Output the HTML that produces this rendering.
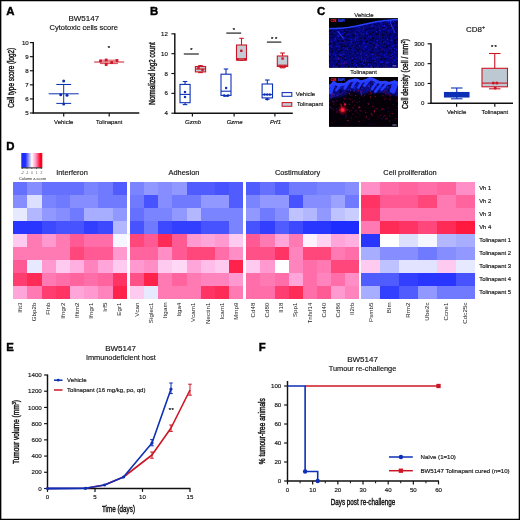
<!DOCTYPE html>
<html lang="en"><head><meta charset="utf-8"><title>Figure</title>
<style>
html,body{margin:0;padding:0;background:#fff;}
body{width:520px;height:520px;overflow:hidden;}
svg{display:block;font-family:'Liberation Sans', sans-serif;}
</style></head><body>
<svg width="520" height="520" viewBox="0 0 520 520">
<rect width="520" height="520" fill="#fff"/>
<text x="6.3" y="14.6" font-size="11.4" text-anchor="start" fill="#000" font-weight="bold" stroke="#000" stroke-width="0.4">A</text>
<text x="150" y="14.6" font-size="11.4" text-anchor="start" fill="#000" font-weight="bold" stroke="#000" stroke-width="0.4">B</text>
<text x="317" y="14.6" font-size="11.4" text-anchor="start" fill="#000" font-weight="bold" stroke="#000" stroke-width="0.4">C</text>
<text x="6.3" y="149.5" font-size="11.4" text-anchor="start" fill="#000" font-weight="bold" stroke="#000" stroke-width="0.4">D</text>
<text x="6.3" y="350.5" font-size="11.4" text-anchor="start" fill="#000" font-weight="bold" stroke="#000" stroke-width="0.4">E</text>
<text x="258.8" y="350.5" font-size="11.4" text-anchor="start" fill="#000" font-weight="bold" stroke="#000" stroke-width="0.4">F</text>
<text x="83.8" y="21" font-size="8" text-anchor="middle" fill="#111"  stroke="#1a1a1a" stroke-width="0.16">BW5147</text>
<text x="83.8" y="30.3" font-size="7.5" text-anchor="middle" fill="#111"  stroke="#1a1a1a" stroke-width="0.16">Cytotoxic cells score</text>
<line x1="33.3" y1="42" x2="33.3" y2="113.6" stroke="#111" stroke-width="1.45" stroke-linecap="butt"/>
<line x1="32.699999999999996" y1="113.0" x2="139.3" y2="113.0" stroke="#111" stroke-width="1.6" stroke-linecap="butt"/>
<line x1="29.9" y1="42.6" x2="33.3" y2="42.6" stroke="#111" stroke-width="1.15" stroke-linecap="butt"/>
<text x="28.699999999999996" y="44.7" font-size="6.1" text-anchor="end" fill="#111"  stroke="#1a1a1a" stroke-width="0.16">10</text>
<line x1="29.9" y1="56.68" x2="33.3" y2="56.68" stroke="#111" stroke-width="1.15" stroke-linecap="butt"/>
<text x="28.699999999999996" y="58.78" font-size="6.1" text-anchor="end" fill="#111"  stroke="#1a1a1a" stroke-width="0.16">9</text>
<line x1="29.9" y1="70.76" x2="33.3" y2="70.76" stroke="#111" stroke-width="1.15" stroke-linecap="butt"/>
<text x="28.699999999999996" y="72.86" font-size="6.1" text-anchor="end" fill="#111"  stroke="#1a1a1a" stroke-width="0.16">8</text>
<line x1="29.9" y1="84.84" x2="33.3" y2="84.84" stroke="#111" stroke-width="1.15" stroke-linecap="butt"/>
<text x="28.699999999999996" y="86.94" font-size="6.1" text-anchor="end" fill="#111"  stroke="#1a1a1a" stroke-width="0.16">7</text>
<line x1="29.9" y1="98.92" x2="33.3" y2="98.92" stroke="#111" stroke-width="1.15" stroke-linecap="butt"/>
<text x="28.699999999999996" y="101.02" font-size="6.1" text-anchor="end" fill="#111"  stroke="#1a1a1a" stroke-width="0.16">6</text>
<line x1="29.9" y1="113.0" x2="33.3" y2="113.0" stroke="#111" stroke-width="1.15" stroke-linecap="butt"/>
<text x="28.699999999999996" y="115.1" font-size="6.1" text-anchor="end" fill="#111"  stroke="#1a1a1a" stroke-width="0.16">5</text>
<line x1="63.7" y1="113.0" x2="63.7" y2="116.4" stroke="#111" stroke-width="1.2" stroke-linecap="butt"/>
<text x="63.7" y="123.8" font-size="6.0" text-anchor="middle" fill="#111"  stroke="#1a1a1a" stroke-width="0.16">Vehicle</text>
<line x1="109.2" y1="113.0" x2="109.2" y2="116.4" stroke="#111" stroke-width="1.2" stroke-linecap="butt"/>
<text x="109.2" y="123.8" font-size="6.0" text-anchor="middle" fill="#111" textLength="26.3" lengthAdjust="spacingAndGlyphs"  stroke="#1a1a1a" stroke-width="0.16">Tolinapant</text>
<text x="13.6" y="77.8" font-size="8.6" text-anchor="middle" fill="#111" textLength="60" lengthAdjust="spacingAndGlyphs" transform="rotate(-90 13.6 77.8)" stroke="#111" stroke-width="0.4">Cell type score (log2)</text>
<line x1="48.7" y1="93.8" x2="78.7" y2="93.8" stroke="#0d30b6" stroke-width="1" stroke-linecap="butt"/>
<line x1="63.7" y1="84.5" x2="63.7" y2="103.4" stroke="#0d30b6" stroke-width="1" stroke-linecap="butt"/>
<line x1="56.3" y1="84.5" x2="71.2" y2="84.5" stroke="#0d30b6" stroke-width="1" stroke-linecap="butt"/>
<line x1="56.3" y1="103.4" x2="71.2" y2="103.4" stroke="#0d30b6" stroke-width="1" stroke-linecap="butt"/>
<circle cx="63.70" cy="81.00" r="1.5" fill="#0d30b6"/>
<circle cx="60.70" cy="94.80" r="1.5" fill="#0d30b6"/>
<circle cx="67.00" cy="95.20" r="1.5" fill="#0d30b6"/>
<circle cx="63.70" cy="104.00" r="1.5" fill="#0d30b6"/>
<line x1="94.2" y1="62" x2="124.2" y2="62" stroke="#cc1626" stroke-width="1" stroke-linecap="butt"/>
<line x1="100" y1="60.2" x2="118" y2="60.2" stroke="#cc1626" stroke-width="0.8" stroke-linecap="butt"/>
<line x1="100" y1="63.6" x2="118" y2="63.6" stroke="#cc1626" stroke-width="0.8" stroke-linecap="butt"/>
<rect x="99.10" y="59.60" width="2.80" height="2.80" fill="#cc1626" stroke="none" stroke-width="1"/>
<rect x="104.80" y="58.60" width="2.80" height="2.80" fill="#cc1626" stroke="none" stroke-width="1"/>
<rect x="104.80" y="63.10" width="2.80" height="2.80" fill="#cc1626" stroke="none" stroke-width="1"/>
<rect x="110.30" y="61.10" width="2.80" height="2.80" fill="#cc1626" stroke="none" stroke-width="1"/>
<rect x="115.60" y="59.10" width="2.80" height="2.80" fill="#cc1626" stroke="none" stroke-width="1"/>
<text x="108.8" y="50.48" font-size="5.8" text-anchor="middle" fill="#111" stroke="#111" stroke-width="0.22" >*</text>
<line x1="174.8" y1="33.34" x2="174.8" y2="113.8" stroke="#111" stroke-width="1.45" stroke-linecap="butt"/>
<line x1="174.20000000000002" y1="113.2" x2="292.8" y2="113.2" stroke="#111" stroke-width="1.6" stroke-linecap="butt"/>
<line x1="171.4" y1="33.84" x2="174.8" y2="33.84" stroke="#111" stroke-width="1.15" stroke-linecap="butt"/>
<text x="167.8" y="35.84" font-size="6.1" text-anchor="end" fill="#111"  stroke="#1a1a1a" stroke-width="0.16">12</text>
<line x1="171.4" y1="53.68000000000001" x2="174.8" y2="53.68000000000001" stroke="#111" stroke-width="1.15" stroke-linecap="butt"/>
<text x="167.8" y="55.68000000000001" font-size="6.1" text-anchor="end" fill="#111"  stroke="#1a1a1a" stroke-width="0.16">10</text>
<line x1="171.4" y1="73.52000000000001" x2="174.8" y2="73.52000000000001" stroke="#111" stroke-width="1.15" stroke-linecap="butt"/>
<text x="167.8" y="75.52000000000001" font-size="6.1" text-anchor="end" fill="#111"  stroke="#1a1a1a" stroke-width="0.16">8</text>
<line x1="171.4" y1="93.36" x2="174.8" y2="93.36" stroke="#111" stroke-width="1.15" stroke-linecap="butt"/>
<text x="167.8" y="95.36" font-size="6.1" text-anchor="end" fill="#111"  stroke="#1a1a1a" stroke-width="0.16">6</text>
<line x1="171.4" y1="113.2" x2="174.8" y2="113.2" stroke="#111" stroke-width="1.15" stroke-linecap="butt"/>
<text x="167.8" y="115.2" font-size="6.1" text-anchor="end" fill="#111"  stroke="#1a1a1a" stroke-width="0.16">4</text>
<line x1="192.4" y1="113.2" x2="192.4" y2="116.60000000000001" stroke="#111" stroke-width="1.2" stroke-linecap="butt"/>
<text x="193.0" y="123.8" font-size="6.0" text-anchor="middle" fill="#111" font-style="italic"  stroke="#1a1a1a" stroke-width="0.16">Gzmb</text>
<line x1="234.10000000000002" y1="113.2" x2="234.10000000000002" y2="116.60000000000001" stroke="#111" stroke-width="1.2" stroke-linecap="butt"/>
<text x="234.70000000000002" y="123.8" font-size="6.0" text-anchor="middle" fill="#111" font-style="italic"  stroke="#1a1a1a" stroke-width="0.16">Gzme</text>
<line x1="274.90000000000003" y1="113.2" x2="274.90000000000003" y2="116.60000000000001" stroke="#111" stroke-width="1.2" stroke-linecap="butt"/>
<text x="275.5" y="123.8" font-size="6.0" text-anchor="middle" fill="#111" font-style="italic"  stroke="#1a1a1a" stroke-width="0.16">Prf1</text>
<text x="154.6" y="73.4" font-size="8.6" text-anchor="middle" fill="#111" textLength="62.5" lengthAdjust="spacingAndGlyphs" transform="rotate(-90 154.6 73.4)" stroke="#111" stroke-width="0.4">Normalized log2 count</text>
<line x1="185.05" y1="81.5" x2="185.05" y2="84.4" stroke="#0d30b6" stroke-width="1.1" stroke-linecap="butt"/>
<line x1="185.05" y1="102.7" x2="185.05" y2="104.6" stroke="#0d30b6" stroke-width="1.1" stroke-linecap="butt"/>
<line x1="182.7775" y1="81.5" x2="187.32250000000002" y2="81.5" stroke="#0d30b6" stroke-width="1.1" stroke-linecap="butt"/>
<line x1="182.7775" y1="104.6" x2="187.32250000000002" y2="104.6" stroke="#0d30b6" stroke-width="1.1" stroke-linecap="butt"/>
<rect x="180.00" y="84.40" width="10.10" height="18.30" fill="none" stroke="#0d30b6" stroke-width="1.1"/>
<line x1="180" y1="94.4" x2="190.1" y2="94.4" stroke="#0d30b6" stroke-width="1.1" stroke-linecap="butt"/>
<circle cx="185.00" cy="91.90" r="1.25" fill="#0d30b6"/>
<circle cx="185.00" cy="96.90" r="1.25" fill="#0d30b6"/>
<line x1="200.5" y1="65.6" x2="200.5" y2="66.5" stroke="#cc1626" stroke-width="1.1" stroke-linecap="butt"/>
<line x1="200.5" y1="71.9" x2="200.5" y2="72.6" stroke="#cc1626" stroke-width="1.1" stroke-linecap="butt"/>
<line x1="198.205" y1="65.6" x2="202.795" y2="65.6" stroke="#cc1626" stroke-width="1.1" stroke-linecap="butt"/>
<line x1="198.205" y1="72.6" x2="202.795" y2="72.6" stroke="#cc1626" stroke-width="1.1" stroke-linecap="butt"/>
<rect x="195.40" y="66.50" width="10.20" height="5.40" fill="#c3ccd4" stroke="#cc1626" stroke-width="1.1"/>
<line x1="195.4" y1="69" x2="205.6" y2="69" stroke="#cc1626" stroke-width="1.1" stroke-linecap="butt"/>
<rect x="197.31" y="66.81" width="2.38" height="2.38" fill="#cc1626" stroke="none" stroke-width="1"/>
<rect x="201.31" y="68.81" width="2.38" height="2.38" fill="#cc1626" stroke="none" stroke-width="1"/>
<line x1="226.0" y1="69" x2="226.0" y2="74.2" stroke="#0d30b6" stroke-width="1.1" stroke-linecap="butt"/>
<line x1="226.0" y1="95.4" x2="226.0" y2="96.2" stroke="#0d30b6" stroke-width="1.1" stroke-linecap="butt"/>
<line x1="223.75" y1="69" x2="228.25" y2="69" stroke="#0d30b6" stroke-width="1.1" stroke-linecap="butt"/>
<line x1="223.75" y1="96.2" x2="228.25" y2="96.2" stroke="#0d30b6" stroke-width="1.1" stroke-linecap="butt"/>
<rect x="221.00" y="74.20" width="10.00" height="21.20" fill="none" stroke="#0d30b6" stroke-width="1.1"/>
<line x1="221" y1="91.2" x2="231" y2="91.2" stroke="#0d30b6" stroke-width="1.1" stroke-linecap="butt"/>
<circle cx="226.10" cy="88.00" r="1.25" fill="#0d30b6"/>
<circle cx="224.10" cy="95.50" r="1.25" fill="#0d30b6"/>
<circle cx="228.10" cy="95.50" r="1.25" fill="#0d30b6"/>
<line x1="241.5" y1="38.3" x2="241.5" y2="45" stroke="#cc1626" stroke-width="1.1" stroke-linecap="butt"/>
<line x1="241.5" y1="60" x2="241.5" y2="60.4" stroke="#cc1626" stroke-width="1.1" stroke-linecap="butt"/>
<line x1="239.25" y1="38.3" x2="243.75" y2="38.3" stroke="#cc1626" stroke-width="1.1" stroke-linecap="butt"/>
<line x1="239.25" y1="60.4" x2="243.75" y2="60.4" stroke="#cc1626" stroke-width="1.1" stroke-linecap="butt"/>
<rect x="236.50" y="45.00" width="10.00" height="15.00" fill="#c3ccd4" stroke="#cc1626" stroke-width="1.1"/>
<line x1="236.5" y1="58.8" x2="246.5" y2="58.8" stroke="#cc1626" stroke-width="1.1" stroke-linecap="butt"/>
<rect x="240.11" y="49.61" width="2.38" height="2.38" fill="#cc1626" stroke="none" stroke-width="1"/>
<rect x="236.61" y="58.31" width="2.38" height="2.38" fill="#cc1626" stroke="none" stroke-width="1"/>
<rect x="244.01" y="58.31" width="2.38" height="2.38" fill="#cc1626" stroke="none" stroke-width="1"/>
<line x1="267.3" y1="80" x2="267.3" y2="84" stroke="#0d30b6" stroke-width="1.1" stroke-linecap="butt"/>
<line x1="267.3" y1="97.9" x2="267.3" y2="99.2" stroke="#0d30b6" stroke-width="1.1" stroke-linecap="butt"/>
<line x1="264.96000000000004" y1="80" x2="269.64" y2="80" stroke="#0d30b6" stroke-width="1.1" stroke-linecap="butt"/>
<line x1="264.96000000000004" y1="99.2" x2="269.64" y2="99.2" stroke="#0d30b6" stroke-width="1.1" stroke-linecap="butt"/>
<rect x="262.10" y="84.00" width="10.40" height="13.90" fill="none" stroke="#0d30b6" stroke-width="1.1"/>
<line x1="262.1" y1="94.6" x2="272.5" y2="94.6" stroke="#0d30b6" stroke-width="1.1" stroke-linecap="butt"/>
<circle cx="264.50" cy="94.60" r="1.25" fill="#0d30b6"/>
<circle cx="267.20" cy="94.60" r="1.25" fill="#0d30b6"/>
<circle cx="269.80" cy="94.60" r="1.25" fill="#0d30b6"/>
<circle cx="267.20" cy="99.20" r="1.25" fill="#0d30b6"/>
<line x1="282.5" y1="53" x2="282.5" y2="56" stroke="#cc1626" stroke-width="1.1" stroke-linecap="butt"/>
<line x1="282.5" y1="66.5" x2="282.5" y2="67.8" stroke="#cc1626" stroke-width="1.1" stroke-linecap="butt"/>
<line x1="280.16" y1="53" x2="284.84" y2="53" stroke="#cc1626" stroke-width="1.1" stroke-linecap="butt"/>
<line x1="280.16" y1="67.8" x2="284.84" y2="67.8" stroke="#cc1626" stroke-width="1.1" stroke-linecap="butt"/>
<rect x="277.30" y="56.00" width="10.40" height="10.50" fill="#c3ccd4" stroke="#cc1626" stroke-width="1.1"/>
<line x1="277.3" y1="65.2" x2="287.7" y2="65.2" stroke="#cc1626" stroke-width="1.1" stroke-linecap="butt"/>
<rect x="281.41" y="57.31" width="2.38" height="2.38" fill="#cc1626" stroke="none" stroke-width="1"/>
<rect x="279.41" y="65.41" width="2.38" height="2.38" fill="#cc1626" stroke="none" stroke-width="1"/>
<rect x="283.51" y="65.41" width="2.38" height="2.38" fill="#cc1626" stroke="none" stroke-width="1"/>
<line x1="183.8" y1="54" x2="198.8" y2="54" stroke="#333" stroke-width="1.3" stroke-linecap="butt"/>
<text x="191.5" y="52.48" font-size="5.8" text-anchor="middle" fill="#111" stroke="#111" stroke-width="0.22" >*</text>
<line x1="226.3" y1="33.1" x2="241.2" y2="33.1" stroke="#333" stroke-width="1.3" stroke-linecap="butt"/>
<text x="234" y="31.98" font-size="5.8" text-anchor="middle" fill="#111" stroke="#111" stroke-width="0.22" >*</text>
<line x1="266.9" y1="42.1" x2="281.3" y2="42.1" stroke="#333" stroke-width="1.3" stroke-linecap="butt"/>
<text x="275" y="41.18" font-size="5.8" text-anchor="middle" fill="#111" stroke="#111" stroke-width="0.22" letter-spacing="1.74">**</text>
<rect x="282.10" y="92.60" width="9.70" height="3.70" fill="#fff" stroke="#0d30b6" stroke-width="1.05"/>
<rect x="282.10" y="102.60" width="9.70" height="3.70" fill="#c3ccd4" stroke="#cc1626" stroke-width="1.05"/>
<text x="295.8" y="96.3" font-size="6.0" text-anchor="start" fill="#111"  stroke="#1a1a1a" stroke-width="0.16">Vehicle</text>
<text x="296.9" y="106.4" font-size="6.0" text-anchor="start" fill="#111" textLength="26.3" lengthAdjust="spacingAndGlyphs"  stroke="#1a1a1a" stroke-width="0.16">Tolinapant</text>
<text x="363.9" y="16.7" font-size="6.0" text-anchor="middle" fill="#111"  stroke="#1a1a1a" stroke-width="0.16">Vehicle</text>
<text x="363.6" y="74.4" font-size="6.0" text-anchor="middle" fill="#111" textLength="26.5" lengthAdjust="spacingAndGlyphs"  stroke="#1a1a1a" stroke-width="0.16">Tolinapant</text>
<defs><clipPath id="cv"><rect x="328.9" y="18.1" width="69.1" height="49.7"/></clipPath><clipPath id="ct"><rect x="328.9" y="76.9" width="69.1" height="50"/></clipPath><filter id="b1" x="-10%" y="-10%" width="120%" height="120%"><feGaussianBlur stdDeviation="0.5"/></filter><filter id="b2" x="-10%" y="-10%" width="120%" height="120%"><feGaussianBlur stdDeviation="0.9"/></filter></defs>
<g clip-path="url(#cv)">
<rect x="328.90" y="18.10" width="69.10" height="49.70" fill="#010108" stroke="none" stroke-width="1"/>
<polygon points="328.9,28.7 331.2,28.6 333.5,28.5 335.8,28.4 338.1,28.3 340.4,28.2 342.7,28.0 345.0,27.7 347.3,27.5 349.6,27.2 351.9,26.8 354.2,26.4 356.5,26.0 358.8,25.5 361.1,25.0 363.4,24.5 365.8,24.0 368.1,23.5 370.4,23.0 372.7,22.5 375.0,22.1 377.3,21.6 379.6,21.3 381.9,21.0 384.2,20.6 386.5,20.4 388.8,20.2 391.1,20.0 393.4,19.8 395.7,19.7 398.0,19.6 398,67.8 328.9,67.8" fill="#07077c"/>
<g filter="url(#b1)">
<circle cx="365.93" cy="36.27" r="0.37609951614861803" fill="#000028"/>
<circle cx="357.80" cy="30.06" r="0.5979712642061236" fill="#1414d8"/>
<circle cx="386.04" cy="24.25" r="0.45045753407315653" fill="#03035a"/>
<circle cx="394.39" cy="46.78" r="0.5285062135928511" fill="#000018"/>
<circle cx="332.12" cy="60.77" r="0.4803241788492543" fill="#1818e8"/>
<circle cx="366.26" cy="46.47" r="0.6021157746557657" fill="#1818e8"/>
<circle cx="336.02" cy="46.49" r="0.4345419620542146" fill="#0a0ab0"/>
<circle cx="375.92" cy="39.35" r="0.4913662266695562" fill="#03035a"/>
<circle cx="392.71" cy="36.07" r="0.4617919631858972" fill="#1818e8"/>
<circle cx="377.20" cy="30.23" r="0.608490669616402" fill="#000028"/>
<circle cx="363.11" cy="35.17" r="0.5519753856925069" fill="#03035a"/>
<circle cx="396.63" cy="23.97" r="0.5381552698033523" fill="#000020"/>
<circle cx="339.40" cy="42.40" r="0.3676432656713469" fill="#0a0ab0"/>
<circle cx="381.73" cy="46.58" r="0.7439650153238997" fill="#000020"/>
<circle cx="352.40" cy="35.50" r="0.5735036578845445" fill="#02024a"/>
<circle cx="347.55" cy="52.74" r="0.37924998907224267" fill="#000010"/>
<circle cx="373.62" cy="67.46" r="0.7198661539743718" fill="#000010"/>
<circle cx="378.42" cy="62.19" r="0.5061523650598028" fill="#02024a"/>
<circle cx="353.46" cy="48.46" r="0.5721618475506417" fill="#000018"/>
<circle cx="381.98" cy="24.53" r="0.4614266751636114" fill="#0e0ec0"/>
<circle cx="392.25" cy="42.78" r="0.42486482711236423" fill="#0e0ec0"/>
<circle cx="366.87" cy="62.00" r="0.7186759270260836" fill="#000028"/>
<circle cx="348.14" cy="38.74" r="0.5114470243992312" fill="#0e0ec0"/>
<circle cx="395.08" cy="25.60" r="0.42929797782066664" fill="#000018"/>
<circle cx="386.33" cy="27.16" r="0.47686882504703193" fill="#1818e8"/>
<circle cx="357.85" cy="36.45" r="0.6048535506678764" fill="#1818e8"/>
<circle cx="376.61" cy="43.72" r="0.6279167372341075" fill="#1414d8"/>
<circle cx="360.45" cy="61.39" r="0.7783487993741851" fill="#000028"/>
<circle cx="356.01" cy="37.93" r="0.3965916921696459" fill="#0e0ec0"/>
<circle cx="335.91" cy="36.17" r="0.36147539899976555" fill="#000018"/>
<circle cx="371.33" cy="25.48" r="0.46351599045068476" fill="#000020"/>
<circle cx="370.52" cy="41.67" r="0.40190908224896793" fill="#02024a"/>
<circle cx="397.52" cy="41.26" r="0.5677255953873213" fill="#0a0ab0"/>
<circle cx="338.86" cy="55.36" r="0.6831580509926424" fill="#02024a"/>
<circle cx="386.17" cy="26.12" r="0.3603930744703617" fill="#000028"/>
<circle cx="353.90" cy="52.40" r="0.7613656022561276" fill="#000028"/>
<circle cx="349.50" cy="50.05" r="0.39095474901265315" fill="#000010"/>
<circle cx="364.72" cy="63.24" r="0.5100632764203255" fill="#000018"/>
<circle cx="365.70" cy="56.82" r="0.49834924777149303" fill="#000018"/>
<circle cx="371.27" cy="57.28" r="0.6912450908398848" fill="#000018"/>
<circle cx="384.60" cy="58.77" r="0.6829428591690714" fill="#000018"/>
<circle cx="342.71" cy="42.59" r="0.6789517966139396" fill="#1414d8"/>
<circle cx="383.50" cy="41.57" r="0.4371402257057642" fill="#03035a"/>
<circle cx="395.00" cy="40.33" r="0.7716595405743091" fill="#000020"/>
<circle cx="394.89" cy="36.22" r="0.44920804534830683" fill="#000018"/>
<circle cx="361.38" cy="34.89" r="0.5671939859601101" fill="#03035a"/>
<circle cx="386.97" cy="41.93" r="0.6438401192784541" fill="#0a0ab0"/>
<circle cx="386.57" cy="24.06" r="0.5248410847189746" fill="#000018"/>
<circle cx="361.93" cy="26.97" r="0.7051109439591243" fill="#000020"/>
<circle cx="334.89" cy="65.12" r="0.6748211289057682" fill="#02024a"/>
<circle cx="356.64" cy="65.16" r="0.6761593995353969" fill="#1818e8"/>
<circle cx="369.73" cy="41.23" r="0.6451361854804936" fill="#03035a"/>
<circle cx="386.01" cy="66.82" r="0.6457707317312089" fill="#000020"/>
<circle cx="339.67" cy="45.35" r="0.35962850344486025" fill="#0a0ab0"/>
<circle cx="365.29" cy="64.50" r="0.5452142465408685" fill="#000018"/>
<circle cx="385.99" cy="28.59" r="0.4633256651144542" fill="#000010"/>
<circle cx="363.53" cy="56.05" r="0.49669518855746203" fill="#000028"/>
<circle cx="391.78" cy="35.68" r="0.5561724439122802" fill="#03035a"/>
<circle cx="385.22" cy="43.78" r="0.7222128571046478" fill="#000028"/>
<circle cx="364.18" cy="61.48" r="0.6994277706920993" fill="#03035a"/>
<circle cx="329.17" cy="57.82" r="0.427556020496052" fill="#02024a"/>
<circle cx="371.68" cy="24.08" r="0.37778987919309703" fill="#000028"/>
<circle cx="365.57" cy="42.08" r="0.6994205452334079" fill="#000028"/>
<circle cx="390.68" cy="21.25" r="0.4965261368128474" fill="#000028"/>
<circle cx="370.78" cy="28.01" r="0.4747334931310684" fill="#000028"/>
<circle cx="365.75" cy="41.86" r="0.7736755073923254" fill="#000028"/>
<circle cx="389.47" cy="64.93" r="0.46681653235296083" fill="#000028"/>
<circle cx="390.59" cy="28.17" r="0.5513876997806914" fill="#0e0ec0"/>
<circle cx="337.30" cy="40.07" r="0.3826457448454197" fill="#000018"/>
<circle cx="358.50" cy="28.67" r="0.48625103386321067" fill="#0a0ab0"/>
<circle cx="390.88" cy="25.78" r="0.6722539472546882" fill="#000020"/>
<circle cx="338.78" cy="61.98" r="0.7853951521998728" fill="#000018"/>
<circle cx="380.50" cy="22.78" r="0.748219795668627" fill="#1818e8"/>
<circle cx="397.30" cy="59.47" r="0.4226597269463956" fill="#0e0ec0"/>
<circle cx="397.59" cy="38.17" r="0.5395744132852934" fill="#000020"/>
<circle cx="350.91" cy="53.99" r="0.3587673176235769" fill="#000028"/>
<circle cx="360.59" cy="53.05" r="0.5229550510583374" fill="#000028"/>
<circle cx="372.01" cy="43.56" r="0.3789308566658383" fill="#000018"/>
<circle cx="396.04" cy="23.31" r="0.4695039225545839" fill="#1414d8"/>
<circle cx="391.50" cy="27.12" r="0.6900994465373457" fill="#0e0ec0"/>
<circle cx="387.61" cy="51.70" r="0.775700702640221" fill="#0e0ec0"/>
<circle cx="339.22" cy="63.78" r="0.6067677164269643" fill="#000020"/>
<circle cx="376.46" cy="39.24" r="0.3825863426254357" fill="#1414d8"/>
<circle cx="372.74" cy="57.94" r="0.3876841368055331" fill="#000018"/>
<circle cx="333.50" cy="60.98" r="0.5541980844378163" fill="#000020"/>
<circle cx="397.61" cy="38.86" r="0.7619420164863533" fill="#03035a"/>
<circle cx="337.83" cy="44.29" r="0.45729627625760927" fill="#0a0ab0"/>
<circle cx="395.87" cy="31.12" r="0.4315156854003348" fill="#000010"/>
<circle cx="372.34" cy="44.49" r="0.4426421961224256" fill="#02024a"/>
<circle cx="363.46" cy="26.94" r="0.5061504599575365" fill="#1414d8"/>
<circle cx="330.17" cy="43.23" r="0.7901232319716769" fill="#000028"/>
<circle cx="361.71" cy="64.55" r="0.3978266052621911" fill="#0e0ec0"/>
<circle cx="374.26" cy="45.23" r="0.7499266861147339" fill="#000028"/>
<circle cx="350.17" cy="28.79" r="0.4533048119710168" fill="#000018"/>
<circle cx="386.41" cy="53.22" r="0.6361896269982565" fill="#0e0ec0"/>
<circle cx="397.27" cy="66.90" r="0.7266447522373376" fill="#1414d8"/>
<circle cx="333.79" cy="54.92" r="0.4650172445463636" fill="#1818e8"/>
<circle cx="332.73" cy="51.16" r="0.5213968034218402" fill="#000028"/>
<circle cx="375.23" cy="32.11" r="0.45899582029661895" fill="#000010"/>
<circle cx="354.06" cy="34.45" r="0.7932100869430827" fill="#000020"/>
<circle cx="345.79" cy="66.09" r="0.48929656295507873" fill="#000020"/>
<circle cx="341.54" cy="34.77" r="0.38775075237147233" fill="#000010"/>
<circle cx="363.64" cy="28.09" r="0.5771310377814407" fill="#1414d8"/>
<circle cx="335.18" cy="58.71" r="0.4147393135710062" fill="#03035a"/>
<circle cx="349.92" cy="29.67" r="0.6135124778817351" fill="#000028"/>
<circle cx="387.86" cy="25.82" r="0.7517605269118923" fill="#03035a"/>
<circle cx="355.82" cy="34.31" r="0.7931280882834333" fill="#1818e8"/>
<circle cx="348.54" cy="48.85" r="0.4151384954877542" fill="#000028"/>
<circle cx="372.25" cy="54.57" r="0.7154985120705774" fill="#1818e8"/>
<circle cx="391.77" cy="55.52" r="0.605815774766519" fill="#1414d8"/>
<circle cx="386.00" cy="47.13" r="0.7517733813824785" fill="#000018"/>
<circle cx="372.92" cy="65.79" r="0.519478219197091" fill="#02024a"/>
<circle cx="367.49" cy="49.30" r="0.6318019065197538" fill="#000018"/>
<circle cx="384.02" cy="55.29" r="0.5763369735631042" fill="#000028"/>
<circle cx="335.25" cy="44.24" r="0.6855775593337026" fill="#02024a"/>
<circle cx="347.25" cy="54.35" r="0.4423478871869389" fill="#02024a"/>
<circle cx="363.03" cy="37.11" r="0.5655545738317818" fill="#000010"/>
<circle cx="381.90" cy="48.76" r="0.6392433389218939" fill="#0a0ab0"/>
<circle cx="370.34" cy="34.59" r="0.643190462771414" fill="#000010"/>
<circle cx="371.82" cy="24.73" r="0.5670893142171014" fill="#02024a"/>
<circle cx="347.47" cy="51.50" r="0.6614833276567016" fill="#02024a"/>
<circle cx="349.00" cy="43.77" r="0.5590982840184415" fill="#02024a"/>
<circle cx="381.91" cy="67.47" r="0.5970844279204497" fill="#000010"/>
<circle cx="396.49" cy="64.63" r="0.35787700511749826" fill="#02024a"/>
<circle cx="334.18" cy="43.28" r="0.7975741211492786" fill="#000010"/>
<circle cx="355.63" cy="63.65" r="0.7687412250401002" fill="#0a0ab0"/>
<circle cx="369.08" cy="25.14" r="0.5858295706496688" fill="#000020"/>
<circle cx="338.06" cy="58.86" r="0.5789349591419515" fill="#0a0ab0"/>
<circle cx="377.50" cy="29.60" r="0.7539675630201799" fill="#02024a"/>
<circle cx="394.54" cy="51.97" r="0.5324386983057705" fill="#1818e8"/>
<circle cx="357.66" cy="36.79" r="0.4044092094756958" fill="#000020"/>
<circle cx="329.02" cy="55.41" r="0.7275998575927078" fill="#0a0ab0"/>
<circle cx="393.85" cy="27.83" r="0.35527472798306453" fill="#000010"/>
<circle cx="355.86" cy="61.34" r="0.38438031161069264" fill="#0e0ec0"/>
<circle cx="381.12" cy="60.56" r="0.47628696706719276" fill="#1414d8"/>
<circle cx="386.58" cy="32.30" r="0.7710154497400781" fill="#000018"/>
<circle cx="396.00" cy="39.78" r="0.4920206176894312" fill="#000020"/>
<circle cx="383.15" cy="39.36" r="0.3630550918384121" fill="#0e0ec0"/>
<circle cx="392.02" cy="64.85" r="0.5971526666845837" fill="#0a0ab0"/>
<circle cx="332.32" cy="54.50" r="0.5528871903323481" fill="#1818e8"/>
<circle cx="373.43" cy="32.32" r="0.3720396072444122" fill="#000028"/>
<circle cx="337.70" cy="41.57" r="0.5046482836960682" fill="#000010"/>
<circle cx="346.57" cy="54.82" r="0.6437680212190455" fill="#0e0ec0"/>
<circle cx="374.23" cy="33.05" r="0.6007947661056682" fill="#0e0ec0"/>
<circle cx="337.17" cy="50.07" r="0.3838267668600576" fill="#000028"/>
<circle cx="391.50" cy="42.80" r="0.44901136349025167" fill="#000020"/>
<circle cx="397.76" cy="40.46" r="0.41281822879987495" fill="#000018"/>
<circle cx="367.31" cy="33.97" r="0.5157374006976254" fill="#03035a"/>
<circle cx="389.06" cy="37.13" r="0.6856282456656968" fill="#000018"/>
<circle cx="354.94" cy="34.91" r="0.3779267830712024" fill="#000010"/>
<circle cx="368.58" cy="36.00" r="0.6590389309564835" fill="#000028"/>
<circle cx="372.41" cy="60.98" r="0.4471834133689789" fill="#000010"/>
<circle cx="390.87" cy="37.21" r="0.640606270735236" fill="#0e0ec0"/>
<circle cx="394.82" cy="60.28" r="0.7428009438188238" fill="#1414d8"/>
<circle cx="337.69" cy="39.23" r="0.6936608460028726" fill="#02024a"/>
<circle cx="395.81" cy="42.44" r="0.3829120470299161" fill="#000028"/>
<circle cx="388.01" cy="66.42" r="0.46180937739013306" fill="#0a0ab0"/>
<circle cx="396.06" cy="23.51" r="0.721427907979346" fill="#02024a"/>
<circle cx="334.77" cy="56.71" r="0.3506147179904161" fill="#1818e8"/>
<circle cx="344.97" cy="63.82" r="0.6404775993657092" fill="#000010"/>
<circle cx="395.40" cy="49.24" r="0.5877139142627343" fill="#0e0ec0"/>
<circle cx="377.17" cy="23.67" r="0.3816583587613491" fill="#000028"/>
<circle cx="394.10" cy="27.63" r="0.4673968460456458" fill="#03035a"/>
<circle cx="328.98" cy="44.81" r="0.7983683232762723" fill="#000010"/>
<circle cx="395.16" cy="50.14" r="0.7476983130653272" fill="#02024a"/>
<circle cx="365.27" cy="45.29" r="0.36317638518122136" fill="#0e0ec0"/>
<circle cx="377.59" cy="33.38" r="0.35980432284885533" fill="#02024a"/>
<circle cx="390.04" cy="50.26" r="0.38649143104080297" fill="#000018"/>
<circle cx="375.01" cy="64.08" r="0.45205373296010903" fill="#1414d8"/>
<circle cx="376.98" cy="53.80" r="0.5130439512964711" fill="#0e0ec0"/>
<circle cx="342.59" cy="57.71" r="0.682608149799089" fill="#000028"/>
<circle cx="333.56" cy="42.74" r="0.4401862113943106" fill="#000018"/>
<circle cx="344.85" cy="29.11" r="0.6922118328526634" fill="#000010"/>
<circle cx="336.43" cy="49.09" r="0.624544240044735" fill="#000018"/>
<circle cx="362.42" cy="63.35" r="0.3753876848291053" fill="#03035a"/>
<circle cx="339.02" cy="37.65" r="0.4458270837413737" fill="#03035a"/>
<circle cx="333.06" cy="37.65" r="0.7541753330857727" fill="#000020"/>
<circle cx="379.53" cy="67.68" r="0.7692179741303264" fill="#000020"/>
<circle cx="342.08" cy="50.53" r="0.5861589106607348" fill="#02024a"/>
<circle cx="331.10" cy="51.12" r="0.5203787373573121" fill="#000020"/>
<circle cx="396.96" cy="40.09" r="0.39903093502887954" fill="#0a0ab0"/>
<circle cx="348.23" cy="35.57" r="0.77998167461401" fill="#0a0ab0"/>
<circle cx="367.67" cy="55.81" r="0.5210583605653282" fill="#000010"/>
<circle cx="385.70" cy="39.59" r="0.3721658011329577" fill="#02024a"/>
<circle cx="342.42" cy="45.01" r="0.5508563744788004" fill="#000020"/>
<circle cx="354.07" cy="62.68" r="0.36362692478483877" fill="#0e0ec0"/>
<circle cx="346.04" cy="49.18" r="0.5321476743988116" fill="#0e0ec0"/>
<circle cx="392.48" cy="30.87" r="0.6862790620199091" fill="#03035a"/>
<circle cx="352.33" cy="31.63" r="0.7809603223889552" fill="#03035a"/>
<circle cx="331.91" cy="55.20" r="0.6603098045469644" fill="#000010"/>
<circle cx="349.45" cy="53.96" r="0.618005670699528" fill="#0a0ab0"/>
<circle cx="330.58" cy="29.72" r="0.5638350760341214" fill="#02024a"/>
<circle cx="394.82" cy="37.31" r="0.46297106937389654" fill="#0e0ec0"/>
<circle cx="385.20" cy="24.70" r="0.5734432733231981" fill="#1414d8"/>
<circle cx="384.36" cy="54.80" r="0.7202398636300078" fill="#1818e8"/>
<circle cx="370.86" cy="34.39" r="0.4937969517510499" fill="#000020"/>
<circle cx="383.06" cy="47.71" r="0.5803481510936492" fill="#0e0ec0"/>
<circle cx="380.92" cy="30.39" r="0.3791298616103507" fill="#1414d8"/>
<circle cx="362.18" cy="45.17" r="0.4223115737819306" fill="#0e0ec0"/>
<circle cx="389.95" cy="67.19" r="0.4692010922809743" fill="#0a0ab0"/>
<circle cx="343.30" cy="39.03" r="0.794794461648144" fill="#02024a"/>
<circle cx="360.75" cy="62.40" r="0.4557199916734521" fill="#000028"/>
<circle cx="387.43" cy="51.12" r="0.4045241318709236" fill="#000010"/>
<circle cx="349.20" cy="46.27" r="0.5178369668448375" fill="#000010"/>
<circle cx="342.66" cy="30.40" r="0.4604031336007774" fill="#1818e8"/>
<circle cx="348.34" cy="63.21" r="0.4347125604514186" fill="#0a0ab0"/>
<circle cx="356.27" cy="67.42" r="0.5782960309597771" fill="#000018"/>
<circle cx="329.21" cy="61.98" r="0.4540011016894159" fill="#02024a"/>
<circle cx="342.00" cy="66.46" r="0.6124371944917195" fill="#0a0ab0"/>
<circle cx="354.62" cy="61.15" r="0.5521012359959556" fill="#000010"/>
<circle cx="382.45" cy="51.14" r="0.3528527844518499" fill="#03035a"/>
<circle cx="377.94" cy="35.48" r="0.3668545299464378" fill="#000020"/>
<circle cx="346.51" cy="47.89" r="0.6432392694896446" fill="#000018"/>
<circle cx="385.20" cy="58.80" r="0.5340477031114987" fill="#000020"/>
<circle cx="341.69" cy="33.62" r="0.44153349745392767" fill="#02024a"/>
<circle cx="335.91" cy="37.75" r="0.5975619246777033" fill="#000028"/>
<circle cx="376.95" cy="38.47" r="0.47748553753282813" fill="#000010"/>
<circle cx="380.40" cy="62.02" r="0.5363360120907457" fill="#1414d8"/>
<circle cx="388.62" cy="67.63" r="0.5137016187609373" fill="#000018"/>
<circle cx="355.90" cy="38.23" r="0.7738943346041773" fill="#0e0ec0"/>
<circle cx="391.20" cy="39.16" r="0.7191658615374537" fill="#0e0ec0"/>
<circle cx="368.83" cy="36.23" r="0.6978745201464375" fill="#1818e8"/>
<circle cx="329.93" cy="45.51" r="0.6383000114031934" fill="#0e0ec0"/>
<circle cx="335.05" cy="49.02" r="0.5168796310705097" fill="#000028"/>
<circle cx="340.76" cy="35.39" r="0.42281662549467003" fill="#1818e8"/>
<circle cx="392.85" cy="23.51" r="0.5707293423943229" fill="#000018"/>
<circle cx="349.74" cy="59.71" r="0.3695738024189767" fill="#02024a"/>
<circle cx="350.63" cy="48.30" r="0.6363654768061104" fill="#0a0ab0"/>
<circle cx="391.38" cy="48.93" r="0.7210500892327114" fill="#1818e8"/>
<circle cx="373.15" cy="60.67" r="0.6294738894851359" fill="#03035a"/>
<circle cx="387.38" cy="59.31" r="0.43233449462385676" fill="#000018"/>
<circle cx="331.78" cy="64.75" r="0.4204155048177344" fill="#000020"/>
<circle cx="337.40" cy="30.38" r="0.6761972108262955" fill="#000018"/>
<circle cx="331.74" cy="46.05" r="0.6908575646766577" fill="#1414d8"/>
<circle cx="375.05" cy="34.21" r="0.5254264326377502" fill="#02024a"/>
<circle cx="366.91" cy="49.26" r="0.48779636466549736" fill="#0e0ec0"/>
<circle cx="350.20" cy="30.49" r="0.5251454245036782" fill="#000020"/>
<circle cx="359.77" cy="39.89" r="0.36051887610240757" fill="#03035a"/>
<circle cx="397.04" cy="41.22" r="0.5510684921861018" fill="#03035a"/>
<circle cx="382.80" cy="40.88" r="0.43080606546057915" fill="#02024a"/>
<circle cx="353.68" cy="36.26" r="0.7110269006258638" fill="#000028"/>
<circle cx="379.58" cy="56.75" r="0.5801667797266362" fill="#1414d8"/>
<circle cx="380.87" cy="62.57" r="0.643735545336385" fill="#1818e8"/>
<circle cx="371.34" cy="52.52" r="0.3993146195051691" fill="#1818e8"/>
<circle cx="396.74" cy="42.55" r="0.7804876798014918" fill="#1818e8"/>
<circle cx="376.31" cy="53.94" r="0.4495070511809162" fill="#000020"/>
<circle cx="371.08" cy="30.64" r="0.49572755361677523" fill="#03035a"/>
<circle cx="347.90" cy="58.64" r="0.4146075328020202" fill="#000028"/>
<circle cx="395.54" cy="41.96" r="0.6163494949660484" fill="#03035a"/>
<circle cx="363.87" cy="33.96" r="0.3665748755598363" fill="#1818e8"/>
<circle cx="356.78" cy="49.74" r="0.4751891777355669" fill="#000020"/>
<circle cx="390.77" cy="26.49" r="0.7031911918442948" fill="#0a0ab0"/>
<circle cx="388.21" cy="66.12" r="0.5538673665361931" fill="#000028"/>
<circle cx="368.98" cy="61.96" r="0.3970739592866168" fill="#000028"/>
<circle cx="372.42" cy="37.69" r="0.7089517725047454" fill="#000010"/>
<circle cx="354.86" cy="36.44" r="0.41578794987583995" fill="#000020"/>
<circle cx="381.74" cy="40.08" r="0.4295402264365415" fill="#1414d8"/>
<circle cx="349.38" cy="43.75" r="0.48953259876114896" fill="#03035a"/>
<circle cx="393.06" cy="62.62" r="0.6798674490362848" fill="#1414d8"/>
<circle cx="344.22" cy="32.56" r="0.6315280995853603" fill="#0e0ec0"/>
<circle cx="364.33" cy="62.61" r="0.40941048204733077" fill="#000018"/>
<circle cx="332.66" cy="46.29" r="0.48668245150046935" fill="#000028"/>
<circle cx="353.58" cy="29.25" r="0.6126159137898664" fill="#03035a"/>
<circle cx="338.14" cy="36.30" r="0.7228122656323449" fill="#1818e8"/>
<circle cx="338.21" cy="64.65" r="0.4596147199598154" fill="#1818e8"/>
<circle cx="338.90" cy="51.17" r="0.4713920640265852" fill="#000010"/>
<circle cx="395.73" cy="20.89" r="0.7193963084597068" fill="#000020"/>
<circle cx="370.00" cy="46.85" r="0.6208466598519735" fill="#000028"/>
<circle cx="379.59" cy="30.45" r="0.756576561556606" fill="#1414d8"/>
<circle cx="391.90" cy="23.31" r="0.6256878144883762" fill="#000018"/>
<circle cx="370.92" cy="43.30" r="0.6387064854566755" fill="#03035a"/>
<circle cx="340.97" cy="33.48" r="0.48511977480116275" fill="#1414d8"/>
<circle cx="397.59" cy="54.10" r="0.5650663709039194" fill="#000028"/>
<circle cx="329.34" cy="60.07" r="0.6853343506195908" fill="#02024a"/>
<circle cx="334.46" cy="50.68" r="0.4289262775456666" fill="#0a0ab0"/>
<circle cx="346.96" cy="50.11" r="0.4054699376298653" fill="#000010"/>
<circle cx="378.08" cy="31.32" r="0.5992044911209918" fill="#0e0ec0"/>
<circle cx="376.28" cy="63.69" r="0.7873512798501798" fill="#000010"/>
<circle cx="373.26" cy="66.07" r="0.44764798871010164" fill="#000028"/>
<circle cx="329.95" cy="31.04" r="0.45624918176811413" fill="#000018"/>
<circle cx="394.18" cy="55.18" r="0.49709212844350664" fill="#0e0ec0"/>
<circle cx="351.60" cy="29.99" r="0.7584057773155538" fill="#000028"/>
<circle cx="361.34" cy="59.83" r="0.6639281939929111" fill="#1414d8"/>
<circle cx="359.11" cy="54.11" r="0.6066532142321871" fill="#000010"/>
<circle cx="383.43" cy="37.56" r="0.6133995338157643" fill="#03035a"/>
<circle cx="391.84" cy="25.29" r="0.362106147411107" fill="#0a0ab0"/>
<circle cx="371.88" cy="26.14" r="0.7898336337046974" fill="#1414d8"/>
<circle cx="388.08" cy="55.96" r="0.4396904872201586" fill="#000028"/>
<circle cx="390.49" cy="21.38" r="0.7405065211660986" fill="#0e0ec0"/>
<circle cx="387.48" cy="58.46" r="0.6353777389180763" fill="#000010"/>
<circle cx="383.62" cy="50.22" r="0.48250672886976964" fill="#000020"/>
<circle cx="346.64" cy="32.14" r="0.6720929849291846" fill="#000020"/>
<circle cx="391.80" cy="56.33" r="0.6209037659815088" fill="#02024a"/>
<circle cx="387.73" cy="48.83" r="0.3639416121324534" fill="#0e0ec0"/>
<circle cx="331.06" cy="43.88" r="0.39423478101232456" fill="#02024a"/>
<circle cx="377.59" cy="44.83" r="0.4474584156384731" fill="#0a0ab0"/>
<circle cx="368.60" cy="32.37" r="0.5462258685423774" fill="#000028"/>
<circle cx="342.86" cy="55.98" r="0.7900395667127076" fill="#1414d8"/>
<circle cx="376.94" cy="59.12" r="0.7852202856731545" fill="#03035a"/>
<circle cx="352.89" cy="59.44" r="0.467258787230427" fill="#1818e8"/>
<circle cx="348.51" cy="28.77" r="0.6647656172825948" fill="#02024a"/>
<circle cx="340.36" cy="64.75" r="0.6950642957269935" fill="#02024a"/>
<circle cx="383.34" cy="52.75" r="0.7041199095327486" fill="#000020"/>
<circle cx="353.47" cy="38.04" r="0.5275697566667853" fill="#0a0ab0"/>
<circle cx="358.07" cy="50.20" r="0.5173774975743335" fill="#000010"/>
<circle cx="347.09" cy="62.89" r="0.575535580717006" fill="#0e0ec0"/>
<circle cx="396.78" cy="49.45" r="0.7747640390501067" fill="#1818e8"/>
<circle cx="365.63" cy="55.60" r="0.6888452371389195" fill="#1414d8"/>
<circle cx="352.98" cy="34.34" r="0.41989703543930645" fill="#02024a"/>
<circle cx="374.65" cy="54.98" r="0.42629774032846623" fill="#02024a"/>
<circle cx="376.51" cy="30.88" r="0.45396100697462016" fill="#000020"/>
<circle cx="360.83" cy="62.09" r="0.45707318543245296" fill="#000018"/>
<circle cx="347.38" cy="55.61" r="0.7219358248982435" fill="#03035a"/>
<circle cx="346.01" cy="34.33" r="0.5849804405635926" fill="#1818e8"/>
<circle cx="345.22" cy="65.60" r="0.46640967494857827" fill="#0a0ab0"/>
<circle cx="340.27" cy="50.80" r="0.4379444213427961" fill="#1818e8"/>
<circle cx="396.88" cy="57.61" r="0.679981668545544" fill="#0e0ec0"/>
<circle cx="391.88" cy="32.06" r="0.7483616506662484" fill="#02024a"/>
<circle cx="331.24" cy="37.93" r="0.7059519331636848" fill="#000018"/>
<circle cx="363.48" cy="49.53" r="0.5584756613519251" fill="#1818e8"/>
<circle cx="346.67" cy="54.79" r="0.35248294683862924" fill="#000018"/>
<circle cx="391.64" cy="39.47" r="0.6082901151056742" fill="#0e0ec0"/>
<circle cx="387.36" cy="51.29" r="0.6436183459761349" fill="#03035a"/>
<circle cx="387.80" cy="51.88" r="0.6386924699388219" fill="#02024a"/>
<circle cx="358.79" cy="31.01" r="0.6652925803813343" fill="#0e0ec0"/>
<circle cx="345.65" cy="37.99" r="0.6706859747568266" fill="#1818e8"/>
<circle cx="346.18" cy="39.15" r="0.5548375130358769" fill="#03035a"/>
<circle cx="388.22" cy="43.86" r="0.6474964482232095" fill="#1818e8"/>
<circle cx="390.71" cy="34.40" r="0.3547844486305027" fill="#02024a"/>
<circle cx="391.66" cy="23.39" r="0.46305039781713453" fill="#000018"/>
<circle cx="340.01" cy="56.96" r="0.7732644721114277" fill="#000028"/>
<circle cx="352.96" cy="60.20" r="0.5555531113853" fill="#000018"/>
<circle cx="378.47" cy="43.56" r="0.6376675799984861" fill="#000020"/>
<circle cx="364.95" cy="38.49" r="0.776587679651449" fill="#000018"/>
<circle cx="397.33" cy="27.23" r="0.5812064431102256" fill="#0a0ab0"/>
<circle cx="379.28" cy="48.62" r="0.6369059642812478" fill="#000010"/>
<circle cx="347.86" cy="37.96" r="0.3559887527214976" fill="#0e0ec0"/>
<circle cx="392.16" cy="49.34" r="0.6536978476379532" fill="#03035a"/>
<circle cx="347.22" cy="29.25" r="0.6836617803589624" fill="#000028"/>
<circle cx="396.03" cy="67.51" r="0.7823831820963565" fill="#02024a"/>
<circle cx="382.56" cy="58.34" r="0.6354343003550724" fill="#02024a"/>
<circle cx="373.28" cy="53.92" r="0.7165876949857093" fill="#1818e8"/>
<circle cx="353.30" cy="49.85" r="0.7184326217164514" fill="#0e0ec0"/>
<circle cx="361.25" cy="32.73" r="0.5967204704308762" fill="#1818e8"/>
<circle cx="382.79" cy="41.43" r="0.702617060264955" fill="#000018"/>
<circle cx="347.38" cy="36.79" r="0.4640971213005556" fill="#0e0ec0"/>
<circle cx="375.81" cy="42.03" r="0.7124464573324116" fill="#000010"/>
<circle cx="353.64" cy="50.62" r="0.4941442308261806" fill="#02024a"/>
<circle cx="358.51" cy="49.77" r="0.6466689933363803" fill="#000020"/>
<circle cx="339.46" cy="33.17" r="0.5232998112267129" fill="#0a0ab0"/>
<circle cx="386.11" cy="63.12" r="0.7028172941817024" fill="#1818e8"/>
<circle cx="365.57" cy="35.25" r="0.6121049050744147" fill="#1414d8"/>
<circle cx="349.15" cy="48.33" r="0.6103192013817254" fill="#000018"/>
<circle cx="341.73" cy="40.56" r="0.703198336204159" fill="#000018"/>
<circle cx="391.37" cy="57.45" r="0.4255607435426192" fill="#03035a"/>
<circle cx="396.42" cy="22.59" r="0.7557392057199823" fill="#000028"/>
<circle cx="383.36" cy="59.79" r="0.4388167297281899" fill="#000018"/>
<circle cx="365.58" cy="54.97" r="0.5473637744937303" fill="#0a0ab0"/>
<circle cx="367.25" cy="31.25" r="0.4553790865255463" fill="#1818e8"/>
<circle cx="361.60" cy="45.79" r="0.5679667834951905" fill="#1818e8"/>
<circle cx="377.30" cy="30.35" r="0.42407737443442806" fill="#03035a"/>
<circle cx="387.00" cy="41.36" r="0.6031560415321806" fill="#000010"/>
<circle cx="386.98" cy="36.74" r="0.5384675655512339" fill="#0a0ab0"/>
<circle cx="341.37" cy="36.01" r="0.6409346957716218" fill="#1414d8"/>
<circle cx="371.03" cy="52.02" r="0.7691718663986307" fill="#000020"/>
<circle cx="384.77" cy="22.77" r="0.5678771240122914" fill="#1818e8"/>
<circle cx="331.24" cy="53.79" r="0.6313750349514612" fill="#000020"/>
<circle cx="335.43" cy="50.85" r="0.5035901327694958" fill="#000028"/>
<circle cx="367.19" cy="63.44" r="0.4778679761725313" fill="#000020"/>
<circle cx="358.09" cy="45.64" r="0.7220261866608018" fill="#000010"/>
<circle cx="353.44" cy="42.64" r="0.5001748291901285" fill="#000010"/>
<circle cx="389.22" cy="35.24" r="0.44158917549663496" fill="#02024a"/>
<circle cx="383.62" cy="34.55" r="0.4926922982255477" fill="#000010"/>
<circle cx="337.72" cy="66.45" r="0.38940930070651314" fill="#1414d8"/>
<circle cx="356.46" cy="45.65" r="0.5327131159263141" fill="#03035a"/>
<circle cx="332.33" cy="33.03" r="0.35279480495213345" fill="#000018"/>
<circle cx="385.70" cy="41.71" r="0.6946927580692384" fill="#1414d8"/>
<circle cx="383.42" cy="63.32" r="0.6252830450923732" fill="#03035a"/>
<circle cx="339.06" cy="51.58" r="0.660106185587784" fill="#0a0ab0"/>
<circle cx="343.58" cy="51.25" r="0.5560456993533294" fill="#1818e8"/>
<circle cx="331.46" cy="56.59" r="0.7613372878635738" fill="#1414d8"/>
<circle cx="354.39" cy="58.98" r="0.7039430218875831" fill="#000028"/>
<circle cx="377.97" cy="60.96" r="0.4331493458882206" fill="#1414d8"/>
<circle cx="350.91" cy="39.50" r="0.6387941875325553" fill="#1414d8"/>
<circle cx="363.30" cy="44.05" r="0.7211403094491446" fill="#0e0ec0"/>
<circle cx="368.65" cy="63.76" r="0.550912261234585" fill="#1414d8"/>
<circle cx="375.89" cy="47.61" r="0.7969068092999885" fill="#1818e8"/>
<circle cx="361.75" cy="38.60" r="0.3959194387295553" fill="#02024a"/>
<circle cx="376.15" cy="24.15" r="0.7848568039857607" fill="#0a0ab0"/>
<circle cx="361.54" cy="31.79" r="0.606045379929406" fill="#02024a"/>
<circle cx="379.59" cy="27.41" r="0.3725624182421204" fill="#1818e8"/>
<circle cx="372.34" cy="53.35" r="0.5572608742959317" fill="#000010"/>
<circle cx="389.94" cy="52.23" r="0.6282006806571503" fill="#0e0ec0"/>
<circle cx="350.39" cy="54.35" r="0.4246986659688103" fill="#02024a"/>
<circle cx="370.98" cy="33.82" r="0.7769419830943156" fill="#02024a"/>
<circle cx="361.36" cy="26.37" r="0.7848598816157307" fill="#0a0ab0"/>
<circle cx="354.00" cy="50.15" r="0.6333680325063458" fill="#0e0ec0"/>
<circle cx="361.86" cy="56.77" r="0.5537399897367871" fill="#000010"/>
<circle cx="383.12" cy="46.27" r="0.48157473151354635" fill="#1414d8"/>
<circle cx="371.87" cy="50.45" r="0.7108708375866257" fill="#03035a"/>
<circle cx="351.84" cy="48.21" r="0.7898515772594159" fill="#1818e8"/>
<circle cx="370.44" cy="33.44" r="0.5428528397483705" fill="#000018"/>
<circle cx="354.93" cy="52.14" r="0.6208019368138198" fill="#000018"/>
<circle cx="384.70" cy="32.18" r="0.3507582515082258" fill="#000010"/>
<circle cx="392.51" cy="56.04" r="0.7023906288223971" fill="#000010"/>
<circle cx="386.48" cy="58.44" r="0.7402423210201865" fill="#03035a"/>
<circle cx="339.06" cy="66.58" r="0.7087669462946415" fill="#000028"/>
<circle cx="376.21" cy="63.51" r="0.5060839603882343" fill="#0a0ab0"/>
<circle cx="366.21" cy="42.19" r="0.5217820066228043" fill="#000018"/>
<circle cx="356.23" cy="53.30" r="0.7666995478021397" fill="#03035a"/>
<circle cx="380.80" cy="57.45" r="0.5568728554491167" fill="#0a0ab0"/>
<circle cx="365.95" cy="35.75" r="0.3781840563177309" fill="#0e0ec0"/>
<circle cx="368.95" cy="62.68" r="0.7482922969385803" fill="#000028"/>
<circle cx="351.08" cy="43.26" r="0.44084133382974666" fill="#000018"/>
<circle cx="377.34" cy="36.13" r="0.6039938592277523" fill="#0e0ec0"/>
<circle cx="382.77" cy="60.69" r="0.46083717808177693" fill="#02024a"/>
<circle cx="372.62" cy="57.23" r="0.42026972653050165" fill="#03035a"/>
<circle cx="331.00" cy="32.04" r="0.6232114900593202" fill="#0a0ab0"/>
<circle cx="331.22" cy="67.32" r="0.7397371221666296" fill="#02024a"/>
<circle cx="369.44" cy="28.72" r="0.7664728995459963" fill="#000010"/>
<circle cx="358.33" cy="65.14" r="0.6952620332457429" fill="#03035a"/>
<circle cx="395.48" cy="30.72" r="0.36704173462450074" fill="#000018"/>
<circle cx="397.63" cy="36.90" r="0.36238367537370975" fill="#1414d8"/>
<circle cx="367.41" cy="61.37" r="0.5562264194270667" fill="#0a0ab0"/>
<circle cx="388.53" cy="49.90" r="0.7649696130600736" fill="#0a0ab0"/>
<circle cx="346.67" cy="46.15" r="0.6382848377555792" fill="#000028"/>
<circle cx="356.06" cy="40.38" r="0.4218777914860099" fill="#000018"/>
<circle cx="397.43" cy="29.12" r="0.36738425138422215" fill="#000010"/>
<circle cx="393.93" cy="21.05" r="0.5987757206488962" fill="#1414d8"/>
<circle cx="383.24" cy="53.37" r="0.6410089954193117" fill="#02024a"/>
<circle cx="381.07" cy="64.79" r="0.65460012731478" fill="#000010"/>
<circle cx="369.65" cy="40.03" r="0.6436319455313606" fill="#02024a"/>
<circle cx="351.28" cy="30.87" r="0.40586460470216285" fill="#02024a"/>
<circle cx="355.13" cy="40.04" r="0.713399320203194" fill="#1414d8"/>
<circle cx="361.23" cy="63.46" r="0.709482184918267" fill="#1818e8"/>
<circle cx="393.00" cy="29.06" r="0.7702895449727336" fill="#000020"/>
<circle cx="390.31" cy="25.05" r="0.5512603311321084" fill="#0a0ab0"/>
<circle cx="392.88" cy="37.24" r="0.35978126066004323" fill="#0a0ab0"/>
<circle cx="360.16" cy="34.99" r="0.7203773722443494" fill="#02024a"/>
<circle cx="336.89" cy="36.29" r="0.49939058385597834" fill="#1414d8"/>
<circle cx="341.35" cy="40.53" r="0.7501926397168631" fill="#02024a"/>
<circle cx="389.07" cy="31.34" r="0.5353017517256784" fill="#1818e8"/>
<circle cx="330.66" cy="46.48" r="0.48344797306156895" fill="#1818e8"/>
<circle cx="360.42" cy="42.08" r="0.41901606425925936" fill="#000028"/>
<circle cx="332.83" cy="62.58" r="0.6507260055568276" fill="#000018"/>
<circle cx="367.59" cy="59.61" r="0.40363509853189367" fill="#000018"/>
<circle cx="395.98" cy="39.57" r="0.4676852565194557" fill="#000018"/>
<circle cx="392.82" cy="22.95" r="0.480242881082268" fill="#1818e8"/>
<circle cx="332.87" cy="54.21" r="0.4820859902721496" fill="#1414d8"/>
<circle cx="359.45" cy="43.34" r="0.5798529916484992" fill="#02024a"/>
<circle cx="329.03" cy="59.46" r="0.5869640009766631" fill="#1818e8"/>
<circle cx="357.16" cy="31.86" r="0.4313089103410655" fill="#1818e8"/>
<circle cx="364.95" cy="29.55" r="0.4290323722252263" fill="#03035a"/>
<circle cx="370.95" cy="42.73" r="0.4732498014635822" fill="#000018"/>
<circle cx="338.37" cy="51.39" r="0.6328000948966493" fill="#000018"/>
<circle cx="369.18" cy="28.15" r="0.37956288428239027" fill="#000028"/>
<circle cx="357.10" cy="53.97" r="0.37491731109698584" fill="#000020"/>
<circle cx="352.06" cy="59.94" r="0.7390274008776181" fill="#02024a"/>
<circle cx="335.14" cy="38.45" r="0.6933412996268009" fill="#1818e8"/>
<circle cx="389.16" cy="31.33" r="0.4337234765545086" fill="#000020"/>
<circle cx="331.43" cy="53.00" r="0.6087138773329762" fill="#1414d8"/>
<circle cx="353.51" cy="64.43" r="0.7859307459148127" fill="#0a0ab0"/>
<circle cx="337.25" cy="53.62" r="0.7174409856909539" fill="#000020"/>
<circle cx="382.74" cy="61.24" r="0.609340301067324" fill="#1414d8"/>
<circle cx="379.41" cy="40.29" r="0.36153882808036897" fill="#000028"/>
<circle cx="338.19" cy="30.20" r="0.38986378908652464" fill="#03035a"/>
<circle cx="346.21" cy="58.71" r="0.36353309906090064" fill="#0a0ab0"/>
<circle cx="392.91" cy="54.82" r="0.4676386833783932" fill="#03035a"/>
<circle cx="372.91" cy="41.16" r="0.4572653160705447" fill="#02024a"/>
<circle cx="336.01" cy="61.32" r="0.6726941632519448" fill="#1414d8"/>
<circle cx="347.77" cy="41.20" r="0.6136559376518428" fill="#000010"/>
<circle cx="390.01" cy="45.02" r="0.4523449148050741" fill="#000018"/>
<circle cx="339.07" cy="46.57" r="0.6859603362416888" fill="#1818e8"/>
<circle cx="372.78" cy="52.59" r="0.618668102308178" fill="#03035a"/>
<circle cx="365.22" cy="37.76" r="0.7735813712580843" fill="#000020"/>
<circle cx="352.29" cy="30.05" r="0.5007871413379001" fill="#0e0ec0"/>
<circle cx="387.15" cy="46.15" r="0.7936221022959566" fill="#000020"/>
<circle cx="385.22" cy="60.23" r="0.3740989282443813" fill="#000028"/>
<circle cx="339.03" cy="51.90" r="0.5090389289869218" fill="#0e0ec0"/>
<circle cx="351.31" cy="28.08" r="0.6511131659848435" fill="#000018"/>
<circle cx="338.53" cy="66.29" r="0.699460811532121" fill="#02024a"/>
<circle cx="372.65" cy="58.32" r="0.7479678339360798" fill="#1414d8"/>
<circle cx="331.28" cy="49.99" r="0.4695973997046664" fill="#03035a"/>
<circle cx="347.79" cy="45.05" r="0.7659726617194742" fill="#03035a"/>
<circle cx="329.84" cy="29.86" r="0.36773849524099583" fill="#0a0ab0"/>
<circle cx="350.00" cy="50.28" r="0.4041715664949467" fill="#03035a"/>
<circle cx="395.17" cy="63.88" r="0.7556394958554595" fill="#0a0ab0"/>
<circle cx="361.13" cy="44.63" r="0.4167833011447617" fill="#0a0ab0"/>
<circle cx="364.25" cy="62.09" r="0.7620146779935422" fill="#03035a"/>
<circle cx="348.82" cy="30.20" r="0.38953125054524546" fill="#000028"/>
<circle cx="348.74" cy="40.67" r="0.662675570745622" fill="#000018"/>
<circle cx="373.84" cy="28.10" r="0.6696619265903994" fill="#02024a"/>
<circle cx="390.52" cy="33.19" r="0.56503513575371" fill="#000010"/>
<circle cx="331.04" cy="34.68" r="0.43496183887572787" fill="#000028"/>
<circle cx="355.38" cy="47.21" r="0.3553451662204144" fill="#000020"/>
<circle cx="340.11" cy="65.42" r="0.4957786317951525" fill="#000020"/>
<circle cx="362.86" cy="32.26" r="0.794379733482476" fill="#000010"/>
<circle cx="366.98" cy="48.21" r="0.5065977103858721" fill="#1414d8"/>
<circle cx="364.62" cy="59.57" r="0.5093509922246325" fill="#0a0ab0"/>
<circle cx="364.90" cy="67.27" r="0.6549466686873638" fill="#1818e8"/>
<circle cx="357.70" cy="51.31" r="0.41314724910188305" fill="#000018"/>
<circle cx="371.49" cy="60.34" r="0.719537138771525" fill="#000028"/>
<circle cx="335.47" cy="60.66" r="0.7649168259789227" fill="#02024a"/>
<circle cx="347.47" cy="49.44" r="0.634460409444698" fill="#1818e8"/>
<circle cx="357.26" cy="45.43" r="0.40285149867868" fill="#0e0ec0"/>
<circle cx="395.43" cy="46.53" r="0.5380595608240066" fill="#000010"/>
<circle cx="389.21" cy="48.28" r="0.5208030461017668" fill="#02024a"/>
<circle cx="376.76" cy="32.42" r="0.5086784234778097" fill="#000020"/>
<circle cx="355.90" cy="45.70" r="0.5230254064626286" fill="#000020"/>
<circle cx="329.37" cy="55.17" r="0.7953773351371096" fill="#0e0ec0"/>
<circle cx="359.58" cy="27.26" r="0.4868147236207775" fill="#1818e8"/>
<circle cx="359.00" cy="36.84" r="0.4543717670408515" fill="#000020"/>
<circle cx="351.28" cy="60.02" r="0.727168805965735" fill="#000020"/>
<circle cx="343.02" cy="39.29" r="0.7597579932224847" fill="#1414d8"/>
<circle cx="330.67" cy="30.85" r="0.753151295138909" fill="#000010"/>
<circle cx="392.49" cy="56.54" r="0.5923248226120805" fill="#0e0ec0"/>
<circle cx="364.66" cy="43.81" r="0.6583525467181602" fill="#0e0ec0"/>
<circle cx="375.63" cy="40.62" r="0.35467080439936177" fill="#0a0ab0"/>
<circle cx="354.77" cy="38.02" r="0.6026024048610445" fill="#03035a"/>
<circle cx="358.01" cy="38.06" r="0.6952976262649289" fill="#03035a"/>
<circle cx="352.62" cy="44.45" r="0.7171487330757771" fill="#1818e8"/>
<circle cx="353.96" cy="36.32" r="0.3837892682978003" fill="#000010"/>
<circle cx="390.71" cy="52.39" r="0.7192495928773746" fill="#000028"/>
<circle cx="390.27" cy="39.02" r="0.4203798419671184" fill="#000010"/>
<circle cx="385.30" cy="28.43" r="0.7519135351080348" fill="#0e0ec0"/>
<circle cx="341.50" cy="49.42" r="0.6214074399171703" fill="#000020"/>
<circle cx="368.28" cy="49.48" r="0.6752891463714924" fill="#0e0ec0"/>
<circle cx="378.01" cy="45.58" r="0.7626644461378864" fill="#0e0ec0"/>
<circle cx="387.09" cy="47.23" r="0.6506478798634517" fill="#000018"/>
<circle cx="341.01" cy="56.32" r="0.6051619810589279" fill="#000028"/>
<circle cx="342.62" cy="48.01" r="0.4154092615138506" fill="#000028"/>
<circle cx="381.38" cy="23.40" r="0.3950466277767608" fill="#1818e8"/>
<circle cx="394.40" cy="42.47" r="0.5603829218138152" fill="#0e0ec0"/>
<circle cx="329.76" cy="56.40" r="0.4952698757109584" fill="#000018"/>
<circle cx="391.36" cy="47.04" r="0.5070021095592063" fill="#02024a"/>
<circle cx="344.11" cy="37.78" r="0.6938251482831372" fill="#1414d8"/>
<circle cx="359.28" cy="48.92" r="0.4621982455276308" fill="#1414d8"/>
<circle cx="339.91" cy="47.27" r="0.4280890296523055" fill="#1414d8"/>
<circle cx="391.01" cy="58.65" r="0.48665444693170035" fill="#03035a"/>
<circle cx="346.31" cy="62.18" r="0.7907936593694247" fill="#0a0ab0"/>
<circle cx="345.69" cy="37.47" r="0.6733095907656036" fill="#000018"/>
<circle cx="357.47" cy="37.91" r="0.6702983816562244" fill="#1414d8"/>
<circle cx="383.68" cy="30.20" r="0.4280604167019273" fill="#000020"/>
<circle cx="389.87" cy="37.78" r="0.5133213434494946" fill="#000020"/>
<circle cx="365.78" cy="37.26" r="0.531438232161677" fill="#0a0ab0"/>
<circle cx="395.32" cy="39.09" r="0.7608474475000904" fill="#000028"/>
<circle cx="348.50" cy="29.89" r="0.3657121231824888" fill="#1414d8"/>
<circle cx="377.68" cy="22.70" r="0.47135045003287346" fill="#1818e8"/>
<circle cx="367.25" cy="41.31" r="0.7077224136309537" fill="#000018"/>
<circle cx="339.90" cy="35.64" r="0.6751098318570736" fill="#0e0ec0"/>
<circle cx="372.39" cy="46.96" r="0.48376413381042005" fill="#02024a"/>
<circle cx="363.78" cy="29.40" r="0.5537114702454664" fill="#1818e8"/>
<circle cx="394.00" cy="67.70" r="0.6181789078178093" fill="#02024a"/>
<circle cx="369.50" cy="36.39" r="0.4608127879490538" fill="#03035a"/>
<circle cx="380.77" cy="51.79" r="0.3911612685335187" fill="#000010"/>
<circle cx="379.75" cy="56.11" r="0.3629225633731831" fill="#03035a"/>
<circle cx="378.01" cy="52.62" r="0.6992620425891215" fill="#000018"/>
<circle cx="351.08" cy="51.04" r="0.39903259151158005" fill="#000028"/>
<circle cx="392.05" cy="58.12" r="0.691304084164138" fill="#000018"/>
<circle cx="333.45" cy="33.57" r="0.45189117029201753" fill="#1818e8"/>
<circle cx="385.34" cy="37.93" r="0.5101542490088952" fill="#02024a"/>
<circle cx="382.45" cy="61.97" r="0.7375762014716385" fill="#1818e8"/>
<circle cx="393.63" cy="26.87" r="0.5149618246095709" fill="#000020"/>
<circle cx="377.53" cy="41.09" r="0.799972781770091" fill="#0e0ec0"/>
<circle cx="353.23" cy="49.35" r="0.43174560465786166" fill="#0a0ab0"/>
<circle cx="347.62" cy="48.36" r="0.44863634124893087" fill="#1414d8"/>
<circle cx="356.86" cy="48.34" r="0.5438163536722918" fill="#000010"/>
<circle cx="339.69" cy="54.79" r="0.5985549460344958" fill="#1818e8"/>
<circle cx="367.91" cy="29.41" r="0.5740512983686131" fill="#000028"/>
<circle cx="346.50" cy="39.72" r="0.6579474431192418" fill="#000020"/>
<circle cx="393.56" cy="23.66" r="0.693666652585663" fill="#000010"/>
<circle cx="391.16" cy="61.59" r="0.6133056113371569" fill="#1414d8"/>
<circle cx="396.21" cy="51.95" r="0.3667088605921485" fill="#000020"/>
<circle cx="343.42" cy="63.55" r="0.687286224299227" fill="#0a0ab0"/>
<circle cx="357.73" cy="55.07" r="0.7991493097424729" fill="#03035a"/>
<circle cx="386.17" cy="32.07" r="0.39047011291285194" fill="#0e0ec0"/>
<circle cx="359.48" cy="35.01" r="0.5763836401132854" fill="#02024a"/>
<circle cx="364.05" cy="51.73" r="0.4426860439982837" fill="#000028"/>
<circle cx="387.40" cy="56.78" r="0.5702795292650539" fill="#000018"/>
<circle cx="331.92" cy="53.03" r="0.712580087792926" fill="#000010"/>
<circle cx="382.86" cy="29.83" r="0.4671245818015972" fill="#1414d8"/>
<circle cx="340.51" cy="35.36" r="0.3916427071439841" fill="#000010"/>
<circle cx="338.38" cy="52.21" r="0.5688994653645938" fill="#02024a"/>
<circle cx="345.34" cy="30.11" r="0.581921694138544" fill="#02024a"/>
<circle cx="338.10" cy="49.95" r="0.6641224539631421" fill="#1818e8"/>
<circle cx="390.03" cy="25.15" r="0.603470834779344" fill="#000020"/>
<circle cx="372.39" cy="23.96" r="0.5410858533697773" fill="#1818e8"/>
<circle cx="375.68" cy="25.79" r="0.79068910187133" fill="#0e0ec0"/>
<circle cx="386.33" cy="23.79" r="0.48020306233739174" fill="#000020"/>
<circle cx="390.80" cy="33.20" r="0.39976790447332505" fill="#000010"/>
<circle cx="351.32" cy="41.39" r="0.5133391337862431" fill="#1818e8"/>
<circle cx="361.27" cy="66.80" r="0.5684861886336454" fill="#000020"/>
<circle cx="396.63" cy="46.11" r="0.39896111928148925" fill="#02024a"/>
<circle cx="395.01" cy="42.37" r="0.7027442730544681" fill="#000020"/>
<circle cx="329.47" cy="63.80" r="0.6400280328742258" fill="#03035a"/>
<circle cx="393.53" cy="50.53" r="0.46313542421074816" fill="#000018"/>
<circle cx="334.30" cy="55.25" r="0.3613818693794112" fill="#0e0ec0"/>
<circle cx="386.91" cy="32.83" r="0.4335806301452974" fill="#000028"/>
<circle cx="387.34" cy="64.16" r="0.42580661994203683" fill="#000010"/>
<circle cx="380.19" cy="34.34" r="0.4330442778117006" fill="#000020"/>
<circle cx="351.02" cy="36.42" r="0.5980103925903938" fill="#000020"/>
<circle cx="386.79" cy="30.70" r="0.375974934686451" fill="#0a0ab0"/>
<circle cx="368.07" cy="49.32" r="0.718880433961371" fill="#0e0ec0"/>
<circle cx="391.45" cy="65.06" r="0.5724709264214412" fill="#02024a"/>
<circle cx="379.40" cy="67.58" r="0.6211813044659961" fill="#0a0ab0"/>
<circle cx="338.70" cy="29.41" r="0.41223509944554243" fill="#0e0ec0"/>
<circle cx="359.27" cy="27.58" r="0.6753276338250953" fill="#1414d8"/>
<circle cx="331.11" cy="48.45" r="0.7250921007552271" fill="#000028"/>
<circle cx="358.30" cy="32.18" r="0.6477312861001805" fill="#000028"/>
<circle cx="378.01" cy="62.36" r="0.3782229758606257" fill="#1414d8"/>
<circle cx="374.93" cy="59.16" r="0.7567997137169411" fill="#1818e8"/>
<circle cx="384.47" cy="51.66" r="0.6053818213785971" fill="#02024a"/>
<circle cx="334.78" cy="34.19" r="0.5572137437222061" fill="#000028"/>
<circle cx="391.69" cy="61.11" r="0.7884661136613424" fill="#03035a"/>
<circle cx="371.73" cy="58.41" r="0.3770038021746709" fill="#000020"/>
<circle cx="370.99" cy="32.86" r="0.6070064361357245" fill="#000020"/>
<circle cx="362.12" cy="50.27" r="0.48469034052914506" fill="#000020"/>
<circle cx="365.55" cy="49.60" r="0.7316495801134413" fill="#000018"/>
<circle cx="375.80" cy="40.33" r="0.3883429595538461" fill="#03035a"/>
<circle cx="354.61" cy="46.96" r="0.5373696011453908" fill="#000028"/>
<circle cx="345.50" cy="40.04" r="0.46748654880683205" fill="#000018"/>
<circle cx="341.37" cy="62.33" r="0.5966512362467562" fill="#0a0ab0"/>
<circle cx="344.19" cy="59.71" r="0.6423533699865202" fill="#000018"/>
<circle cx="365.58" cy="30.60" r="0.5701747570346712" fill="#000028"/>
<circle cx="360.56" cy="45.00" r="0.6635257456515582" fill="#000028"/>
<circle cx="391.73" cy="46.27" r="0.7331916029275345" fill="#0a0ab0"/>
<circle cx="384.20" cy="24.77" r="0.5764087650757527" fill="#000028"/>
<circle cx="378.28" cy="55.72" r="0.4015760349628896" fill="#000028"/>
<circle cx="335.95" cy="59.36" r="0.5263832367579258" fill="#1818e8"/>
<circle cx="395.79" cy="27.62" r="0.5637988328839914" fill="#0a0ab0"/>
<circle cx="338.35" cy="56.68" r="0.375899542361203" fill="#000018"/>
<circle cx="377.40" cy="65.59" r="0.5568675606322921" fill="#0a0ab0"/>
<circle cx="377.78" cy="39.27" r="0.7498823481758491" fill="#03035a"/>
<circle cx="397.21" cy="28.12" r="0.40161993699429327" fill="#000020"/>
<circle cx="340.51" cy="55.15" r="0.5036279060829387" fill="#1414d8"/>
<circle cx="385.95" cy="24.20" r="0.5178565042535321" fill="#000028"/>
<circle cx="394.41" cy="53.97" r="0.3695766986716187" fill="#03035a"/>
<circle cx="353.32" cy="35.78" r="0.49731294334947657" fill="#03035a"/>
<circle cx="336.71" cy="64.09" r="0.6538480275057434" fill="#000010"/>
<circle cx="353.39" cy="52.59" r="0.3595774302420995" fill="#03035a"/>
<circle cx="359.30" cy="57.42" r="0.5696214940375666" fill="#0a0ab0"/>
<circle cx="384.23" cy="27.31" r="0.5994107974245755" fill="#000010"/>
<circle cx="389.28" cy="51.38" r="0.7262930308648102" fill="#03035a"/>
<circle cx="389.39" cy="44.86" r="0.6602839260745768" fill="#000010"/>
<circle cx="363.57" cy="61.49" r="0.710204452847847" fill="#1414d8"/>
<circle cx="334.06" cy="48.93" r="0.6401089262647965" fill="#03035a"/>
<circle cx="356.03" cy="41.75" r="0.421227591572803" fill="#02024a"/>
<circle cx="356.09" cy="61.49" r="0.624880506341523" fill="#0a0ab0"/>
<circle cx="353.84" cy="44.35" r="0.49006563836554456" fill="#1818e8"/>
<circle cx="340.63" cy="36.04" r="0.560491922491164" fill="#03035a"/>
<circle cx="361.27" cy="64.69" r="0.4914618961713808" fill="#000020"/>
<circle cx="368.92" cy="34.69" r="0.3592304912353528" fill="#02024a"/>
<circle cx="389.45" cy="48.35" r="0.6338935354025879" fill="#1818e8"/>
<circle cx="347.74" cy="31.68" r="0.5750007778116449" fill="#000010"/>
<circle cx="353.56" cy="46.60" r="0.6129854003387112" fill="#1818e8"/>
<circle cx="367.64" cy="56.41" r="0.742572215867488" fill="#0e0ec0"/>
<circle cx="372.65" cy="49.64" r="0.5133096982267203" fill="#000010"/>
<circle cx="383.70" cy="29.93" r="0.7085152750640338" fill="#1818e8"/>
<circle cx="375.98" cy="33.21" r="0.6934994656866428" fill="#000020"/>
<circle cx="364.07" cy="49.67" r="0.5076934109835911" fill="#000028"/>
<circle cx="378.35" cy="34.72" r="0.6669012762736332" fill="#000020"/>
<circle cx="389.96" cy="56.99" r="0.5766799726730469" fill="#000018"/>
<circle cx="384.82" cy="67.63" r="0.4178644382285255" fill="#000018"/>
<circle cx="329.40" cy="61.39" r="0.5539070996064073" fill="#02024a"/>
<circle cx="356.27" cy="56.49" r="0.7682659475208347" fill="#03035a"/>
<circle cx="333.48" cy="33.08" r="0.48882338451931584" fill="#03035a"/>
<circle cx="366.99" cy="64.69" r="0.5032102367511037" fill="#000018"/>
<circle cx="341.25" cy="46.95" r="0.7943580084334507" fill="#000020"/>
<circle cx="395.97" cy="52.41" r="0.6745422276909523" fill="#0a0ab0"/>
<circle cx="386.85" cy="33.97" r="0.4288548605452657" fill="#000010"/>
<circle cx="366.66" cy="55.80" r="0.6319022504286689" fill="#000018"/>
<circle cx="377.57" cy="28.95" r="0.5298081088927644" fill="#000018"/>
<circle cx="390.60" cy="32.15" r="0.5758622720214894" fill="#0a0ab0"/>
<circle cx="342.49" cy="54.57" r="0.7834130723629626" fill="#03035a"/>
<circle cx="385.31" cy="46.70" r="0.6735564430169719" fill="#1414d8"/>
<circle cx="341.90" cy="44.79" r="0.7439489529039944" fill="#000020"/>
<circle cx="392.67" cy="28.65" r="0.49703756116688247" fill="#1414d8"/>
<circle cx="373.74" cy="38.24" r="0.6555336368096739" fill="#000020"/>
<circle cx="340.96" cy="61.01" r="0.7083179285411453" fill="#0a0ab0"/>
<circle cx="372.18" cy="34.73" r="0.572461963031599" fill="#03035a"/>
<circle cx="356.51" cy="64.83" r="0.7429914009281995" fill="#1414d8"/>
<circle cx="392.84" cy="46.14" r="0.7943861141133794" fill="#1414d8"/>
<circle cx="357.59" cy="53.39" r="0.7257148243347165" fill="#1818e8"/>
<circle cx="338.76" cy="56.23" r="0.3904406019376973" fill="#000020"/>
<circle cx="358.15" cy="44.87" r="0.6148200578216396" fill="#000028"/>
<circle cx="339.50" cy="66.88" r="0.6087382946079799" fill="#000018"/>
<circle cx="380.11" cy="30.91" r="0.6701427598662857" fill="#1414d8"/>
<circle cx="382.52" cy="33.47" r="0.69767267850989" fill="#02024a"/>
<circle cx="367.55" cy="36.06" r="0.5883353797601387" fill="#000010"/>
<circle cx="361.78" cy="50.67" r="0.6983737490295254" fill="#000020"/>
<circle cx="339.31" cy="49.36" r="0.5303798596595579" fill="#0a0ab0"/>
<circle cx="393.64" cy="49.14" r="0.40500008409526067" fill="#000028"/>
<circle cx="363.58" cy="45.70" r="0.43181872827262346" fill="#03035a"/>
<circle cx="341.16" cy="54.77" r="0.7646554850086028" fill="#1818e8"/>
<circle cx="365.42" cy="35.54" r="0.669334750318255" fill="#02024a"/>
<circle cx="396.78" cy="42.90" r="0.636256517176025" fill="#000020"/>
<circle cx="391.16" cy="37.43" r="0.4454416379013977" fill="#1414d8"/>
<circle cx="336.35" cy="54.55" r="0.3794475094455352" fill="#0e0ec0"/>
<circle cx="375.49" cy="35.53" r="0.45265253636159364" fill="#0e0ec0"/>
<circle cx="357.23" cy="63.78" r="0.7752278003519145" fill="#000018"/>
<circle cx="377.91" cy="30.12" r="0.5094369284171042" fill="#000020"/>
<circle cx="381.36" cy="50.04" r="0.48430715013846093" fill="#02024a"/>
<circle cx="343.87" cy="46.41" r="0.4205256131650287" fill="#000010"/>
<circle cx="394.84" cy="24.89" r="0.48503810038532813" fill="#0a0ab0"/>
<circle cx="351.81" cy="42.23" r="0.7509363093404456" fill="#1818e8"/>
<circle cx="351.00" cy="48.43" r="0.7805728588541712" fill="#000018"/>
<circle cx="368.92" cy="61.98" r="0.4444181891762171" fill="#000020"/>
<circle cx="332.09" cy="56.56" r="0.5475843275489938" fill="#0e0ec0"/>
<circle cx="388.60" cy="67.54" r="0.48392122654854774" fill="#1414d8"/>
<circle cx="384.53" cy="25.65" r="0.7607135236579294" fill="#1818e8"/>
<circle cx="391.89" cy="25.59" r="0.681207196848501" fill="#0a0ab0"/>
<circle cx="380.82" cy="41.18" r="0.5287282872245023" fill="#0e0ec0"/>
<circle cx="352.36" cy="63.75" r="0.6723604837693558" fill="#000020"/>
<circle cx="345.11" cy="57.47" r="0.6602561794736246" fill="#1414d8"/>
<circle cx="338.22" cy="47.68" r="0.6086828469762453" fill="#0a0ab0"/>
<circle cx="390.68" cy="21.31" r="0.3996565338537739" fill="#02024a"/>
<circle cx="395.97" cy="44.21" r="0.3511567367653663" fill="#000018"/>
<circle cx="376.26" cy="25.45" r="0.6821950651368827" fill="#000028"/>
<circle cx="397.54" cy="44.44" r="0.7278080141046639" fill="#0a0ab0"/>
<circle cx="353.05" cy="28.79" r="0.7853752887802655" fill="#000018"/>
<circle cx="379.44" cy="31.67" r="0.42974884664150476" fill="#000010"/>
<circle cx="347.49" cy="66.13" r="0.43840098067326905" fill="#1414d8"/>
<circle cx="357.10" cy="45.76" r="0.5131744393724469" fill="#1414d8"/>
<circle cx="360.25" cy="32.12" r="0.498838737686199" fill="#0e0ec0"/>
<circle cx="396.78" cy="61.54" r="0.6729919021641155" fill="#0e0ec0"/>
<circle cx="358.06" cy="44.94" r="0.5223390369699996" fill="#1818e8"/>
<circle cx="355.65" cy="37.26" r="0.5344876059270596" fill="#1818e8"/>
<circle cx="390.96" cy="49.66" r="0.4575911672675868" fill="#000028"/>
<circle cx="392.91" cy="30.76" r="0.6249084757901627" fill="#0e0ec0"/>
<circle cx="397.38" cy="59.13" r="0.6485421046784106" fill="#0a0ab0"/>
<circle cx="387.16" cy="57.06" r="0.7588344039200613" fill="#1414d8"/>
<circle cx="356.94" cy="45.86" r="0.6581829379558607" fill="#02024a"/>
<circle cx="366.83" cy="33.79" r="0.7872258809206489" fill="#1414d8"/>
<circle cx="361.62" cy="50.27" r="0.5617734691467744" fill="#000020"/>
<circle cx="369.83" cy="67.54" r="0.455495548034056" fill="#0e0ec0"/>
<circle cx="396.34" cy="31.34" r="0.6468204334731493" fill="#000020"/>
<circle cx="333.87" cy="57.73" r="0.6489091318135616" fill="#03035a"/>
<circle cx="381.79" cy="31.14" r="0.728459945045221" fill="#000020"/>
<circle cx="364.97" cy="41.79" r="0.44955080784659873" fill="#1818e8"/>
<circle cx="333.45" cy="55.74" r="0.5138428500724529" fill="#000018"/>
<circle cx="365.35" cy="58.52" r="0.45738899263111576" fill="#1818e8"/>
<circle cx="339.43" cy="50.99" r="0.42997109657702326" fill="#1414d8"/>
<circle cx="351.15" cy="36.08" r="0.7386264739036322" fill="#0e0ec0"/>
<circle cx="353.54" cy="58.02" r="0.5846087264722608" fill="#02024a"/>
<circle cx="374.66" cy="31.77" r="0.480725033571071" fill="#02024a"/>
<circle cx="376.93" cy="40.43" r="0.5652529923528846" fill="#1818e8"/>
<circle cx="381.33" cy="25.55" r="0.6560809728408985" fill="#000020"/>
<circle cx="362.67" cy="50.92" r="0.6302354791525617" fill="#000028"/>
<circle cx="352.40" cy="37.04" r="0.3579950299135609" fill="#000018"/>
<circle cx="328.96" cy="31.01" r="0.6157661309860145" fill="#000010"/>
<circle cx="378.53" cy="31.75" r="0.4958062575387177" fill="#000018"/>
<circle cx="347.24" cy="39.87" r="0.5863295423706198" fill="#02024a"/>
<circle cx="388.25" cy="28.12" r="0.5404155465309729" fill="#000010"/>
<circle cx="371.59" cy="36.57" r="0.36975506188595186" fill="#02024a"/>
<circle cx="380.94" cy="66.30" r="0.5439351837462458" fill="#03035a"/>
<circle cx="384.93" cy="35.61" r="0.5234107567546066" fill="#03035a"/>
<circle cx="337.85" cy="48.84" r="0.7899600389385173" fill="#03035a"/>
<circle cx="354.63" cy="51.18" r="0.49825275940507974" fill="#0a0ab0"/>
<circle cx="334.42" cy="40.24" r="0.5269668786720692" fill="#0e0ec0"/>
<circle cx="363.22" cy="62.90" r="0.6906664174514658" fill="#1414d8"/>
<circle cx="336.35" cy="46.11" r="0.7707764458505821" fill="#0e0ec0"/>
<circle cx="357.57" cy="41.64" r="0.750658445278502" fill="#02024a"/>
<circle cx="366.33" cy="64.11" r="0.4822915695550477" fill="#000020"/>
<circle cx="382.05" cy="56.36" r="0.40315363809856336" fill="#000018"/>
<circle cx="387.49" cy="46.48" r="0.35696280371969863" fill="#02024a"/>
<circle cx="335.00" cy="55.54" r="0.6039862018408247" fill="#1414d8"/>
<circle cx="385.84" cy="28.03" r="0.5010149707440745" fill="#1414d8"/>
<circle cx="366.93" cy="55.27" r="0.7296274573562644" fill="#1818e8"/>
<circle cx="397.87" cy="58.70" r="0.7423697172249292" fill="#1818e8"/>
<circle cx="396.77" cy="27.35" r="0.5924982128560567" fill="#000028"/>
<circle cx="347.03" cy="33.66" r="0.4647607557384641" fill="#000010"/>
<circle cx="367.30" cy="43.50" r="0.5390988994872443" fill="#1414d8"/>
<circle cx="350.10" cy="30.45" r="0.5211018708414392" fill="#0e0ec0"/>
<circle cx="388.09" cy="30.88" r="0.44090329266553807" fill="#1414d8"/>
<circle cx="343.24" cy="50.52" r="0.7696028620667834" fill="#02024a"/>
<circle cx="377.95" cy="25.12" r="0.7687071093220431" fill="#000020"/>
<circle cx="342.74" cy="63.79" r="0.6002573117520806" fill="#1414d8"/>
<circle cx="333.57" cy="65.39" r="0.7205240290284104" fill="#1414d8"/>
<circle cx="347.80" cy="57.67" r="0.4811904310453503" fill="#000018"/>
<circle cx="384.35" cy="47.53" r="0.5545775311641552" fill="#02024a"/>
<circle cx="341.35" cy="60.75" r="0.4060085342975957" fill="#1818e8"/>
<circle cx="388.51" cy="21.67" r="0.6183280842283154" fill="#1818e8"/>
<circle cx="329.88" cy="53.95" r="0.6817398951226032" fill="#1818e8"/>
<circle cx="363.33" cy="51.59" r="0.6537313162304551" fill="#000010"/>
<circle cx="384.31" cy="44.66" r="0.4215298009335918" fill="#000018"/>
<circle cx="364.57" cy="41.24" r="0.4407322939702397" fill="#0a0ab0"/>
<circle cx="394.61" cy="38.71" r="0.6464961281053938" fill="#000010"/>
<circle cx="377.70" cy="40.09" r="0.5410595757490143" fill="#1414d8"/>
<circle cx="392.74" cy="24.73" r="0.42206486371351165" fill="#02024a"/>
<circle cx="349.19" cy="29.66" r="0.6119252499844308" fill="#000020"/>
<circle cx="377.75" cy="53.85" r="0.4893049807128062" fill="#000010"/>
<circle cx="351.32" cy="59.91" r="0.4183540178500151" fill="#000018"/>
<circle cx="355.16" cy="49.95" r="0.4505142259945944" fill="#000028"/>
<circle cx="376.87" cy="27.95" r="0.4170147733964605" fill="#1818e8"/>
<circle cx="358.60" cy="51.84" r="0.4014677488615035" fill="#000020"/>
<circle cx="337.34" cy="63.99" r="0.7982578538004791" fill="#000028"/>
<circle cx="365.27" cy="32.55" r="0.5065768480896755" fill="#02024a"/>
<circle cx="390.36" cy="63.47" r="0.44022938883404705" fill="#000010"/>
<circle cx="388.60" cy="47.81" r="0.593322383540201" fill="#0a0ab0"/>
<circle cx="342.81" cy="41.48" r="0.6954982262244753" fill="#000018"/>
<circle cx="368.89" cy="33.00" r="0.6110497561801747" fill="#0a0ab0"/>
<circle cx="395.74" cy="35.21" r="0.7749804520494987" fill="#000010"/>
<circle cx="332.36" cy="34.66" r="0.5523306516294808" fill="#000018"/>
<circle cx="351.67" cy="36.19" r="0.39934170174953915" fill="#000010"/>
<circle cx="384.80" cy="54.07" r="0.5547422345209934" fill="#000028"/>
<circle cx="331.64" cy="46.89" r="0.5358541808356713" fill="#1818e8"/>
<circle cx="357.60" cy="59.71" r="0.38430497846469813" fill="#1818e8"/>
<circle cx="353.74" cy="51.04" r="0.39051610938633896" fill="#1414d8"/>
<circle cx="387.10" cy="61.51" r="0.5661112005749537" fill="#1818e8"/>
<circle cx="347.59" cy="44.99" r="0.49592214644339827" fill="#000018"/>
<circle cx="340.23" cy="44.71" r="0.57805239159839" fill="#000020"/>
<circle cx="394.50" cy="32.19" r="0.5998813684400635" fill="#1818e8"/>
<circle cx="391.67" cy="54.21" r="0.5906575543866184" fill="#000018"/>
<circle cx="394.08" cy="42.37" r="0.7059719030978822" fill="#03035a"/>
<circle cx="343.48" cy="55.06" r="0.38916818676530507" fill="#1818e8"/>
<circle cx="339.52" cy="31.23" r="0.36391402103603826" fill="#0e0ec0"/>
<circle cx="374.77" cy="28.92" r="0.4596018483331971" fill="#000028"/>
<circle cx="345.88" cy="47.88" r="0.792328315929576" fill="#1414d8"/>
<circle cx="343.75" cy="56.51" r="0.42861501251601125" fill="#000010"/>
<circle cx="352.54" cy="58.38" r="0.5578054228152209" fill="#1818e8"/>
<circle cx="329.64" cy="64.83" r="0.5353864107576844" fill="#0e0ec0"/>
<circle cx="331.13" cy="57.29" r="0.41662917569420965" fill="#000028"/>
<circle cx="375.81" cy="25.62" r="0.5049436904235147" fill="#1818e8"/>
<circle cx="342.98" cy="64.07" r="0.6587163176311346" fill="#0a0ab0"/>
<circle cx="397.81" cy="57.44" r="0.5658772741778045" fill="#02024a"/>
<circle cx="365.22" cy="34.50" r="0.3810670941185766" fill="#03035a"/>
<circle cx="372.87" cy="27.99" r="0.6313200259405825" fill="#000020"/>
<circle cx="383.26" cy="22.69" r="0.6728499385499114" fill="#000020"/>
<circle cx="369.17" cy="58.03" r="0.5716519147360569" fill="#02024a"/>
<circle cx="338.22" cy="59.27" r="0.7717097367073218" fill="#1414d8"/>
<circle cx="380.38" cy="59.47" r="0.710975852281182" fill="#03035a"/>
<circle cx="340.28" cy="37.28" r="0.637893002875102" fill="#000028"/>
<circle cx="349.56" cy="65.86" r="0.5892520606133355" fill="#0a0ab0"/>
<circle cx="333.60" cy="57.02" r="0.7110265513017922" fill="#000018"/>
<circle cx="345.49" cy="47.30" r="0.6027225956804221" fill="#02024a"/>
<circle cx="368.63" cy="64.48" r="0.7502911323284993" fill="#1414d8"/>
<circle cx="355.99" cy="57.06" r="0.7071410107019533" fill="#000020"/>
<circle cx="385.96" cy="38.29" r="0.38919431643751384" fill="#000020"/>
<circle cx="374.73" cy="63.04" r="0.541966275176609" fill="#000010"/>
<circle cx="329.21" cy="42.41" r="0.35735910630185985" fill="#0a0ab0"/>
<circle cx="389.58" cy="41.73" r="0.5348629770587439" fill="#000010"/>
<circle cx="360.51" cy="34.77" r="0.44614563649441813" fill="#000020"/>
<circle cx="356.12" cy="41.26" r="0.3646560235430246" fill="#000020"/>
<circle cx="334.98" cy="31.57" r="0.6655295092634853" fill="#02024a"/>
<circle cx="357.05" cy="44.85" r="0.4587787270867808" fill="#000018"/>
<circle cx="385.76" cy="27.25" r="0.47216627001537026" fill="#1818e8"/>
<circle cx="353.94" cy="29.24" r="0.7504352611834805" fill="#03035a"/>
<circle cx="389.84" cy="65.84" r="0.48885575961214034" fill="#000020"/>
<circle cx="394.94" cy="43.29" r="0.794847847319874" fill="#000018"/>
<circle cx="388.10" cy="66.22" r="0.5259212261977567" fill="#1414d8"/>
<circle cx="394.20" cy="40.69" r="0.714227604834121" fill="#000010"/>
<circle cx="379.80" cy="51.71" r="0.7930341608725826" fill="#000028"/>
<circle cx="374.93" cy="24.81" r="0.688997564108747" fill="#000010"/>
<circle cx="372.02" cy="40.17" r="0.7810300542647051" fill="#000020"/>
<circle cx="350.00" cy="53.35" r="0.658841291957635" fill="#000028"/>
<circle cx="374.13" cy="42.62" r="0.6612120750493506" fill="#1414d8"/>
<circle cx="332.84" cy="59.59" r="0.6575900841770648" fill="#000028"/>
<circle cx="354.96" cy="33.56" r="0.5806182451620637" fill="#1818e8"/>
<circle cx="379.26" cy="55.37" r="0.3657982410989867" fill="#000020"/>
<circle cx="393.62" cy="31.59" r="0.43444681811628205" fill="#03035a"/>
<circle cx="364.00" cy="67.69" r="0.4281122053885325" fill="#03035a"/>
<circle cx="373.23" cy="32.06" r="0.6931034874825353" fill="#000010"/>
<circle cx="366.78" cy="38.36" r="0.38794364118730007" fill="#0e0ec0"/>
<circle cx="362.97" cy="66.54" r="0.5121083901143296" fill="#000010"/>
<circle cx="351.30" cy="59.52" r="0.5730927912268327" fill="#1414d8"/>
<circle cx="383.74" cy="35.36" r="0.4129482208963705" fill="#000028"/>
<circle cx="350.18" cy="43.97" r="0.6566335386811744" fill="#1414d8"/>
<circle cx="369.48" cy="66.38" r="0.6996853123241413" fill="#000020"/>
<circle cx="395.38" cy="27.40" r="0.4892315786410788" fill="#02024a"/>
<circle cx="342.54" cy="34.05" r="0.5472333813561844" fill="#0a0ab0"/>
<circle cx="376.00" cy="36.08" r="0.49383168945821143" fill="#02024a"/>
<circle cx="391.70" cy="40.48" r="0.7266985214033364" fill="#1818e8"/>
<circle cx="382.70" cy="33.74" r="0.41843161862721134" fill="#000028"/>
<circle cx="361.39" cy="45.87" r="0.651772219577994" fill="#0a0ab0"/>
<circle cx="347.93" cy="36.13" r="0.7628704266845665" fill="#000028"/>
<circle cx="384.94" cy="60.42" r="0.40449320761022706" fill="#02024a"/>
<circle cx="386.02" cy="46.25" r="0.5091444516253893" fill="#000020"/>
<circle cx="347.25" cy="30.20" r="0.3814403574468199" fill="#000028"/>
<circle cx="335.56" cy="48.06" r="0.7227417300323418" fill="#0a0ab0"/>
<circle cx="393.17" cy="26.35" r="0.42938833411993516" fill="#0a0ab0"/>
<circle cx="382.43" cy="37.71" r="0.7731592543824415" fill="#000020"/>
<circle cx="356.54" cy="42.94" r="0.5015749820126191" fill="#1818e8"/>
<circle cx="378.11" cy="25.23" r="0.6810467912594764" fill="#0e0ec0"/>
<circle cx="375.16" cy="62.91" r="0.41010419089998196" fill="#000020"/>
<circle cx="376.02" cy="64.05" r="0.3800551829931203" fill="#1414d8"/>
<circle cx="387.77" cy="51.29" r="0.6100204310912571" fill="#0e0ec0"/>
<circle cx="343.68" cy="54.32" r="0.7033441467594915" fill="#1818e8"/>
<circle cx="339.34" cy="51.48" r="0.68935175096556" fill="#000028"/>
<circle cx="337.53" cy="32.15" r="0.36506223219896855" fill="#0e0ec0"/>
<circle cx="389.62" cy="24.62" r="0.6668494745640553" fill="#0e0ec0"/>
<circle cx="371.21" cy="31.77" r="0.38029031639684746" fill="#03035a"/>
<circle cx="370.70" cy="43.40" r="0.62345577959632" fill="#000018"/>
<circle cx="350.27" cy="35.98" r="0.6060461568733386" fill="#0a0ab0"/>
<circle cx="353.76" cy="52.86" r="0.38248119283338833" fill="#000020"/>
<circle cx="343.99" cy="40.85" r="0.6937936027530041" fill="#02024a"/>
<circle cx="359.70" cy="45.68" r="0.713318887088592" fill="#1414d8"/>
<circle cx="366.07" cy="41.34" r="0.5676766481325919" fill="#000010"/>
<circle cx="372.39" cy="35.00" r="0.4989663365394749" fill="#03035a"/>
<circle cx="344.81" cy="45.76" r="0.7192137226018482" fill="#000010"/>
<circle cx="386.90" cy="58.29" r="0.5916812503404452" fill="#1414d8"/>
<circle cx="384.92" cy="31.42" r="0.5184835797427245" fill="#000010"/>
<circle cx="378.97" cy="47.17" r="0.5300627240958654" fill="#000028"/>
<circle cx="394.86" cy="38.43" r="0.6500200848314484" fill="#1414d8"/>
<circle cx="384.47" cy="65.88" r="0.49824134257451935" fill="#000010"/>
<circle cx="333.83" cy="41.85" r="0.41018446008934034" fill="#02024a"/>
<circle cx="395.87" cy="61.86" r="0.6279559303417355" fill="#000018"/>
<circle cx="356.74" cy="32.14" r="0.437393568339963" fill="#000028"/>
<circle cx="330.04" cy="56.74" r="0.705606985216451" fill="#000018"/>
<circle cx="382.34" cy="28.10" r="0.6899954525049947" fill="#000010"/>
<circle cx="380.56" cy="65.23" r="0.7639753806047389" fill="#03035a"/>
<circle cx="388.57" cy="53.98" r="0.6335849552749193" fill="#000010"/>
<circle cx="367.44" cy="49.29" r="0.6044194730706715" fill="#000020"/>
<circle cx="397.41" cy="33.30" r="0.36990870224471856" fill="#1818e8"/>
<circle cx="376.67" cy="39.02" r="0.3632231288553632" fill="#02024a"/>
<circle cx="382.29" cy="35.14" r="0.736156777435869" fill="#000020"/>
<circle cx="382.62" cy="41.52" r="0.795756943428765" fill="#000020"/>
<circle cx="383.82" cy="41.77" r="0.7198599531450875" fill="#1818e8"/>
<circle cx="387.63" cy="44.36" r="0.46305713004299587" fill="#0e0ec0"/>
<circle cx="343.36" cy="30.62" r="0.3595483051380677" fill="#000018"/>
<circle cx="377.98" cy="65.08" r="0.791248215239829" fill="#0e0ec0"/>
<circle cx="382.41" cy="54.17" r="0.4224297647576116" fill="#0e0ec0"/>
<circle cx="343.69" cy="47.19" r="0.520508198160093" fill="#1414d8"/>
<circle cx="385.09" cy="66.47" r="0.38872028036915046" fill="#1414d8"/>
<circle cx="342.99" cy="46.57" r="0.7612454461450965" fill="#000020"/>
<circle cx="352.29" cy="45.91" r="0.5577934698614297" fill="#000018"/>
<circle cx="353.40" cy="61.87" r="0.3941266753975284" fill="#1818e8"/>
<circle cx="394.19" cy="39.97" r="0.6074257061890638" fill="#02024a"/>
<circle cx="381.53" cy="46.44" r="0.6736343340888259" fill="#02024a"/>
<circle cx="340.58" cy="50.50" r="0.7378502489714467" fill="#000018"/>
<circle cx="378.43" cy="41.44" r="0.7462809943576996" fill="#03035a"/>
<circle cx="338.70" cy="63.28" r="0.6195823015403922" fill="#0a0ab0"/>
<circle cx="377.25" cy="57.86" r="0.750143206886378" fill="#1414d8"/>
<circle cx="356.01" cy="57.27" r="0.7207203328675038" fill="#1414d8"/>
<circle cx="345.67" cy="63.23" r="0.4400597670020466" fill="#1414d8"/>
<circle cx="345.52" cy="64.36" r="0.44881534873621365" fill="#1414d8"/>
<circle cx="393.19" cy="49.84" r="0.7636758035882008" fill="#000010"/>
<circle cx="331.76" cy="41.36" r="0.5654810372047441" fill="#0a0ab0"/>
<circle cx="381.38" cy="61.95" r="0.3934588542887708" fill="#1818e8"/>
<circle cx="384.67" cy="26.19" r="0.580456915091521" fill="#0a0ab0"/>
<circle cx="364.13" cy="65.65" r="0.5217292432662668" fill="#1414d8"/>
<circle cx="367.71" cy="48.56" r="0.7063186560554646" fill="#000028"/>
<circle cx="366.59" cy="32.56" r="0.5286314748362944" fill="#1414d8"/>
<circle cx="367.59" cy="28.46" r="0.4343157863121361" fill="#000028"/>
<circle cx="384.98" cy="40.86" r="0.4049691302229348" fill="#000018"/>
<circle cx="375.32" cy="66.97" r="0.625706132049896" fill="#0a0ab0"/>
<circle cx="366.64" cy="35.62" r="0.3923139329219516" fill="#000018"/>
<circle cx="387.62" cy="60.26" r="0.39563744470776946" fill="#000020"/>
<circle cx="347.83" cy="33.47" r="0.48307379421979446" fill="#02024a"/>
<circle cx="370.80" cy="66.73" r="0.6959555472166281" fill="#1414d8"/>
<circle cx="376.09" cy="56.24" r="0.4462469449941534" fill="#0e0ec0"/>
<circle cx="360.38" cy="38.35" r="0.6249592528382715" fill="#000018"/>
<circle cx="392.22" cy="54.51" r="0.7084485455298003" fill="#1414d8"/>
<circle cx="386.75" cy="53.72" r="0.3637796733644258" fill="#1818e8"/>
<circle cx="387.63" cy="39.51" r="0.7451622737546781" fill="#1818e8"/>
<circle cx="371.65" cy="32.68" r="0.4649581463480118" fill="#1818e8"/>
<circle cx="346.36" cy="33.04" r="0.506817676967077" fill="#000020"/>
<circle cx="340.16" cy="65.15" r="0.6451523517779318" fill="#02024a"/>
<circle cx="381.58" cy="59.69" r="0.7974193586983398" fill="#000020"/>
<circle cx="347.85" cy="30.51" r="0.5355871263297468" fill="#1414d8"/>
<circle cx="352.44" cy="45.14" r="0.51055521416967" fill="#000020"/>
<circle cx="329.02" cy="56.42" r="0.45745264888121284" fill="#000020"/>
<circle cx="383.81" cy="44.54" r="0.3971843180501638" fill="#000020"/>
<circle cx="358.27" cy="34.85" r="0.37891539180112005" fill="#0a0ab0"/>
<circle cx="395.63" cy="26.11" r="0.58891328889155" fill="#000028"/>
<circle cx="345.83" cy="63.69" r="0.7691279013544464" fill="#000028"/>
<circle cx="376.56" cy="66.18" r="0.39033802517881444" fill="#000018"/>
<circle cx="343.97" cy="55.63" r="0.7485489882985829" fill="#000010"/>
<circle cx="394.38" cy="48.45" r="0.6264212884686553" fill="#1818e8"/>
<circle cx="376.62" cy="55.18" r="0.6889097200774589" fill="#000018"/>
<circle cx="352.51" cy="65.84" r="0.3912932739482544" fill="#000018"/>
<circle cx="373.20" cy="48.83" r="0.6451819892189063" fill="#03035a"/>
<circle cx="333.59" cy="37.54" r="0.3850738192258295" fill="#0a0ab0"/>
<circle cx="334.05" cy="45.80" r="0.6751004142475266" fill="#000028"/>
<circle cx="376.41" cy="31.69" r="0.6962457496860137" fill="#1818e8"/>
<circle cx="391.08" cy="30.77" r="0.5276516931803853" fill="#1818e8"/>
<circle cx="359.64" cy="54.30" r="0.39267991958251913" fill="#02024a"/>
<circle cx="352.56" cy="59.46" r="0.3638137666478177" fill="#000018"/>
<circle cx="353.14" cy="34.78" r="0.6311996080310077" fill="#000018"/>
<circle cx="382.97" cy="50.98" r="0.4903871338631893" fill="#000010"/>
<circle cx="335.61" cy="66.94" r="0.5223553021570516" fill="#0a0ab0"/>
<circle cx="368.26" cy="29.20" r="0.3791595893587785" fill="#1414d8"/>
<circle cx="347.44" cy="64.36" r="0.7712243730827067" fill="#000020"/>
<circle cx="354.03" cy="54.02" r="0.41226193805202654" fill="#000010"/>
<circle cx="374.73" cy="61.46" r="0.7591576472534578" fill="#1818e8"/>
<circle cx="348.61" cy="37.02" r="0.6941545807834002" fill="#000018"/>
<circle cx="373.72" cy="62.17" r="0.6931905021733129" fill="#000020"/>
<circle cx="345.54" cy="62.48" r="0.4683145157348152" fill="#1414d8"/>
<circle cx="332.39" cy="51.08" r="0.7263912373498557" fill="#000018"/>
<circle cx="348.38" cy="41.59" r="0.5693425107906002" fill="#0a0ab0"/>
<circle cx="360.68" cy="53.46" r="0.39218015545690055" fill="#0a0ab0"/>
<circle cx="362.41" cy="63.98" r="0.7594309255766569" fill="#0e0ec0"/>
<circle cx="333.59" cy="36.05" r="0.5611253157823235" fill="#000020"/>
<circle cx="344.27" cy="55.09" r="0.6032922109590024" fill="#0e0ec0"/>
<circle cx="336.50" cy="65.00" r="0.5861781397848312" fill="#000018"/>
<circle cx="364.94" cy="43.47" r="0.4923224903313295" fill="#0a0ab0"/>
<circle cx="334.64" cy="31.29" r="0.765842299355455" fill="#02024a"/>
<circle cx="383.15" cy="24.65" r="0.713030453800086" fill="#000020"/>
<circle cx="335.67" cy="32.05" r="0.7050826423805651" fill="#0a0ab0"/>
<circle cx="337.17" cy="67.01" r="0.5667111971661022" fill="#1818e8"/>
<circle cx="364.11" cy="49.29" r="0.7151974441975085" fill="#1414d8"/>
<circle cx="373.37" cy="52.24" r="0.36449823336085135" fill="#000018"/>
<circle cx="382.28" cy="51.12" r="0.4126844070331104" fill="#000020"/>
<circle cx="338.92" cy="58.04" r="0.7755101989574964" fill="#1414d8"/>
<circle cx="388.14" cy="36.38" r="0.7562237459634853" fill="#1818e8"/>
<circle cx="360.58" cy="54.07" r="0.5522212635549573" fill="#1414d8"/>
<circle cx="348.61" cy="66.58" r="0.7276694401069645" fill="#000010"/>
<circle cx="380.65" cy="47.09" r="0.7727487499252284" fill="#0e0ec0"/>
<circle cx="353.77" cy="42.17" r="0.37962078910077346" fill="#000020"/>
<circle cx="364.26" cy="65.23" r="0.5714465547551686" fill="#000018"/>
<circle cx="371.83" cy="28.85" r="0.7252638247735688" fill="#000018"/>
<circle cx="350.31" cy="57.08" r="0.4719409506904113" fill="#000020"/>
<circle cx="357.44" cy="53.33" r="0.6058639725169255" fill="#1818e8"/>
<circle cx="345.38" cy="59.70" r="0.4196649128451355" fill="#000010"/>
<circle cx="370.82" cy="41.71" r="0.5965382178893692" fill="#0e0ec0"/>
<circle cx="338.41" cy="30.05" r="0.4042411336544973" fill="#0e0ec0"/>
<circle cx="364.98" cy="47.00" r="0.7489367577357324" fill="#1414d8"/>
<circle cx="340.49" cy="39.12" r="0.3861013316624979" fill="#02024a"/>
<circle cx="383.49" cy="30.68" r="0.6065763782543476" fill="#000018"/>
<circle cx="388.34" cy="65.66" r="0.471020519625324" fill="#0e0ec0"/>
<circle cx="335.45" cy="39.75" r="0.7188200141999623" fill="#1414d8"/>
<circle cx="391.36" cy="21.61" r="0.689059754722581" fill="#1818e8"/>
<circle cx="389.05" cy="38.98" r="0.5882222791729963" fill="#000010"/>
<circle cx="384.67" cy="50.57" r="0.5807612259863858" fill="#0a0ab0"/>
<circle cx="359.74" cy="42.93" r="0.5886874587374293" fill="#000020"/>
<circle cx="391.01" cy="65.93" r="0.4367082450255513" fill="#0a0ab0"/>
<circle cx="369.82" cy="30.69" r="0.5218969224519019" fill="#000010"/>
<circle cx="373.36" cy="38.58" r="0.7803358691613302" fill="#000010"/>
<circle cx="380.12" cy="49.13" r="0.5622567988600615" fill="#000020"/>
<circle cx="361.75" cy="51.79" r="0.6691052796705748" fill="#1818e8"/>
<circle cx="361.07" cy="34.22" r="0.7870511237890121" fill="#0e0ec0"/>
<circle cx="335.05" cy="66.36" r="0.5941441810436786" fill="#0e0ec0"/>
<circle cx="395.35" cy="62.83" r="0.454623399428" fill="#000020"/>
<circle cx="355.16" cy="42.67" r="0.5142082091972513" fill="#000018"/>
<circle cx="373.11" cy="61.78" r="0.4008936421278988" fill="#000028"/>
<circle cx="338.30" cy="38.29" r="0.5393538634543533" fill="#0a0ab0"/>
<circle cx="361.35" cy="40.67" r="0.4994162806096051" fill="#000028"/>
<circle cx="353.48" cy="53.11" r="0.5467485885435539" fill="#1818e8"/>
<circle cx="384.97" cy="52.55" r="0.6544023275687044" fill="#1818e8"/>
<circle cx="372.39" cy="32.62" r="0.5976043957392797" fill="#000018"/>
<circle cx="372.75" cy="53.13" r="0.7848449349107625" fill="#000018"/>
<circle cx="354.41" cy="60.36" r="0.6419255648932932" fill="#1818e8"/>
<circle cx="385.67" cy="47.98" r="0.7323440190378268" fill="#03035a"/>
<circle cx="332.05" cy="62.69" r="0.6179816133579838" fill="#0e0ec0"/>
<circle cx="379.04" cy="31.64" r="0.38152300610600826" fill="#1414d8"/>
<circle cx="386.74" cy="22.36" r="0.4620142452550753" fill="#1818e8"/>
<circle cx="344.79" cy="31.28" r="0.6699948035432672" fill="#000018"/>
<circle cx="393.48" cy="66.31" r="0.4168773160237204" fill="#000020"/>
<circle cx="333.97" cy="35.44" r="0.4812962549762728" fill="#02024a"/>
<circle cx="389.35" cy="34.65" r="0.767249973399694" fill="#000010"/>
<circle cx="372.02" cy="52.72" r="0.46832769296537535" fill="#000020"/>
<circle cx="352.51" cy="42.54" r="0.43477705510205866" fill="#000028"/>
<circle cx="384.54" cy="55.44" r="0.7275207669413434" fill="#0e0ec0"/>
<circle cx="355.52" cy="53.74" r="0.45323605008513335" fill="#0a0ab0"/>
<circle cx="384.32" cy="22.78" r="0.6137972788401874" fill="#000018"/>
<circle cx="383.76" cy="40.57" r="0.5607961971765116" fill="#000018"/>
<circle cx="371.91" cy="59.10" r="0.5623509757538332" fill="#0e0ec0"/>
<circle cx="372.71" cy="30.07" r="0.46633977164019874" fill="#0e0ec0"/>
<circle cx="364.96" cy="34.59" r="0.37568672458758295" fill="#000018"/>
<circle cx="378.95" cy="29.08" r="0.4808626249071871" fill="#02024a"/>
<circle cx="371.38" cy="62.92" r="0.44208693760493145" fill="#000010"/>
<circle cx="397.68" cy="62.76" r="0.4090527748376554" fill="#1414d8"/>
<circle cx="344.54" cy="56.43" r="0.7221461498502229" fill="#000010"/>
<circle cx="356.30" cy="44.09" r="0.4878720177340913" fill="#03035a"/>
<circle cx="350.70" cy="32.69" r="0.49626367897677204" fill="#000018"/>
<circle cx="339.35" cy="64.40" r="0.7447763380432685" fill="#02024a"/>
<circle cx="330.99" cy="34.03" r="0.7032564005111104" fill="#000028"/>
<circle cx="389.01" cy="52.18" r="0.5644053029877525" fill="#000010"/>
<circle cx="382.48" cy="23.38" r="0.3815241991034377" fill="#0e0ec0"/>
<circle cx="384.42" cy="43.62" r="0.5523319184274096" fill="#02024a"/>
<circle cx="393.72" cy="38.89" r="0.6673245222661756" fill="#000028"/>
<circle cx="359.78" cy="64.20" r="0.7702632448941793" fill="#03035a"/>
<circle cx="332.43" cy="56.33" r="0.3895372616988684" fill="#000010"/>
<circle cx="338.09" cy="60.75" r="0.7745331492971217" fill="#000028"/>
<circle cx="337.81" cy="41.25" r="0.6287056700572827" fill="#000010"/>
<circle cx="374.34" cy="60.47" r="0.6472375809911125" fill="#000020"/>
<circle cx="348.80" cy="56.27" r="0.4107685784884698" fill="#0a0ab0"/>
<circle cx="377.28" cy="33.81" r="0.7183405338923259" fill="#03035a"/>
<circle cx="386.47" cy="26.50" r="0.42815742957661274" fill="#0e0ec0"/>
<circle cx="377.82" cy="36.11" r="0.7510015674626215" fill="#02024a"/>
<circle cx="396.05" cy="23.91" r="0.46680600810296624" fill="#0e0ec0"/>
<circle cx="361.57" cy="65.63" r="0.6218231846756679" fill="#000010"/>
<circle cx="381.33" cy="37.64" r="0.44083966933411883" fill="#1818e8"/>
<circle cx="380.66" cy="63.60" r="0.5709705915164207" fill="#000028"/>
<circle cx="352.31" cy="30.42" r="0.46482077301122166" fill="#02024a"/>
<circle cx="385.16" cy="52.66" r="0.7893041814456699" fill="#03035a"/>
<circle cx="380.36" cy="35.08" r="0.4343854896489021" fill="#0e0ec0"/>
<circle cx="344.91" cy="35.19" r="0.7043554633374647" fill="#000010"/>
<circle cx="370.81" cy="62.80" r="0.7784090623178904" fill="#000020"/>
<circle cx="344.65" cy="33.89" r="0.7465186139173023" fill="#000020"/>
<circle cx="349.74" cy="48.81" r="0.5274852854774099" fill="#000010"/>
<circle cx="336.52" cy="29.39" r="0.7592903122611689" fill="#0e0ec0"/>
<circle cx="381.16" cy="56.36" r="0.6051379165799473" fill="#000018"/>
<circle cx="385.35" cy="50.12" r="0.37349762280128057" fill="#1818e8"/>
<circle cx="381.06" cy="58.51" r="0.4639477072436139" fill="#000020"/>
<circle cx="355.20" cy="59.83" r="0.410116569384264" fill="#000028"/>
<circle cx="378.19" cy="51.44" r="0.37468258369993557" fill="#1818e8"/>
<circle cx="387.49" cy="61.78" r="0.4125896151045639" fill="#000028"/>
<circle cx="389.03" cy="45.32" r="0.5550637906474962" fill="#000020"/>
<circle cx="361.39" cy="41.05" r="0.6870065703349668" fill="#000018"/>
<circle cx="379.30" cy="36.04" r="0.3788080080984449" fill="#0a0ab0"/>
<circle cx="383.94" cy="29.39" r="0.3817941600589198" fill="#0a0ab0"/>
<circle cx="388.32" cy="49.91" r="0.4900135696759795" fill="#02024a"/>
<circle cx="394.83" cy="33.50" r="0.634535591670623" fill="#03035a"/>
<circle cx="361.41" cy="62.81" r="0.6801811462454386" fill="#000010"/>
<circle cx="379.97" cy="35.61" r="0.7615419275883415" fill="#03035a"/>
<circle cx="369.50" cy="59.31" r="0.5833407482564406" fill="#02024a"/>
<circle cx="394.94" cy="29.39" r="0.4437893603970333" fill="#000028"/>
<circle cx="354.00" cy="65.75" r="0.6631570885959499" fill="#0a0ab0"/>
<circle cx="374.15" cy="46.35" r="0.5576892261646089" fill="#03035a"/>
<circle cx="358.78" cy="53.76" r="0.5431926254140351" fill="#0a0ab0"/>
<circle cx="341.60" cy="32.56" r="0.5818385761603044" fill="#000020"/>
<circle cx="335.92" cy="57.56" r="0.6217030082700837" fill="#1414d8"/>
<circle cx="344.03" cy="61.99" r="0.7965975432239625" fill="#0e0ec0"/>
<circle cx="339.80" cy="49.76" r="0.3846491379171296" fill="#0e0ec0"/>
<circle cx="342.84" cy="33.10" r="0.498066103324245" fill="#1818e8"/>
<circle cx="362.85" cy="55.48" r="0.3548768516689498" fill="#1818e8"/>
<circle cx="370.70" cy="36.89" r="0.7242527697421117" fill="#1818e8"/>
<circle cx="341.57" cy="63.34" r="0.5981250166559982" fill="#0a0ab0"/>
<circle cx="388.91" cy="36.08" r="0.7657922161738651" fill="#000018"/>
<circle cx="363.79" cy="62.90" r="0.733023363012069" fill="#000018"/>
<circle cx="364.20" cy="64.45" r="0.6019841499330164" fill="#1818e8"/>
<circle cx="339.49" cy="39.88" r="0.3636880583370681" fill="#1818e8"/>
<circle cx="370.51" cy="30.98" r="0.47420546602607727" fill="#0e0ec0"/>
<circle cx="343.86" cy="49.34" r="0.3743719226983247" fill="#1414d8"/>
<circle cx="384.37" cy="62.99" r="0.4244431010392357" fill="#000018"/>
<circle cx="366.11" cy="29.63" r="0.7198616503101314" fill="#000018"/>
<circle cx="370.56" cy="63.04" r="0.44089864856907623" fill="#03035a"/>
<circle cx="378.76" cy="23.56" r="0.5580581241878776" fill="#03035a"/>
<circle cx="378.00" cy="31.65" r="0.7272586404605572" fill="#000028"/>
<circle cx="332.53" cy="65.02" r="0.5491814545628804" fill="#0a0ab0"/>
<circle cx="388.92" cy="62.71" r="0.6016955357412569" fill="#0e0ec0"/>
<circle cx="338.72" cy="40.96" r="0.6374191954538335" fill="#000028"/>
<circle cx="352.12" cy="56.20" r="0.46030283829893376" fill="#000018"/>
<circle cx="344.63" cy="61.30" r="0.5104461310669384" fill="#0e0ec0"/>
<circle cx="342.24" cy="33.79" r="0.5770524407421068" fill="#1818e8"/>
<circle cx="357.76" cy="59.84" r="0.6959147735524445" fill="#03035a"/>
<circle cx="362.50" cy="65.06" r="0.5621423097947966" fill="#000018"/>
<circle cx="361.50" cy="43.40" r="0.575078126610336" fill="#000018"/>
<circle cx="333.96" cy="52.96" r="0.7851472175220316" fill="#0e0ec0"/>
<circle cx="335.84" cy="54.58" r="0.5010074835896168" fill="#0e0ec0"/>
<circle cx="373.50" cy="41.22" r="0.7255738918308721" fill="#000028"/>
<circle cx="329.34" cy="60.32" r="0.6778072291207364" fill="#000020"/>
<circle cx="364.07" cy="53.50" r="0.6552736992444164" fill="#0e0ec0"/>
<circle cx="371.72" cy="25.88" r="0.6435781724619248" fill="#1414d8"/>
<circle cx="394.50" cy="25.32" r="0.5146316983180736" fill="#0e0ec0"/>
<circle cx="383.56" cy="47.42" r="0.6547615509394924" fill="#000020"/>
<circle cx="384.25" cy="25.87" r="0.5983575558747065" fill="#1818e8"/>
<circle cx="391.40" cy="66.58" r="0.6273736122656307" fill="#02024a"/>
<circle cx="359.36" cy="31.75" r="0.5846606962592672" fill="#1414d8"/>
<circle cx="353.07" cy="44.54" r="0.7682245313845177" fill="#02024a"/>
<circle cx="336.93" cy="30.75" r="0.6243725968459004" fill="#03035a"/>
<circle cx="383.21" cy="31.05" r="0.5167181857675819" fill="#0e0ec0"/>
<circle cx="333.54" cy="58.38" r="0.6327483172902773" fill="#1414d8"/>
<circle cx="347.96" cy="34.62" r="0.7196517182347562" fill="#1818e8"/>
<circle cx="393.80" cy="36.85" r="0.3840750320771078" fill="#000018"/>
<circle cx="333.01" cy="58.14" r="0.41610061146323357" fill="#000018"/>
<circle cx="344.05" cy="39.80" r="0.40489971809118" fill="#0a0ab0"/>
<circle cx="394.33" cy="45.48" r="0.764877069652776" fill="#0a0ab0"/>
<circle cx="382.31" cy="25.48" r="0.7268874990703162" fill="#1414d8"/>
<circle cx="380.59" cy="60.77" r="0.5235916032642203" fill="#0a0ab0"/>
<circle cx="372.40" cy="53.33" r="0.4307665893334623" fill="#1818e8"/>
<circle cx="330.41" cy="53.30" r="0.6335458910153037" fill="#0a0ab0"/>
<circle cx="342.54" cy="35.89" r="0.773535843836522" fill="#000018"/>
<circle cx="353.82" cy="66.76" r="0.5455055221645684" fill="#0e0ec0"/>
<circle cx="357.16" cy="40.27" r="0.5673835757268535" fill="#1414d8"/>
<circle cx="397.65" cy="53.18" r="0.4287950435616286" fill="#1818e8"/>
<circle cx="390.59" cy="57.55" r="0.6317145744839967" fill="#1414d8"/>
<circle cx="359.69" cy="49.02" r="0.7574527555339055" fill="#02024a"/>
<circle cx="366.72" cy="62.05" r="0.35621134380410496" fill="#02024a"/>
<circle cx="389.80" cy="47.97" r="0.5016414247236137" fill="#0e0ec0"/>
<circle cx="364.23" cy="25.43" r="0.3716530908769066" fill="#000028"/>
<circle cx="364.59" cy="42.79" r="0.6597602972573923" fill="#1818e8"/>
<circle cx="384.32" cy="57.16" r="0.581676246020327" fill="#1414d8"/>
<circle cx="387.25" cy="36.09" r="0.6675060518174812" fill="#000018"/>
<circle cx="368.28" cy="54.30" r="0.5339533887817811" fill="#02024a"/>
<circle cx="394.93" cy="64.27" r="0.6268384070885964" fill="#000020"/>
<circle cx="390.75" cy="27.59" r="0.7970801469437905" fill="#000018"/>
<circle cx="383.64" cy="57.27" r="0.7195584662402195" fill="#03035a"/>
<circle cx="376.44" cy="33.92" r="0.6908997219199889" fill="#000010"/>
<circle cx="384.25" cy="34.84" r="0.6081247444149267" fill="#000028"/>
<circle cx="362.67" cy="31.77" r="0.7653031754862085" fill="#0a0ab0"/>
<circle cx="362.90" cy="59.28" r="0.370893107854482" fill="#0e0ec0"/>
<circle cx="381.49" cy="46.59" r="0.7582457112695269" fill="#03035a"/>
<circle cx="363.98" cy="53.14" r="0.3519662807827425" fill="#03035a"/>
<circle cx="382.60" cy="23.21" r="0.474486168059935" fill="#0a0ab0"/>
<circle cx="370.78" cy="39.74" r="0.7471665801619688" fill="#000010"/>
<circle cx="334.52" cy="40.41" r="0.5157588243030731" fill="#1414d8"/>
<circle cx="363.03" cy="53.97" r="0.4465260943715828" fill="#000010"/>
<circle cx="348.10" cy="36.51" r="0.7639745651078256" fill="#000028"/>
<circle cx="397.86" cy="39.31" r="0.607290670735354" fill="#000010"/>
<circle cx="360.42" cy="61.02" r="0.5305653844590661" fill="#02024a"/>
<circle cx="386.68" cy="58.42" r="0.48282496872609254" fill="#03035a"/>
<circle cx="397.19" cy="44.99" r="0.6831742873185108" fill="#1818e8"/>
<circle cx="353.20" cy="60.41" r="0.7360569425828472" fill="#000010"/>
<circle cx="387.73" cy="62.49" r="0.55" fill="#701078"/>
<circle cx="331.28" cy="41.19" r="0.55" fill="#701078"/>
<circle cx="361.31" cy="53.82" r="0.55" fill="#701078"/>
<circle cx="379.28" cy="35.16" r="0.55" fill="#701078"/>
<circle cx="393.36" cy="27.31" r="0.55" fill="#701078"/>
<circle cx="338.34" cy="58.59" r="0.55" fill="#701078"/>
<circle cx="363.46" cy="34.82" r="0.55" fill="#701078"/>
<circle cx="340.22" cy="64.32" r="0.55" fill="#701078"/>
<circle cx="361.65" cy="57.16" r="0.55" fill="#701078"/>
<circle cx="346.19" cy="63.46" r="0.55" fill="#701078"/>
<circle cx="344.18" cy="63.15" r="0.55" fill="#701078"/>
<circle cx="371.25" cy="66.36" r="0.55" fill="#701078"/>
<circle cx="382.19" cy="49.45" r="0.55" fill="#701078"/>
<circle cx="365.73" cy="60.59" r="0.55" fill="#701078"/>
<circle cx="392.04" cy="58.14" r="0.55" fill="#701078"/>
<circle cx="376.03" cy="55.11" r="0.55" fill="#701078"/>
<circle cx="344.93" cy="41.13" r="0.55" fill="#701078"/>
<circle cx="385.76" cy="65.91" r="0.55" fill="#701078"/>
<circle cx="392.70" cy="26.08" r="0.55" fill="#701078"/>
<circle cx="376.16" cy="45.64" r="0.55" fill="#701078"/>
<path d="M337.5 31 L343.5 38.3" stroke="#2a3cff" stroke-width="1.1" fill="none"/>
<path d="M390 21 L392 27 L395 33" stroke="#2030f0" stroke-width="1" fill="none"/>
</g>
<polyline points="328.9,28.7 331.2,28.6 333.5,28.5 335.8,28.4 338.1,28.3 340.4,28.2 342.7,28.0 345.0,27.7 347.3,27.5 349.6,27.2 351.9,26.8 354.2,26.4 356.5,26.0 358.8,25.5 361.1,25.0 363.4,24.5 365.8,24.0 368.1,23.5 370.4,23.0 372.7,22.5 375.0,22.1 377.3,21.6 379.6,21.3 381.9,21.0 384.2,20.6 386.5,20.4 388.8,20.2 391.1,20.0 393.4,19.8 395.7,19.7 398.0,19.6" fill="none" stroke="#2840ff" stroke-width="1.5" filter="url(#b1)"/>
</g>
<text x="330.8" y="22.3" font-size="2.8" text-anchor="start" fill="#f01828" font-weight="bold" stroke="#f01828" stroke-width="0.18">CD8</text>
<text x="337.9" y="22.3" font-size="2.8" text-anchor="start" fill="#2c44ff" font-weight="bold" stroke="#2c44ff" stroke-width="0.18">DAPI</text>
<rect x="392.60" y="65.40" width="3.60" height="0.90" fill="#8a8ab8" stroke="none" stroke-width="1"/>
<g clip-path="url(#ct)">
<rect x="328.90" y="76.90" width="69.10" height="50.00" fill="#050007" stroke="none" stroke-width="1"/>
<polygon points="328.0,87.0 329.1,86.5 333.7,83.5 337.5,84.6 341.5,84.6 345.2,84.2 349.1,81.5 354.5,80.0 357.5,80.4 360.6,81.9 363.5,81.3 366.0,80.4 369.7,78.9 373.5,79.6 377.4,81.9 381.2,82.7 385.1,82.3 388.9,83.5 394.3,81.9 397.8,83.5 399.0,83.8 399.0,97.1 397.8,97.0 394.3,95.2 388.9,95.5 385.1,93.3 381.2,93.2 377.4,92.8 373.5,91.5 369.7,91.8 366.0,93.9 363.5,94.7 360.6,94.8 357.5,92.4 354.5,91.2 349.1,92.0 345.2,95.2 341.5,96.7 337.5,97.7 333.7,97.0 329.1,99.4 328.0,99.6" fill="#0a0a8c" opacity="0.9" filter="url(#b2)"/>
<g filter="url(#b1)">
<circle cx="356.90" cy="82.64" r="0.5116941564120099" fill="#04043a"/>
<circle cx="361.35" cy="93.50" r="0.7034487740356258" fill="#1828d8"/>
<circle cx="367.18" cy="89.86" r="0.7152210697369401" fill="#1020c0"/>
<circle cx="352.59" cy="81.96" r="0.6208672384314234" fill="#1828d8"/>
<circle cx="396.73" cy="85.27" r="0.712030578607139" fill="#0a1090"/>
<circle cx="355.51" cy="86.35" r="0.591234816213726" fill="#1828d8"/>
<circle cx="350.86" cy="85.89" r="0.8805458920292992" fill="#04043a"/>
<circle cx="372.40" cy="86.21" r="0.8767032308293867" fill="#1a2ae0"/>
<circle cx="376.96" cy="86.93" r="0.8683009116747138" fill="#1020c0"/>
<circle cx="366.44" cy="91.47" r="0.7514494853369722" fill="#0a1090"/>
<circle cx="341.91" cy="87.14" r="0.5818836706590542" fill="#1a2ae0"/>
<circle cx="345.78" cy="93.94" r="0.4789702794642895" fill="#1828d8"/>
<circle cx="343.39" cy="85.64" r="0.6817126119759577" fill="#1a2ae0"/>
<circle cx="337.07" cy="95.18" r="0.7510785926108264" fill="#1a2ae0"/>
<circle cx="348.71" cy="83.23" r="0.5369225845128001" fill="#02021a"/>
<circle cx="378.18" cy="82.58" r="0.4721583320849677" fill="#04043a"/>
<circle cx="334.95" cy="87.86" r="0.8528462008074915" fill="#1a2ae0"/>
<circle cx="329.51" cy="91.71" r="0.8561383714493759" fill="#02021a"/>
<circle cx="365.71" cy="83.26" r="0.7078908904733368" fill="#1020c0"/>
<circle cx="391.52" cy="85.86" r="0.5447566976355943" fill="#1828d8"/>
<circle cx="347.38" cy="91.68" r="0.6820028787879472" fill="#0a1090"/>
<circle cx="375.53" cy="85.26" r="0.8966951285588929" fill="#1828d8"/>
<circle cx="333.55" cy="94.48" r="0.8915470700040895" fill="#1828d8"/>
<circle cx="386.23" cy="92.30" r="0.681481370825803" fill="#04043a"/>
<circle cx="354.07" cy="87.28" r="0.8790985410084037" fill="#1828d8"/>
<circle cx="397.56" cy="91.67" r="0.74404665286348" fill="#1020c0"/>
<circle cx="354.59" cy="84.24" r="0.5100288682546452" fill="#0a1090"/>
<circle cx="346.53" cy="85.17" r="0.5211744451392495" fill="#1020c0"/>
<circle cx="336.53" cy="94.61" r="0.506156378030896" fill="#0a1090"/>
<circle cx="363.64" cy="88.88" r="0.7022088831175861" fill="#04043a"/>
<circle cx="360.92" cy="91.31" r="0.7773530794392681" fill="#1020c0"/>
<circle cx="358.11" cy="83.85" r="0.7905746665044533" fill="#1020c0"/>
<circle cx="390.77" cy="87.58" r="0.7981199219201687" fill="#000010"/>
<circle cx="361.89" cy="86.85" r="0.6009839073893877" fill="#000010"/>
<circle cx="331.77" cy="97.33" r="0.8966564850928287" fill="#1828d8"/>
<circle cx="360.18" cy="88.12" r="0.8656402287403218" fill="#02021a"/>
<circle cx="392.83" cy="85.23" r="0.5669100112242611" fill="#000010"/>
<circle cx="351.82" cy="82.10" r="0.741973428319974" fill="#04043a"/>
<circle cx="381.04" cy="83.87" r="0.8005411145946579" fill="#04043a"/>
<circle cx="345.79" cy="85.83" r="0.5874048988847305" fill="#0a1090"/>
<circle cx="393.27" cy="84.00" r="0.6810960556788667" fill="#1020c0"/>
<circle cx="369.47" cy="85.47" r="0.8954275774312989" fill="#1a2ae0"/>
<circle cx="373.68" cy="81.90" r="0.7313339021472789" fill="#1828d8"/>
<circle cx="348.59" cy="82.73" r="0.47149745968063583" fill="#02021a"/>
<circle cx="380.21" cy="89.81" r="0.6797876371591769" fill="#1020c0"/>
<circle cx="344.72" cy="86.88" r="0.566531737875587" fill="#04043a"/>
<circle cx="335.22" cy="95.67" r="0.45160618957678056" fill="#1020c0"/>
<circle cx="374.63" cy="81.83" r="0.6335784151368935" fill="#02021a"/>
<circle cx="376.40" cy="91.83" r="0.6007358760511542" fill="#0a1090"/>
<circle cx="374.60" cy="84.24" r="0.4670557292576177" fill="#04043a"/>
<circle cx="376.47" cy="86.19" r="0.5200790978087094" fill="#1828d8"/>
<circle cx="332.83" cy="86.96" r="0.5684117828605848" fill="#1a2ae0"/>
<circle cx="335.80" cy="90.83" r="0.6697992947984234" fill="#1020c0"/>
<circle cx="335.75" cy="96.06" r="0.7032241472150956" fill="#04043a"/>
<circle cx="349.07" cy="90.90" r="0.8165382750431853" fill="#04043a"/>
<circle cx="337.67" cy="85.91" r="0.6467984870610726" fill="#1a2ae0"/>
<circle cx="376.28" cy="88.80" r="0.7101636360828016" fill="#1a2ae0"/>
<circle cx="332.03" cy="93.96" r="0.8103937270768446" fill="#1828d8"/>
<circle cx="384.30" cy="85.24" r="0.5494486008759594" fill="#1a2ae0"/>
<circle cx="347.44" cy="84.79" r="0.8234471005575668" fill="#04043a"/>
<circle cx="378.11" cy="85.25" r="0.8901713851615887" fill="#04043a"/>
<circle cx="341.31" cy="86.57" r="0.694754515415055" fill="#04043a"/>
<circle cx="388.65" cy="90.89" r="0.519919518355751" fill="#000010"/>
<circle cx="346.91" cy="84.65" r="0.8134975803737698" fill="#1828d8"/>
<circle cx="375.30" cy="81.20" r="0.46904369364192433" fill="#0a1090"/>
<circle cx="334.72" cy="88.11" r="0.7155731699857184" fill="#000010"/>
<circle cx="391.70" cy="92.46" r="0.8392996752298647" fill="#02021a"/>
<circle cx="359.44" cy="92.90" r="0.8032723209003194" fill="#000010"/>
<circle cx="368.00" cy="82.50" r="0.6834322187444289" fill="#04043a"/>
<circle cx="379.17" cy="83.98" r="0.6096300183216001" fill="#02021a"/>
<circle cx="369.53" cy="82.13" r="0.5748377009986855" fill="#02021a"/>
<circle cx="337.79" cy="85.37" r="0.6433812037026194" fill="#02021a"/>
<circle cx="341.71" cy="90.93" r="0.5741054058336148" fill="#000010"/>
<circle cx="372.32" cy="84.89" r="0.6187491769554245" fill="#04043a"/>
<circle cx="346.10" cy="93.19" r="0.6798732034425495" fill="#04043a"/>
<circle cx="366.49" cy="84.35" r="0.8235086617537182" fill="#1828d8"/>
<circle cx="385.46" cy="87.77" r="0.7790008564050703" fill="#1020c0"/>
<circle cx="379.29" cy="91.06" r="0.7691629516920273" fill="#04043a"/>
<circle cx="353.74" cy="88.25" r="0.7800153582868654" fill="#1020c0"/>
<circle cx="385.98" cy="93.10" r="0.6444780561668126" fill="#1a2ae0"/>
<circle cx="375.62" cy="87.88" r="0.7620749988223736" fill="#0a1090"/>
<circle cx="366.80" cy="84.83" r="0.6343331751567365" fill="#04043a"/>
<circle cx="395.37" cy="89.42" r="0.7515919062551081" fill="#0a1090"/>
<circle cx="384.48" cy="85.12" r="0.601611467171487" fill="#1828d8"/>
<circle cx="378.63" cy="89.78" r="0.533709240477146" fill="#1828d8"/>
<circle cx="354.42" cy="83.26" r="0.6692415387887689" fill="#1a2ae0"/>
<circle cx="337.96" cy="89.17" r="0.6390573526952166" fill="#04043a"/>
<circle cx="348.84" cy="83.66" r="0.5192612349121973" fill="#1a2ae0"/>
<circle cx="341.57" cy="86.83" r="0.5764195921070869" fill="#1a2ae0"/>
<circle cx="387.82" cy="87.21" r="0.833252267002158" fill="#1828d8"/>
<circle cx="358.42" cy="83.52" r="0.7977309435821296" fill="#0a1090"/>
<circle cx="364.09" cy="82.98" r="0.5722259696408287" fill="#02021a"/>
<circle cx="356.37" cy="87.11" r="0.564874807700966" fill="#1828d8"/>
<circle cx="355.98" cy="82.66" r="0.8019364536179993" fill="#1a2ae0"/>
<circle cx="354.59" cy="88.27" r="0.5998292185890144" fill="#1a2ae0"/>
<circle cx="331.32" cy="94.37" r="0.543084679239767" fill="#02021a"/>
<circle cx="375.50" cy="87.58" r="0.5822071522045653" fill="#1020c0"/>
<circle cx="377.83" cy="90.80" r="0.5583150506392355" fill="#04043a"/>
<circle cx="369.39" cy="86.43" r="0.5949007466776467" fill="#1828d8"/>
<circle cx="368.40" cy="86.23" r="0.8326821414446817" fill="#1828d8"/>
<circle cx="364.14" cy="83.09" r="0.5457645125555148" fill="#0a1090"/>
<circle cx="397.53" cy="95.30" r="0.4569252051862874" fill="#1020c0"/>
<circle cx="336.92" cy="96.99" r="0.5581704407501661" fill="#000010"/>
<circle cx="358.09" cy="84.92" r="0.5582535178940234" fill="#1a2ae0"/>
<circle cx="331.52" cy="95.25" r="0.8147067232928785" fill="#0a1090"/>
<circle cx="361.33" cy="90.86" r="0.6605109683733623" fill="#1828d8"/>
<circle cx="332.66" cy="89.42" r="0.5525236831572671" fill="#02021a"/>
<circle cx="341.01" cy="91.82" r="0.6612798455861043" fill="#04043a"/>
<circle cx="339.94" cy="96.11" r="0.8905156460925518" fill="#000010"/>
<circle cx="380.91" cy="87.32" r="0.8968467779091609" fill="#1828d8"/>
<circle cx="350.37" cy="89.94" r="0.7619206108224674" fill="#1828d8"/>
<circle cx="335.36" cy="85.61" r="0.6160181399595925" fill="#04043a"/>
<circle cx="357.25" cy="85.86" r="0.8636025601319186" fill="#0a1090"/>
<circle cx="364.56" cy="93.68" r="0.5261519074074457" fill="#02021a"/>
<circle cx="365.38" cy="82.55" r="0.5806106804872907" fill="#02021a"/>
<circle cx="343.38" cy="94.12" r="0.6109984959032762" fill="#0a1090"/>
<circle cx="370.50" cy="86.12" r="0.573284117339501" fill="#000010"/>
<circle cx="334.74" cy="96.22" r="0.6162228891962116" fill="#1828d8"/>
<circle cx="354.19" cy="90.52" r="0.7387661944881387" fill="#1020c0"/>
<circle cx="351.60" cy="89.44" r="0.6023795066224688" fill="#04043a"/>
<circle cx="330.47" cy="97.04" r="0.5500134734877324" fill="#1828d8"/>
<circle cx="340.09" cy="92.70" r="0.7491555507420635" fill="#04043a"/>
<circle cx="353.83" cy="83.27" r="0.5275389537623782" fill="#1a2ae0"/>
<circle cx="360.50" cy="92.22" r="0.6187245418636611" fill="#1a2ae0"/>
<circle cx="332.92" cy="89.20" r="0.8493416814675074" fill="#0a1090"/>
<circle cx="376.05" cy="88.48" r="0.6736589643776372" fill="#04043a"/>
<circle cx="384.24" cy="88.20" r="0.48036153532831555" fill="#1020c0"/>
<circle cx="376.84" cy="84.66" r="0.7400536553993308" fill="#1020c0"/>
<circle cx="377.42" cy="90.00" r="0.7463958727515485" fill="#000010"/>
<circle cx="350.60" cy="86.83" r="0.5103053180310104" fill="#04043a"/>
<circle cx="379.53" cy="83.91" r="0.5731787401356071" fill="#0a1090"/>
<circle cx="375.79" cy="87.04" r="0.7275163475750053" fill="#000010"/>
<circle cx="393.87" cy="92.75" r="0.752341528602951" fill="#1a2ae0"/>
<circle cx="386.26" cy="88.98" r="0.7889053261558505" fill="#0a1090"/>
<circle cx="363.01" cy="88.69" r="0.5238658127931511" fill="#1828d8"/>
<circle cx="374.01" cy="81.54" r="0.725335731216554" fill="#1828d8"/>
<circle cx="369.80" cy="87.63" r="0.6804786423418004" fill="#1020c0"/>
<circle cx="347.39" cy="91.34" r="0.5297378291008634" fill="#000010"/>
<circle cx="394.51" cy="82.79" r="0.7283668428705602" fill="#1020c0"/>
<circle cx="359.31" cy="91.37" r="0.7598159432728875" fill="#02021a"/>
<circle cx="345.39" cy="86.39" r="0.5913130231525973" fill="#1a2ae0"/>
<circle cx="352.31" cy="81.36" r="0.6014579036662294" fill="#1828d8"/>
<circle cx="391.75" cy="83.42" r="0.7737866569635607" fill="#1828d8"/>
<circle cx="339.93" cy="88.47" r="0.575435383135954" fill="#1a2ae0"/>
<circle cx="391.46" cy="93.47" r="0.8954129631276047" fill="#04043a"/>
<circle cx="370.56" cy="90.95" r="0.6988764678457654" fill="#1828d8"/>
<circle cx="384.92" cy="90.10" r="0.5524470380585915" fill="#1828d8"/>
<circle cx="394.47" cy="90.65" r="0.6678066527512083" fill="#02021a"/>
<circle cx="388.46" cy="85.42" r="0.7646927527655902" fill="#04043a"/>
<circle cx="354.93" cy="88.85" r="0.8232846285292359" fill="#1020c0"/>
<circle cx="348.33" cy="89.64" r="0.8240559189000727" fill="#1020c0"/>
<circle cx="338.10" cy="88.76" r="0.4705220714273604" fill="#1828d8"/>
<circle cx="343.91" cy="94.72" r="0.6156945329731249" fill="#02021a"/>
<circle cx="352.94" cy="85.70" r="0.7308851583979852" fill="#000010"/>
<circle cx="380.39" cy="91.36" r="0.6106234310607794" fill="#1020c0"/>
<circle cx="339.95" cy="90.81" r="0.8605226933665157" fill="#04043a"/>
<circle cx="339.70" cy="93.96" r="0.6412792076419632" fill="#1020c0"/>
<circle cx="361.50" cy="88.34" r="0.8041424026805561" fill="#1020c0"/>
<circle cx="374.07" cy="83.10" r="0.7069888186872046" fill="#1828d8"/>
<circle cx="347.12" cy="86.74" r="0.5045360398820022" fill="#0a1090"/>
<path d="M333.9 83 L330.3 92.3" stroke="#2238ff" stroke-width="4.25" stroke-linecap="round" fill="none"/>
<path d="M341.2 84 L336.5 90" stroke="#2238ff" stroke-width="2.75" stroke-linecap="round" fill="none"/>
<path d="M349.2 81.2 L344.8 88.2" stroke="#2238ff" stroke-width="3.00" stroke-linecap="round" fill="none"/>
<path d="M356 80 L352 87" stroke="#2238ff" stroke-width="2.75" stroke-linecap="round" fill="none"/>
<path d="M362.2 81.2 L358.4 87.6" stroke="#2238ff" stroke-width="2.50" stroke-linecap="round" fill="none"/>
<path d="M369.9 78.8 L364.5 85.6" stroke="#2238ff" stroke-width="3.25" stroke-linecap="round" fill="none"/>
<path d="M377.2 81.2 L372 89" stroke="#2238ff" stroke-width="2.75" stroke-linecap="round" fill="none"/>
<path d="M382.2 82.6 L375.4 91.6" stroke="#2238ff" stroke-width="2.75" stroke-linecap="round" fill="none"/>
<path d="M387.6 83.2 L381.6 89.6" stroke="#2238ff" stroke-width="2.50" stroke-linecap="round" fill="none"/>
<path d="M395.2 83.5 L392.8 90.5" stroke="#2238ff" stroke-width="5.75" stroke-linecap="round" fill="none"/>
<polyline points="328.0,86.9 329.1,86.4 333.7,83.4 337.5,84.5 341.5,84.5 345.2,84.1 349.1,81.4 354.5,79.9 357.5,80.3 360.6,81.8 363.5,81.2 366.0,80.3 369.7,78.8 373.5,79.5 377.4,81.8 381.2,82.6 385.1,82.2 388.9,83.4 394.3,81.8 397.8,83.4 399.0,83.7" fill="none" stroke="#2a40ff" stroke-width="2.9" stroke-linejoin="round"/>
<circle cx="359.12" cy="90.07" r="0.45156968472338316" fill="#600040"/>
<circle cx="367.05" cy="112.20" r="0.40017911702599146" fill="#600040"/>
<circle cx="349.08" cy="121.84" r="0.6212615264515802" fill="#500020"/>
<circle cx="359.07" cy="114.85" r="0.4256380553475816" fill="#800030"/>
<circle cx="339.69" cy="96.36" r="0.4771028227245502" fill="#1a1070"/>
<circle cx="355.71" cy="95.49" r="0.5809921349310396" fill="#b01030"/>
<circle cx="358.98" cy="121.37" r="0.6021680436340808" fill="#a01840"/>
<circle cx="344.67" cy="111.14" r="0.4986594709882272" fill="#500020"/>
<circle cx="350.11" cy="99.32" r="0.6705156031283835" fill="#900028"/>
<circle cx="346.07" cy="93.10" r="0.38451611477998093" fill="#500020"/>
<circle cx="344.32" cy="98.95" r="0.5154250714602487" fill="#b01030"/>
<circle cx="388.56" cy="94.22" r="0.5308984300409582" fill="#500020"/>
<circle cx="393.24" cy="104.48" r="0.37907466178751825" fill="#300018"/>
<circle cx="380.59" cy="114.97" r="0.5623413438523472" fill="#500020"/>
<circle cx="347.87" cy="120.55" r="0.678337849401553" fill="#b01030"/>
<circle cx="374.57" cy="110.65" r="0.5799290326310009" fill="#b01030"/>
<circle cx="329.51" cy="99.55" r="0.41312372339691006" fill="#b01030"/>
<circle cx="361.38" cy="94.83" r="0.6350808788405267" fill="#b01030"/>
<circle cx="349.37" cy="104.09" r="0.5579416233217909" fill="#b01030"/>
<circle cx="352.17" cy="94.73" r="0.4647716016860582" fill="#400050"/>
<circle cx="350.03" cy="110.14" r="0.3962298962226492" fill="#800030"/>
<circle cx="397.69" cy="101.03" r="0.7166424643060665" fill="#600040"/>
<circle cx="371.48" cy="113.49" r="0.7080549154351731" fill="#800030"/>
<circle cx="365.02" cy="101.07" r="0.5032376292548172" fill="#1a1070"/>
<circle cx="364.77" cy="110.52" r="0.584516978389602" fill="#500020"/>
<circle cx="370.59" cy="96.32" r="0.4591194805424787" fill="#b01030"/>
<circle cx="371.32" cy="114.48" r="0.714367355662963" fill="#500020"/>
<circle cx="377.98" cy="92.33" r="0.3936736714991374" fill="#400050"/>
<circle cx="363.87" cy="120.18" r="0.49564019777370427" fill="#500020"/>
<circle cx="370.66" cy="92.60" r="0.7375490201022243" fill="#500020"/>
<circle cx="346.30" cy="98.89" r="0.36876363922144423" fill="#800030"/>
<circle cx="332.94" cy="94.13" r="0.5788572063850187" fill="#b01030"/>
<circle cx="363.24" cy="96.89" r="0.4626550866853455" fill="#a01840"/>
<circle cx="351.38" cy="110.31" r="0.5536580058501787" fill="#800030"/>
<circle cx="336.84" cy="108.77" r="0.6378025660159177" fill="#20107a"/>
<circle cx="358.90" cy="107.16" r="0.6925665754434797" fill="#b01030"/>
<circle cx="384.86" cy="90.56" r="0.6314076577885587" fill="#20107a"/>
<circle cx="374.55" cy="93.86" r="0.609781323458796" fill="#1a1070"/>
<circle cx="331.88" cy="97.05" r="0.506414981738198" fill="#1a1070"/>
<circle cx="342.42" cy="114.60" r="0.7404650230712135" fill="#400050"/>
<circle cx="356.70" cy="111.02" r="0.42516842898882296" fill="#600040"/>
<circle cx="395.57" cy="118.69" r="0.5362327010531162" fill="#800030"/>
<circle cx="345.53" cy="117.41" r="0.7254308556689537" fill="#20107a"/>
<circle cx="389.66" cy="99.88" r="0.5401226292027002" fill="#400050"/>
<circle cx="370.45" cy="126.31" r="0.4235795284648155" fill="#300018"/>
<circle cx="375.16" cy="96.28" r="0.577196936399018" fill="#b01030"/>
<circle cx="338.82" cy="110.33" r="0.6749196419986765" fill="#400050"/>
<circle cx="349.81" cy="99.87" r="0.35483428820717844" fill="#1a1070"/>
<circle cx="344.10" cy="107.21" r="0.6025284450506043" fill="#900028"/>
<circle cx="345.52" cy="111.90" r="0.517804606503252" fill="#300018"/>
<circle cx="387.14" cy="118.21" r="0.6014678380221594" fill="#a01840"/>
<circle cx="384.84" cy="115.66" r="0.6751425605970351" fill="#600040"/>
<circle cx="340.01" cy="93.32" r="0.6643953823424339" fill="#20107a"/>
<circle cx="370.30" cy="124.02" r="0.5767016937818813" fill="#20107a"/>
<circle cx="332.18" cy="108.48" r="0.3652584503092935" fill="#400050"/>
<circle cx="374.68" cy="124.59" r="0.528177909402476" fill="#500020"/>
<circle cx="361.18" cy="110.91" r="0.625468196331429" fill="#600040"/>
<circle cx="384.80" cy="99.16" r="0.7070233068056705" fill="#600040"/>
<circle cx="343.38" cy="97.72" r="0.4252293376607211" fill="#20107a"/>
<circle cx="397.77" cy="106.44" r="0.6026868278905777" fill="#600040"/>
<circle cx="385.12" cy="92.14" r="0.3769052697794106" fill="#900028"/>
<circle cx="330.13" cy="107.74" r="0.7317326667492803" fill="#1a1070"/>
<circle cx="357.29" cy="102.52" r="0.5162966829391697" fill="#900028"/>
<circle cx="352.09" cy="90.44" r="0.3721836175120855" fill="#1a1070"/>
<circle cx="388.24" cy="108.08" r="0.49945046853110875" fill="#800030"/>
<circle cx="355.40" cy="99.66" r="0.37619178146031496" fill="#300018"/>
<circle cx="365.32" cy="93.83" r="0.6134376797144927" fill="#500020"/>
<circle cx="336.90" cy="112.11" r="0.7446437860950663" fill="#400050"/>
<circle cx="332.06" cy="122.42" r="0.46062185069436" fill="#900028"/>
<circle cx="368.77" cy="103.98" r="0.6544969427685152" fill="#a01840"/>
<circle cx="332.53" cy="101.33" r="0.6803240018091588" fill="#1a1070"/>
<circle cx="392.02" cy="110.89" r="0.3616532010747582" fill="#500020"/>
<circle cx="389.90" cy="113.41" r="0.40850236601620127" fill="#500020"/>
<circle cx="377.94" cy="115.87" r="0.44773712763454987" fill="#600040"/>
<circle cx="384.20" cy="98.79" r="0.44056575818549665" fill="#300018"/>
<circle cx="396.58" cy="118.40" r="0.40672851787343456" fill="#800030"/>
<circle cx="367.49" cy="118.56" r="0.357446082019432" fill="#400050"/>
<circle cx="383.91" cy="91.93" r="0.6853307957673157" fill="#900028"/>
<circle cx="356.35" cy="110.21" r="0.3757007876825678" fill="#20107a"/>
<circle cx="333.81" cy="104.01" r="0.5667146495007113" fill="#900028"/>
<circle cx="369.01" cy="94.49" r="0.5529195569482676" fill="#600040"/>
<circle cx="390.21" cy="95.68" r="0.7109517216712271" fill="#900028"/>
<circle cx="381.86" cy="118.53" r="0.6830034101218552" fill="#20107a"/>
<circle cx="396.47" cy="94.77" r="0.6324756851300501" fill="#1a1070"/>
<circle cx="347.95" cy="99.29" r="0.4041363108594806" fill="#20107a"/>
<circle cx="390.34" cy="98.94" r="0.6192780878338255" fill="#800030"/>
<circle cx="351.22" cy="117.33" r="0.6213386013111535" fill="#300018"/>
<circle cx="339.93" cy="93.93" r="0.7019448285694723" fill="#600040"/>
<circle cx="360.25" cy="91.94" r="0.6003488941478368" fill="#800030"/>
<circle cx="383.40" cy="116.36" r="0.5626905422274193" fill="#600040"/>
<circle cx="389.48" cy="92.47" r="0.4667903326129705" fill="#800030"/>
<circle cx="343.70" cy="102.01" r="0.6956076320278048" fill="#500020"/>
<circle cx="358.45" cy="108.25" r="0.4426613643824513" fill="#600040"/>
<circle cx="389.72" cy="120.84" r="0.48718357198269197" fill="#800030"/>
<circle cx="356.01" cy="95.76" r="0.40130391802718546" fill="#20107a"/>
<circle cx="359.72" cy="107.27" r="0.7123686753952241" fill="#a01840"/>
<circle cx="392.55" cy="113.63" r="0.5153382590691035" fill="#900028"/>
<circle cx="347.88" cy="109.79" r="0.7005051726958016" fill="#b01030"/>
<circle cx="358.41" cy="90.74" r="0.6413769042389694" fill="#800030"/>
<circle cx="354.83" cy="105.30" r="0.7061095436989194" fill="#500020"/>
<circle cx="333.66" cy="109.15" r="0.5288896911146985" fill="#1a1070"/>
<circle cx="374.59" cy="111.05" r="0.44594420772534726" fill="#a01840"/>
<circle cx="331.47" cy="108.43" r="0.6146203459909245" fill="#600040"/>
<circle cx="379.48" cy="96.38" r="0.38696128541336017" fill="#600040"/>
<circle cx="333.53" cy="110.42" r="0.4397529546151248" fill="#900028"/>
<circle cx="334.35" cy="101.99" r="0.5112081576154301" fill="#400050"/>
<circle cx="361.22" cy="95.88" r="0.7283193609580159" fill="#20107a"/>
<circle cx="381.35" cy="94.95" r="0.6746998291990924" fill="#300018"/>
<circle cx="333.40" cy="101.21" r="0.4593881950750131" fill="#b01030"/>
<circle cx="373.04" cy="93.70" r="0.4422629762275596" fill="#20107a"/>
<circle cx="329.79" cy="106.41" r="0.6630342472566565" fill="#20107a"/>
<circle cx="349.73" cy="98.57" r="0.46946219864022637" fill="#20107a"/>
<circle cx="388.70" cy="111.23" r="0.585679005221341" fill="#1a1070"/>
<circle cx="372.46" cy="113.89" r="0.5241131805898979" fill="#300018"/>
<circle cx="370.23" cy="97.73" r="0.5378242009019547" fill="#b01030"/>
<circle cx="351.44" cy="118.69" r="0.4668517818022476" fill="#600040"/>
<circle cx="372.88" cy="106.36" r="0.617553686636862" fill="#b01030"/>
<circle cx="330.45" cy="100.95" r="0.427259870104784" fill="#600040"/>
<circle cx="380.72" cy="115.67" r="0.45196909802659546" fill="#900028"/>
<circle cx="344.26" cy="98.47" r="0.6690066261001338" fill="#400050"/>
<circle cx="350.25" cy="90.50" r="0.45892632942599804" fill="#b01030"/>
<circle cx="341.45" cy="108.41" r="0.44769651855691256" fill="#400050"/>
<circle cx="370.94" cy="93.64" r="0.7048348940816477" fill="#900028"/>
<circle cx="375.94" cy="108.24" r="0.4993871917285856" fill="#900028"/>
<circle cx="396.79" cy="96.93" r="0.3664733114406895" fill="#400050"/>
<circle cx="353.03" cy="107.91" r="0.7051770573092997" fill="#800030"/>
<circle cx="364.62" cy="95.48" r="0.4713647521062643" fill="#a01840"/>
<circle cx="381.75" cy="107.35" r="0.4851753615893898" fill="#1a1070"/>
<circle cx="342.06" cy="110.62" r="0.49468634034593845" fill="#800030"/>
<circle cx="393.40" cy="104.19" r="0.5386312433188334" fill="#20107a"/>
<circle cx="362.71" cy="92.92" r="0.6209219473052268" fill="#1a1070"/>
<circle cx="375.15" cy="109.50" r="0.36753520848133453" fill="#600040"/>
<circle cx="331.74" cy="95.04" r="0.6459073032808338" fill="#b01030"/>
<circle cx="345.70" cy="91.03" r="0.6198766934365743" fill="#400050"/>
<circle cx="337.96" cy="105.25" r="0.35131149421556485" fill="#1a1070"/>
<circle cx="377.09" cy="108.67" r="0.5493595270923319" fill="#a01840"/>
<circle cx="376.95" cy="108.19" r="0.4080805324838426" fill="#300018"/>
<circle cx="335.28" cy="98.54" r="0.36883023803877246" fill="#600040"/>
<circle cx="389.63" cy="115.74" r="0.6534216803549672" fill="#400050"/>
<circle cx="375.98" cy="107.11" r="0.36697476310755167" fill="#300018"/>
<circle cx="385.86" cy="119.69" r="0.39732604542909233" fill="#b01030"/>
<circle cx="359.37" cy="94.33" r="0.48371337845356055" fill="#300018"/>
<circle cx="382.77" cy="109.04" r="0.7184126606108163" fill="#900028"/>
<circle cx="374.23" cy="111.73" r="0.6527409923704414" fill="#a01840"/>
<circle cx="332.60" cy="102.16" r="0.37677612433515" fill="#b01030"/>
<circle cx="367.66" cy="103.35" r="0.5207376875318077" fill="#20107a"/>
<circle cx="351.24" cy="94.21" r="0.41999824819508674" fill="#800030"/>
<circle cx="346.51" cy="115.76" r="0.537862334979566" fill="#1a1070"/>
<circle cx="336.96" cy="96.87" r="0.6658422108232008" fill="#20107a"/>
<circle cx="336.80" cy="111.91" r="0.6360689693256496" fill="#500020"/>
<circle cx="368.98" cy="119.08" r="0.6559091049927237" fill="#600040"/>
<circle cx="346.15" cy="124.27" r="0.3986965196953389" fill="#b01030"/>
<circle cx="359.27" cy="98.02" r="0.3861157162177531" fill="#a01840"/>
<circle cx="385.10" cy="96.71" r="0.48225766410480486" fill="#800030"/>
<circle cx="357.26" cy="113.00" r="0.4870313580125778" fill="#900028"/>
<circle cx="396.64" cy="99.87" r="0.6235321887601744" fill="#500020"/>
<circle cx="382.96" cy="95.76" r="0.5254549330851352" fill="#a01840"/>
<circle cx="343.67" cy="102.26" r="0.653859806969644" fill="#1a1070"/>
<circle cx="354.13" cy="91.79" r="0.6078501202185389" fill="#600040"/>
<circle cx="396.47" cy="109.39" r="0.5025302141337713" fill="#400050"/>
<circle cx="385.97" cy="94.74" r="0.7494173905212256" fill="#500020"/>
<circle cx="373.40" cy="126.34" r="0.4560731232237132" fill="#1a1070"/>
<circle cx="336.44" cy="100.95" r="0.589292318369667" fill="#400050"/>
<circle cx="385.89" cy="119.05" r="0.6287640148059338" fill="#900028"/>
<circle cx="346.73" cy="109.49" r="0.5842983599466806" fill="#1a1070"/>
<circle cx="342.22" cy="108.04" r="0.6726360986865697" fill="#500020"/>
<circle cx="387.47" cy="94.33" r="0.4925668620537743" fill="#300018"/>
<circle cx="349.43" cy="93.72" r="0.6722816790705982" fill="#a01840"/>
<circle cx="347.73" cy="93.20" r="0.36735695923826905" fill="#a01840"/>
<circle cx="355.29" cy="111.20" r="0.48588269332277845" fill="#400050"/>
<circle cx="346.02" cy="96.07" r="0.6128210947398951" fill="#300018"/>
<circle cx="349.30" cy="111.30" r="0.5711194311800563" fill="#900028"/>
<circle cx="345.61" cy="108.96" r="0.5714453993764564" fill="#1a1070"/>
<circle cx="386.31" cy="90.68" r="0.4072359950115317" fill="#a01840"/>
<circle cx="333.05" cy="96.78" r="0.6778460557791158" fill="#800030"/>
<circle cx="363.90" cy="95.83" r="0.6095182840683833" fill="#300018"/>
<circle cx="355.51" cy="110.35" r="0.5114996056849518" fill="#800030"/>
<circle cx="365.47" cy="112.36" r="0.6487282780432698" fill="#800030"/>
<circle cx="381.78" cy="109.77" r="0.5790094997517655" fill="#800030"/>
<circle cx="335.66" cy="96.65" r="0.518598266828408" fill="#400050"/>
<circle cx="350.83" cy="95.37" r="0.6272753212600113" fill="#20107a"/>
<circle cx="352.91" cy="114.04" r="0.5327398105282586" fill="#900028"/>
<circle cx="352.37" cy="101.85" r="0.6482355991440036" fill="#900028"/>
<circle cx="353.95" cy="100.10" r="0.6703618939759441" fill="#400050"/>
<circle cx="372.32" cy="115.60" r="0.5222302557206413" fill="#900028"/>
<circle cx="384.87" cy="109.52" r="0.5658056771176811" fill="#1a1070"/>
<circle cx="346.12" cy="115.09" r="0.526837428333796" fill="#a01840"/>
<circle cx="384.64" cy="115.56" r="0.3706815070670295" fill="#900028"/>
<circle cx="378.88" cy="117.83" r="0.5009657458402427" fill="#600040"/>
<circle cx="339.70" cy="109.46" r="0.6489836799388039" fill="#1a1070"/>
<circle cx="386.71" cy="98.56" r="0.5735848836059176" fill="#500020"/>
<circle cx="392.76" cy="91.29" r="0.4005327930588971" fill="#a01840"/>
<circle cx="360.04" cy="110.76" r="0.5616551498512342" fill="#900028"/>
<circle cx="368.07" cy="91.01" r="0.716263971099699" fill="#500020"/>
<circle cx="359.61" cy="101.38" r="0.4887200936270527" fill="#b01030"/>
<circle cx="385.98" cy="92.78" r="0.4882295510538512" fill="#600040"/>
<circle cx="343.31" cy="98.80" r="0.4865161777239986" fill="#1a1070"/>
<circle cx="347.81" cy="92.08" r="0.4702349779591942" fill="#300018"/>
<circle cx="355.82" cy="116.85" r="0.579574253228847" fill="#600040"/>
<circle cx="331.67" cy="107.20" r="0.42444552372788563" fill="#300018"/>
<circle cx="389.64" cy="121.50" r="0.545343139373689" fill="#600040"/>
<circle cx="344.86" cy="103.62" r="0.5909020695425591" fill="#20107a"/>
<circle cx="329.33" cy="103.04" r="0.5890683822380199" fill="#800030"/>
<circle cx="383.54" cy="90.85" r="0.6938886644334985" fill="#500020"/>
<circle cx="366.42" cy="117.05" r="0.7246438339408471" fill="#800030"/>
<circle cx="329.05" cy="97.96" r="0.4531891553310976" fill="#20107a"/>
<circle cx="346.42" cy="90.94" r="0.4555156996733727" fill="#300018"/>
<circle cx="373.18" cy="92.69" r="0.6339690534677817" fill="#1a1070"/>
<circle cx="389.50" cy="99.47" r="0.35735407276837705" fill="#1a1070"/>
<circle cx="365.46" cy="106.92" r="0.485318705652663" fill="#300018"/>
<path d="M340.6 103.5 L342.6 109.8" stroke="#d01028" stroke-width="0.9"/>
</g>
<circle cx="342.6" cy="109.9" r="4.2" fill="#a00020" opacity="0.35" filter="url(#b2)"/>
<circle cx="342.6" cy="109.9" r="3.0" fill="#e00828" opacity="0.75" filter="url(#b2)"/>
<circle cx="342.6" cy="109.9" r="1.9" fill="#ff2038" filter="url(#b1)"/>
<circle cx="345" cy="104.4" r="1.2" fill="#e01030" filter="url(#b1)"/>
</g>
<text x="330.8" y="81.2" font-size="2.8" text-anchor="start" fill="#f01828" font-weight="bold" stroke="#f01828" stroke-width="0.18">CD8</text>
<text x="337.9" y="81.2" font-size="2.8" text-anchor="start" fill="#2c44ff" font-weight="bold" stroke="#2c44ff" stroke-width="0.18">DAPI</text>
<rect x="392.40" y="124.50" width="4.20" height="1.00" fill="#8a8ab8" stroke="none" stroke-width="1"/>
<line x1="431" y1="43.309999999999995" x2="431" y2="103.89999999999999" stroke="#111" stroke-width="1.45" stroke-linecap="butt"/>
<line x1="430.4" y1="103.3" x2="513" y2="103.3" stroke="#111" stroke-width="1.6" stroke-linecap="butt"/>
<line x1="427.6" y1="43.809999999999995" x2="431" y2="43.809999999999995" stroke="#111" stroke-width="1.15" stroke-linecap="butt"/>
<text x="424.4" y="45.91" font-size="6.1" text-anchor="end" fill="#111"  stroke="#1a1a1a" stroke-width="0.16">300</text>
<line x1="427.6" y1="63.63999999999999" x2="431" y2="63.63999999999999" stroke="#111" stroke-width="1.15" stroke-linecap="butt"/>
<text x="424.4" y="65.74" font-size="6.1" text-anchor="end" fill="#111"  stroke="#1a1a1a" stroke-width="0.16">200</text>
<line x1="427.6" y1="83.47" x2="431" y2="83.47" stroke="#111" stroke-width="1.15" stroke-linecap="butt"/>
<text x="424.4" y="85.57" font-size="6.1" text-anchor="end" fill="#111"  stroke="#1a1a1a" stroke-width="0.16">100</text>
<line x1="427.6" y1="103.3" x2="431" y2="103.3" stroke="#111" stroke-width="1.15" stroke-linecap="butt"/>
<text x="424.4" y="105.39999999999999" font-size="6.1" text-anchor="end" fill="#111"  stroke="#1a1a1a" stroke-width="0.16">0</text>
<line x1="456.6" y1="103.3" x2="456.6" y2="106.7" stroke="#111" stroke-width="1.2" stroke-linecap="butt"/>
<text x="456.6" y="113.9" font-size="6.0" text-anchor="middle" fill="#111"  stroke="#1a1a1a" stroke-width="0.16">Vehicle</text>
<line x1="494.8" y1="103.3" x2="494.8" y2="106.7" stroke="#111" stroke-width="1.2" stroke-linecap="butt"/>
<text x="494.8" y="113.9" font-size="6.0" text-anchor="middle" fill="#111" textLength="26.6" lengthAdjust="spacingAndGlyphs"  stroke="#1a1a1a" stroke-width="0.16">Tolinapant</text>
<text x="475.5" y="32" font-size="8" text-anchor="middle" fill="#111"  stroke="#1a1a1a" stroke-width="0.16">CD8<tspan font-size="5.5" dy="-2.6">+</tspan></text>
<text x="408" y="74" font-size="8.6" text-anchor="middle" fill="#111" textLength="70" lengthAdjust="spacingAndGlyphs" transform="rotate(-90 408 74)" stroke="#111" stroke-width="0.4">Cell density (cell / mm<tspan font-size="5.5" dy="-3">2</tspan><tspan dy="3">)</tspan></text>
<line x1="456.75" y1="88" x2="456.75" y2="92.5" stroke="#0d30b6" stroke-width="1.1" stroke-linecap="butt"/>
<line x1="456.75" y1="97" x2="456.75" y2="98.8" stroke="#0d30b6" stroke-width="1.1" stroke-linecap="butt"/>
<line x1="451.0" y1="88" x2="462.5" y2="88" stroke="#0d30b6" stroke-width="1.1" stroke-linecap="butt"/>
<line x1="451.0" y1="98.8" x2="462.5" y2="98.8" stroke="#0d30b6" stroke-width="1.1" stroke-linecap="butt"/>
<rect x="444.50" y="92.50" width="24.50" height="4.50" fill="#0d30b6" stroke="#0d30b6" stroke-width="1.1"/>
<line x1="444.5" y1="94.5" x2="469" y2="94.5" stroke="#0d30b6" stroke-width="1.1" stroke-linecap="butt"/>
<line x1="494.75" y1="53.5" x2="494.75" y2="68.3" stroke="#cc1626" stroke-width="1.1" stroke-linecap="butt"/>
<line x1="494.75" y1="86.8" x2="494.75" y2="88.8" stroke="#cc1626" stroke-width="1.1" stroke-linecap="butt"/>
<line x1="489.0" y1="53.5" x2="500.5" y2="53.5" stroke="#cc1626" stroke-width="1.1" stroke-linecap="butt"/>
<line x1="489.0" y1="88.8" x2="500.5" y2="88.8" stroke="#cc1626" stroke-width="1.1" stroke-linecap="butt"/>
<rect x="482.00" y="68.30" width="25.50" height="18.50" fill="#bcc8d2" stroke="#cc1626" stroke-width="1.1"/>
<line x1="482" y1="83.1" x2="507.5" y2="83.1" stroke="#cc1626" stroke-width="1.1" stroke-linecap="butt"/>
<circle cx="493.30" cy="83.10" r="1.5" fill="#cc1626"/>
<circle cx="496.90" cy="83.10" r="1.5" fill="#cc1626"/>
<circle cx="495.20" cy="87.90" r="1.5" fill="#cc1626"/>
<text x="494.5" y="49.08" font-size="5.8" text-anchor="middle" fill="#111" stroke="#111" stroke-width="0.22" letter-spacing="1.14">**</text>
<defs><linearGradient id="cb" x1="0" x2="1" y1="0" y2="0"><stop offset="0" stop-color="#1a28ff"/><stop offset="0.2" stop-color="#2430ff"/><stop offset="0.5" stop-color="#ffffff"/><stop offset="0.7" stop-color="#ff90c0"/><stop offset="0.9" stop-color="#ff0020"/><stop offset="1" stop-color="#ff0010"/></linearGradient></defs>
<rect x="21.30" y="153.00" width="21.00" height="14.60" fill="url(#cb)" stroke="none" stroke-width="1"/>
<line x1="21.3" y1="167.9" x2="42.3" y2="167.9" stroke="#000" stroke-width="0.9" stroke-linecap="butt"/>
<line x1="22.3" y1="167.9" x2="22.3" y2="169" stroke="#000" stroke-width="0.5" stroke-linecap="butt"/>
<text x="22.3" y="174.3" font-size="3.2" text-anchor="middle" fill="#555" stroke="none">-2</text>
<line x1="27.05" y1="167.9" x2="27.05" y2="169" stroke="#000" stroke-width="0.5" stroke-linecap="butt"/>
<text x="27.05" y="174.3" font-size="3.2" text-anchor="middle" fill="#555" stroke="none">-1</text>
<line x1="31.8" y1="167.9" x2="31.8" y2="169" stroke="#000" stroke-width="0.5" stroke-linecap="butt"/>
<text x="31.8" y="174.3" font-size="3.2" text-anchor="middle" fill="#555" stroke="none">0</text>
<line x1="36.55" y1="167.9" x2="36.55" y2="169" stroke="#000" stroke-width="0.5" stroke-linecap="butt"/>
<text x="36.55" y="174.3" font-size="3.2" text-anchor="middle" fill="#555" stroke="none">1</text>
<line x1="41.3" y1="167.9" x2="41.3" y2="169" stroke="#000" stroke-width="0.5" stroke-linecap="butt"/>
<text x="41.3" y="174.3" font-size="3.2" text-anchor="middle" fill="#555" stroke="none">2</text>
<text x="32.5" y="179.8" font-size="3.9" text-anchor="middle" fill="#222" stroke="none">Column z-score</text>
<g shape-rendering="crispEdges">
<rect x="13.20" y="182.00" width="14.49" height="13.30" fill="#6670ff"/>
<rect x="27.39" y="182.00" width="14.49" height="13.30" fill="#868eff"/>
<rect x="41.58" y="182.00" width="14.49" height="13.30" fill="#6670ff"/>
<rect x="55.76" y="182.00" width="14.49" height="13.30" fill="#6670ff"/>
<rect x="69.95" y="182.00" width="14.49" height="13.30" fill="#6670ff"/>
<rect x="84.14" y="182.00" width="14.49" height="13.30" fill="#7b84ff"/>
<rect x="98.33" y="182.00" width="14.49" height="13.30" fill="#707aff"/>
<rect x="112.51" y="182.00" width="14.49" height="13.30" fill="#515cff"/>
<rect x="13.20" y="195.00" width="14.49" height="13.30" fill="#868eff"/>
<rect x="27.39" y="195.00" width="14.49" height="13.30" fill="#dddfff"/>
<rect x="41.58" y="195.00" width="14.49" height="13.30" fill="#7b84ff"/>
<rect x="55.76" y="195.00" width="14.49" height="13.30" fill="#707aff"/>
<rect x="69.95" y="195.00" width="14.49" height="13.30" fill="#868eff"/>
<rect x="84.14" y="195.00" width="14.49" height="13.30" fill="#868eff"/>
<rect x="98.33" y="195.00" width="14.49" height="13.30" fill="#707aff"/>
<rect x="112.51" y="195.00" width="14.49" height="13.30" fill="#707aff"/>
<rect x="13.20" y="208.00" width="14.49" height="13.30" fill="#e7e9ff"/>
<rect x="27.39" y="208.00" width="14.49" height="13.30" fill="#b2b7ff"/>
<rect x="41.58" y="208.00" width="14.49" height="13.30" fill="#9198ff"/>
<rect x="55.76" y="208.00" width="14.49" height="13.30" fill="#868eff"/>
<rect x="69.95" y="208.00" width="14.49" height="13.30" fill="#707aff"/>
<rect x="84.14" y="208.00" width="14.49" height="13.30" fill="#a7adff"/>
<rect x="98.33" y="208.00" width="14.49" height="13.30" fill="#a7adff"/>
<rect x="112.51" y="208.00" width="14.49" height="13.30" fill="#9198ff"/>
<rect x="13.20" y="221.00" width="14.49" height="13.30" fill="#2836ff"/>
<rect x="27.39" y="221.00" width="14.49" height="13.30" fill="#2836ff"/>
<rect x="41.58" y="221.00" width="14.49" height="13.30" fill="#3c49ff"/>
<rect x="55.76" y="221.00" width="14.49" height="13.30" fill="#4653ff"/>
<rect x="69.95" y="221.00" width="14.49" height="13.30" fill="#4653ff"/>
<rect x="84.14" y="221.00" width="14.49" height="13.30" fill="#323fff"/>
<rect x="98.33" y="221.00" width="14.49" height="13.30" fill="#3c49ff"/>
<rect x="112.51" y="221.00" width="14.49" height="13.30" fill="#b2b7ff"/>
<rect x="13.20" y="234.00" width="14.49" height="13.30" fill="#ffcaf0"/>
<rect x="27.39" y="234.00" width="14.49" height="13.30" fill="#ff79b3"/>
<rect x="41.58" y="234.00" width="14.49" height="13.30" fill="#ff99d0"/>
<rect x="55.76" y="234.00" width="14.49" height="13.30" fill="#ff79b3"/>
<rect x="69.95" y="234.00" width="14.49" height="13.30" fill="#ff5a93"/>
<rect x="84.14" y="234.00" width="14.49" height="13.30" fill="#ff6ea8"/>
<rect x="98.33" y="234.00" width="14.49" height="13.30" fill="#ff6ea8"/>
<rect x="112.51" y="234.00" width="14.49" height="13.30" fill="#f5f6ff"/>
<rect x="13.20" y="247.00" width="14.49" height="13.30" fill="#ff79b3"/>
<rect x="27.39" y="247.00" width="14.49" height="13.30" fill="#ff79b3"/>
<rect x="41.58" y="247.00" width="14.49" height="13.30" fill="#ff79b3"/>
<rect x="55.76" y="247.00" width="14.49" height="13.30" fill="#ff79b3"/>
<rect x="69.95" y="247.00" width="14.49" height="13.30" fill="#ff477c"/>
<rect x="84.14" y="247.00" width="14.49" height="13.30" fill="#ff5a93"/>
<rect x="98.33" y="247.00" width="14.49" height="13.30" fill="#ff5a93"/>
<rect x="112.51" y="247.00" width="14.49" height="13.30" fill="#ff99d0"/>
<rect x="13.20" y="260.00" width="14.49" height="13.30" fill="#ff5a93"/>
<rect x="27.39" y="260.00" width="14.49" height="13.30" fill="#e7e9ff"/>
<rect x="41.58" y="260.00" width="14.49" height="13.30" fill="#ff99d0"/>
<rect x="55.76" y="260.00" width="14.49" height="13.30" fill="#ffcaf0"/>
<rect x="69.95" y="260.00" width="14.49" height="13.30" fill="#ffb0e1"/>
<rect x="84.14" y="260.00" width="14.49" height="13.30" fill="#ff83bd"/>
<rect x="98.33" y="260.00" width="14.49" height="13.30" fill="#ffa5d9"/>
<rect x="112.51" y="260.00" width="14.49" height="13.30" fill="#ffcaf0"/>
<rect x="13.20" y="273.00" width="14.49" height="13.30" fill="#ff3d70"/>
<rect x="27.39" y="273.00" width="14.49" height="13.30" fill="#ff2b57"/>
<rect x="41.58" y="273.00" width="14.49" height="13.30" fill="#ff79b3"/>
<rect x="55.76" y="273.00" width="14.49" height="13.30" fill="#ff6ea8"/>
<rect x="69.95" y="273.00" width="14.49" height="13.30" fill="#ff649e"/>
<rect x="84.14" y="273.00" width="14.49" height="13.30" fill="#ff6ea8"/>
<rect x="98.33" y="273.00" width="14.49" height="13.30" fill="#ff649e"/>
<rect x="112.51" y="273.00" width="14.49" height="13.30" fill="#ff3464"/>
<rect x="13.20" y="286.00" width="14.49" height="13.30" fill="#ffa5d9"/>
<rect x="27.39" y="286.00" width="14.49" height="13.30" fill="#ff79b3"/>
<rect x="41.58" y="286.00" width="14.49" height="13.30" fill="#ff3d70"/>
<rect x="55.76" y="286.00" width="14.49" height="13.30" fill="#ff3464"/>
<rect x="69.95" y="286.00" width="14.49" height="13.30" fill="#ffa5d9"/>
<rect x="84.14" y="286.00" width="14.49" height="13.30" fill="#ff99d0"/>
<rect x="98.33" y="286.00" width="14.49" height="13.30" fill="#ff83bd"/>
<rect x="112.51" y="286.00" width="14.49" height="13.30" fill="#ff224a"/>
<rect x="126.70" y="181.00" width="3.00" height="119.00" fill="#fff" stroke="none" stroke-width="1"/>
<rect x="130.00" y="182.00" width="14.46" height="13.30" fill="#7b84ff"/>
<rect x="144.16" y="182.00" width="14.46" height="13.30" fill="#9198ff"/>
<rect x="158.32" y="182.00" width="14.46" height="13.30" fill="#868eff"/>
<rect x="172.49" y="182.00" width="14.46" height="13.30" fill="#9198ff"/>
<rect x="186.65" y="182.00" width="14.46" height="13.30" fill="#515cff"/>
<rect x="200.81" y="182.00" width="14.46" height="13.30" fill="#515cff"/>
<rect x="214.98" y="182.00" width="14.46" height="13.30" fill="#4653ff"/>
<rect x="229.14" y="182.00" width="14.46" height="13.30" fill="#515cff"/>
<rect x="130.00" y="195.00" width="14.46" height="13.30" fill="#707aff"/>
<rect x="144.16" y="195.00" width="14.46" height="13.30" fill="#4653ff"/>
<rect x="158.32" y="195.00" width="14.46" height="13.30" fill="#868eff"/>
<rect x="172.49" y="195.00" width="14.46" height="13.30" fill="#707aff"/>
<rect x="186.65" y="195.00" width="14.46" height="13.30" fill="#707aff"/>
<rect x="200.81" y="195.00" width="14.46" height="13.30" fill="#9198ff"/>
<rect x="214.98" y="195.00" width="14.46" height="13.30" fill="#9198ff"/>
<rect x="229.14" y="195.00" width="14.46" height="13.30" fill="#515cff"/>
<rect x="130.00" y="208.00" width="14.46" height="13.30" fill="#6670ff"/>
<rect x="144.16" y="208.00" width="14.46" height="13.30" fill="#7b84ff"/>
<rect x="158.32" y="208.00" width="14.46" height="13.30" fill="#7b84ff"/>
<rect x="172.49" y="208.00" width="14.46" height="13.30" fill="#9198ff"/>
<rect x="186.65" y="208.00" width="14.46" height="13.30" fill="#b2b7ff"/>
<rect x="200.81" y="208.00" width="14.46" height="13.30" fill="#7b84ff"/>
<rect x="214.98" y="208.00" width="14.46" height="13.30" fill="#7b84ff"/>
<rect x="229.14" y="208.00" width="14.46" height="13.30" fill="#7b84ff"/>
<rect x="130.00" y="221.00" width="14.46" height="13.30" fill="#4653ff"/>
<rect x="144.16" y="221.00" width="14.46" height="13.30" fill="#707aff"/>
<rect x="158.32" y="221.00" width="14.46" height="13.30" fill="#3c49ff"/>
<rect x="172.49" y="221.00" width="14.46" height="13.30" fill="#323fff"/>
<rect x="186.65" y="221.00" width="14.46" height="13.30" fill="#323fff"/>
<rect x="200.81" y="221.00" width="14.46" height="13.30" fill="#4653ff"/>
<rect x="214.98" y="221.00" width="14.46" height="13.30" fill="#4653ff"/>
<rect x="229.14" y="221.00" width="14.46" height="13.30" fill="#7b84ff"/>
<rect x="130.00" y="234.00" width="14.46" height="13.30" fill="#ff477c"/>
<rect x="144.16" y="234.00" width="14.46" height="13.30" fill="#ff5a93"/>
<rect x="158.32" y="234.00" width="14.46" height="13.30" fill="#ff2b57"/>
<rect x="172.49" y="234.00" width="14.46" height="13.30" fill="#ff5a93"/>
<rect x="186.65" y="234.00" width="14.46" height="13.30" fill="#ff99d0"/>
<rect x="200.81" y="234.00" width="14.46" height="13.30" fill="#ffa5d9"/>
<rect x="214.98" y="234.00" width="14.46" height="13.30" fill="#ff99d0"/>
<rect x="229.14" y="234.00" width="14.46" height="13.30" fill="#ffcaf0"/>
<rect x="130.00" y="247.00" width="14.46" height="13.30" fill="#ff649e"/>
<rect x="144.16" y="247.00" width="14.46" height="13.30" fill="#ff649e"/>
<rect x="158.32" y="247.00" width="14.46" height="13.30" fill="#ff8ec6"/>
<rect x="172.49" y="247.00" width="14.46" height="13.30" fill="#ff5a93"/>
<rect x="186.65" y="247.00" width="14.46" height="13.30" fill="#ff477c"/>
<rect x="200.81" y="247.00" width="14.46" height="13.30" fill="#ff477c"/>
<rect x="214.98" y="247.00" width="14.46" height="13.30" fill="#ff6ea8"/>
<rect x="229.14" y="247.00" width="14.46" height="13.30" fill="#ff8ec6"/>
<rect x="130.00" y="260.00" width="14.46" height="13.30" fill="#ff99d0"/>
<rect x="144.16" y="260.00" width="14.46" height="13.30" fill="#ff8ec6"/>
<rect x="158.32" y="260.00" width="14.46" height="13.30" fill="#ffcaf0"/>
<rect x="172.49" y="260.00" width="14.46" height="13.30" fill="#ffd8f6"/>
<rect x="186.65" y="260.00" width="14.46" height="13.30" fill="#ffa5d9"/>
<rect x="200.81" y="260.00" width="14.46" height="13.30" fill="#ffbde9"/>
<rect x="214.98" y="260.00" width="14.46" height="13.30" fill="#ffcaf0"/>
<rect x="229.14" y="260.00" width="14.46" height="13.30" fill="#ff224a"/>
<rect x="130.00" y="273.00" width="14.46" height="13.30" fill="#ff5087"/>
<rect x="144.16" y="273.00" width="14.46" height="13.30" fill="#ff224a"/>
<rect x="158.32" y="273.00" width="14.46" height="13.30" fill="#ff79b3"/>
<rect x="172.49" y="273.00" width="14.46" height="13.30" fill="#ff649e"/>
<rect x="186.65" y="273.00" width="14.46" height="13.30" fill="#ff79b3"/>
<rect x="200.81" y="273.00" width="14.46" height="13.30" fill="#ff83bd"/>
<rect x="214.98" y="273.00" width="14.46" height="13.30" fill="#ff83bd"/>
<rect x="229.14" y="273.00" width="14.46" height="13.30" fill="#ff99d0"/>
<rect x="130.00" y="286.00" width="14.46" height="13.30" fill="#ffcaf0"/>
<rect x="144.16" y="286.00" width="14.46" height="13.30" fill="#e7e9ff"/>
<rect x="158.32" y="286.00" width="14.46" height="13.30" fill="#ff79b3"/>
<rect x="172.49" y="286.00" width="14.46" height="13.30" fill="#ff79b3"/>
<rect x="186.65" y="286.00" width="14.46" height="13.30" fill="#ff79b3"/>
<rect x="200.81" y="286.00" width="14.46" height="13.30" fill="#ff3464"/>
<rect x="214.98" y="286.00" width="14.46" height="13.30" fill="#ff2b57"/>
<rect x="229.14" y="286.00" width="14.46" height="13.30" fill="#ff79b3"/>
<rect x="243.30" y="181.00" width="3.00" height="119.00" fill="#fff" stroke="none" stroke-width="1"/>
<rect x="246.20" y="182.00" width="14.45" height="13.30" fill="#515cff"/>
<rect x="260.35" y="182.00" width="14.45" height="13.30" fill="#6670ff"/>
<rect x="274.50" y="182.00" width="14.45" height="13.30" fill="#515cff"/>
<rect x="288.65" y="182.00" width="14.45" height="13.30" fill="#707aff"/>
<rect x="302.80" y="182.00" width="14.45" height="13.30" fill="#707aff"/>
<rect x="316.95" y="182.00" width="14.45" height="13.30" fill="#7b84ff"/>
<rect x="331.10" y="182.00" width="14.45" height="13.30" fill="#7b84ff"/>
<rect x="345.25" y="182.00" width="14.45" height="13.30" fill="#868eff"/>
<rect x="246.20" y="195.00" width="14.45" height="13.30" fill="#7b84ff"/>
<rect x="260.35" y="195.00" width="14.45" height="13.30" fill="#9198ff"/>
<rect x="274.50" y="195.00" width="14.45" height="13.30" fill="#9198ff"/>
<rect x="288.65" y="195.00" width="14.45" height="13.30" fill="#4653ff"/>
<rect x="302.80" y="195.00" width="14.45" height="13.30" fill="#868eff"/>
<rect x="316.95" y="195.00" width="14.45" height="13.30" fill="#868eff"/>
<rect x="331.10" y="195.00" width="14.45" height="13.30" fill="#9ca2ff"/>
<rect x="345.25" y="195.00" width="14.45" height="13.30" fill="#707aff"/>
<rect x="246.20" y="208.00" width="14.45" height="13.30" fill="#9198ff"/>
<rect x="260.35" y="208.00" width="14.45" height="13.30" fill="#707aff"/>
<rect x="274.50" y="208.00" width="14.45" height="13.30" fill="#868eff"/>
<rect x="288.65" y="208.00" width="14.45" height="13.30" fill="#bec2ff"/>
<rect x="302.80" y="208.00" width="14.45" height="13.30" fill="#b2b7ff"/>
<rect x="316.95" y="208.00" width="14.45" height="13.30" fill="#9198ff"/>
<rect x="331.10" y="208.00" width="14.45" height="13.30" fill="#bec2ff"/>
<rect x="345.25" y="208.00" width="14.45" height="13.30" fill="#cacdff"/>
<rect x="246.20" y="221.00" width="14.45" height="13.30" fill="#4653ff"/>
<rect x="260.35" y="221.00" width="14.45" height="13.30" fill="#323fff"/>
<rect x="274.50" y="221.00" width="14.45" height="13.30" fill="#515cff"/>
<rect x="288.65" y="221.00" width="14.45" height="13.30" fill="#3c49ff"/>
<rect x="302.80" y="221.00" width="14.45" height="13.30" fill="#2836ff"/>
<rect x="316.95" y="221.00" width="14.45" height="13.30" fill="#2836ff"/>
<rect x="331.10" y="221.00" width="14.45" height="13.30" fill="#1e2dff"/>
<rect x="345.25" y="221.00" width="14.45" height="13.30" fill="#1e2dff"/>
<rect x="246.20" y="234.00" width="14.45" height="13.30" fill="#ff5a93"/>
<rect x="260.35" y="234.00" width="14.45" height="13.30" fill="#ff79b3"/>
<rect x="274.50" y="234.00" width="14.45" height="13.30" fill="#ffa5d9"/>
<rect x="288.65" y="234.00" width="14.45" height="13.30" fill="#ff79b3"/>
<rect x="302.80" y="234.00" width="14.45" height="13.30" fill="#fff0fd"/>
<rect x="316.95" y="234.00" width="14.45" height="13.30" fill="#ffd2f3"/>
<rect x="331.10" y="234.00" width="14.45" height="13.30" fill="#ffa5d9"/>
<rect x="345.25" y="234.00" width="14.45" height="13.30" fill="#ffb0e1"/>
<rect x="246.20" y="247.00" width="14.45" height="13.30" fill="#ff5087"/>
<rect x="260.35" y="247.00" width="14.45" height="13.30" fill="#ff5087"/>
<rect x="274.50" y="247.00" width="14.45" height="13.30" fill="#ff3464"/>
<rect x="288.65" y="247.00" width="14.45" height="13.30" fill="#ff83bd"/>
<rect x="302.80" y="247.00" width="14.45" height="13.30" fill="#ff477c"/>
<rect x="316.95" y="247.00" width="14.45" height="13.30" fill="#ff477c"/>
<rect x="331.10" y="247.00" width="14.45" height="13.30" fill="#ff79b3"/>
<rect x="345.25" y="247.00" width="14.45" height="13.30" fill="#ff6ea8"/>
<rect x="246.20" y="260.00" width="14.45" height="13.30" fill="#ffcaf0"/>
<rect x="260.35" y="260.00" width="14.45" height="13.30" fill="#ff99d0"/>
<rect x="274.50" y="260.00" width="14.45" height="13.30" fill="#ffffff"/>
<rect x="288.65" y="260.00" width="14.45" height="13.30" fill="#ff83bd"/>
<rect x="302.80" y="260.00" width="14.45" height="13.30" fill="#ff6ea8"/>
<rect x="316.95" y="260.00" width="14.45" height="13.30" fill="#ff79b3"/>
<rect x="331.10" y="260.00" width="14.45" height="13.30" fill="#ff477c"/>
<rect x="345.25" y="260.00" width="14.45" height="13.30" fill="#ff477c"/>
<rect x="246.20" y="273.00" width="14.45" height="13.30" fill="#ff6ea8"/>
<rect x="260.35" y="273.00" width="14.45" height="13.30" fill="#ff79b3"/>
<rect x="274.50" y="273.00" width="14.45" height="13.30" fill="#ff6ea8"/>
<rect x="288.65" y="273.00" width="14.45" height="13.30" fill="#ffa5d9"/>
<rect x="302.80" y="273.00" width="14.45" height="13.30" fill="#ff6ea8"/>
<rect x="316.95" y="273.00" width="14.45" height="13.30" fill="#ff83bd"/>
<rect x="331.10" y="273.00" width="14.45" height="13.30" fill="#ff6ea8"/>
<rect x="345.25" y="273.00" width="14.45" height="13.30" fill="#ff8ec6"/>
<rect x="246.20" y="286.00" width="14.45" height="13.30" fill="#ff6ea8"/>
<rect x="260.35" y="286.00" width="14.45" height="13.30" fill="#ff6ea8"/>
<rect x="274.50" y="286.00" width="14.45" height="13.30" fill="#ff3d70"/>
<rect x="288.65" y="286.00" width="14.45" height="13.30" fill="#ff2b57"/>
<rect x="302.80" y="286.00" width="14.45" height="13.30" fill="#ff6ea8"/>
<rect x="316.95" y="286.00" width="14.45" height="13.30" fill="#ff5a93"/>
<rect x="331.10" y="286.00" width="14.45" height="13.30" fill="#ff99d0"/>
<rect x="345.25" y="286.00" width="14.45" height="13.30" fill="#ff83bd"/>
<rect x="359.40" y="181.00" width="3.00" height="119.00" fill="#fff" stroke="none" stroke-width="1"/>
<rect x="361.40" y="182.00" width="19.23" height="13.30" fill="#ff8ec6"/>
<rect x="380.33" y="182.00" width="19.23" height="13.30" fill="#ff6ea8"/>
<rect x="399.27" y="182.00" width="19.23" height="13.30" fill="#ff649e"/>
<rect x="418.20" y="182.00" width="19.23" height="13.30" fill="#ff6ea8"/>
<rect x="437.13" y="182.00" width="19.23" height="13.30" fill="#ff649e"/>
<rect x="456.07" y="182.00" width="19.23" height="13.30" fill="#ff8ec6"/>
<rect x="361.40" y="195.00" width="19.23" height="13.30" fill="#ff3464"/>
<rect x="380.33" y="195.00" width="19.23" height="13.30" fill="#ff5a93"/>
<rect x="399.27" y="195.00" width="19.23" height="13.30" fill="#ff5a93"/>
<rect x="418.20" y="195.00" width="19.23" height="13.30" fill="#ff477c"/>
<rect x="437.13" y="195.00" width="19.23" height="13.30" fill="#ff79b3"/>
<rect x="456.07" y="195.00" width="19.23" height="13.30" fill="#ff649e"/>
<rect x="361.40" y="208.00" width="19.23" height="13.30" fill="#ff3d70"/>
<rect x="380.33" y="208.00" width="19.23" height="13.30" fill="#ff79b3"/>
<rect x="399.27" y="208.00" width="19.23" height="13.30" fill="#ff79b3"/>
<rect x="418.20" y="208.00" width="19.23" height="13.30" fill="#ff79b3"/>
<rect x="437.13" y="208.00" width="19.23" height="13.30" fill="#ff79b3"/>
<rect x="456.07" y="208.00" width="19.23" height="13.30" fill="#ff79b3"/>
<rect x="361.40" y="221.00" width="19.23" height="13.30" fill="#ff79b3"/>
<rect x="380.33" y="221.00" width="19.23" height="13.30" fill="#ff2b57"/>
<rect x="399.27" y="221.00" width="19.23" height="13.30" fill="#ff3464"/>
<rect x="418.20" y="221.00" width="19.23" height="13.30" fill="#ff477c"/>
<rect x="437.13" y="221.00" width="19.23" height="13.30" fill="#ff2b57"/>
<rect x="456.07" y="221.00" width="19.23" height="13.30" fill="#ff193e"/>
<rect x="361.40" y="234.00" width="19.23" height="13.30" fill="#2836ff"/>
<rect x="380.33" y="234.00" width="19.23" height="13.30" fill="#ffffff"/>
<rect x="399.27" y="234.00" width="19.23" height="13.30" fill="#dddfff"/>
<rect x="418.20" y="234.00" width="19.23" height="13.30" fill="#f5f6ff"/>
<rect x="437.13" y="234.00" width="19.23" height="13.30" fill="#b2b7ff"/>
<rect x="456.07" y="234.00" width="19.23" height="13.30" fill="#a7adff"/>
<rect x="361.40" y="247.00" width="19.23" height="13.30" fill="#a7adff"/>
<rect x="380.33" y="247.00" width="19.23" height="13.30" fill="#868eff"/>
<rect x="399.27" y="247.00" width="19.23" height="13.30" fill="#868eff"/>
<rect x="418.20" y="247.00" width="19.23" height="13.30" fill="#707aff"/>
<rect x="437.13" y="247.00" width="19.23" height="13.30" fill="#868eff"/>
<rect x="456.07" y="247.00" width="19.23" height="13.30" fill="#9198ff"/>
<rect x="361.40" y="260.00" width="19.23" height="13.30" fill="#ffcaf0"/>
<rect x="380.33" y="260.00" width="19.23" height="13.30" fill="#bec2ff"/>
<rect x="399.27" y="260.00" width="19.23" height="13.30" fill="#e2e4ff"/>
<rect x="418.20" y="260.00" width="19.23" height="13.30" fill="#e2e4ff"/>
<rect x="437.13" y="260.00" width="19.23" height="13.30" fill="#ffcaf0"/>
<rect x="456.07" y="260.00" width="19.23" height="13.30" fill="#e7e9ff"/>
<rect x="361.40" y="273.00" width="19.23" height="13.30" fill="#515cff"/>
<rect x="380.33" y="273.00" width="19.23" height="13.30" fill="#515cff"/>
<rect x="399.27" y="273.00" width="19.23" height="13.30" fill="#323fff"/>
<rect x="418.20" y="273.00" width="19.23" height="13.30" fill="#2836ff"/>
<rect x="437.13" y="273.00" width="19.23" height="13.30" fill="#2836ff"/>
<rect x="456.07" y="273.00" width="19.23" height="13.30" fill="#4653ff"/>
<rect x="361.40" y="286.00" width="19.23" height="13.30" fill="#a7adff"/>
<rect x="380.33" y="286.00" width="19.23" height="13.30" fill="#323fff"/>
<rect x="399.27" y="286.00" width="19.23" height="13.30" fill="#515cff"/>
<rect x="418.20" y="286.00" width="19.23" height="13.30" fill="#9198ff"/>
<rect x="437.13" y="286.00" width="19.23" height="13.30" fill="#707aff"/>
<rect x="456.07" y="286.00" width="19.23" height="13.30" fill="#707aff"/>
<rect x="475.00" y="181.00" width="3.00" height="119.00" fill="#fff" stroke="none" stroke-width="1"/>
</g>
<text x="72" y="175.4" font-size="7.4" text-anchor="middle" fill="#111"  stroke="#1a1a1a" stroke-width="0.16">Interferon</text>
<text x="21.99375" y="302.4" font-size="6.1" text-anchor="end" fill="#222" transform="rotate(-90 21.99375 302.4)" stroke="none" letter-spacing="0.12">Ifit3</text>
<text x="36.181250000000006" y="302.4" font-size="6.1" text-anchor="end" fill="#222" transform="rotate(-90 36.181250000000006 302.4)" stroke="none" letter-spacing="0.12">Gbp2b</text>
<text x="50.368750000000006" y="302.4" font-size="6.1" text-anchor="end" fill="#222" transform="rotate(-90 50.368750000000006 302.4)" stroke="none" letter-spacing="0.12">Flnb</text>
<text x="64.55625" y="302.4" font-size="6.1" text-anchor="end" fill="#222" transform="rotate(-90 64.55625 302.4)" stroke="none" letter-spacing="0.12">Ifngr2</text>
<text x="78.74375" y="302.4" font-size="6.1" text-anchor="end" fill="#222" transform="rotate(-90 78.74375 302.4)" stroke="none" letter-spacing="0.12">Ifitm2</text>
<text x="92.93125" y="302.4" font-size="6.1" text-anchor="end" fill="#222" transform="rotate(-90 92.93125 302.4)" stroke="none" letter-spacing="0.12">Ifngr1</text>
<text x="107.11875" y="302.4" font-size="6.1" text-anchor="end" fill="#222" transform="rotate(-90 107.11875 302.4)" stroke="none" letter-spacing="0.12">Irf5</text>
<text x="121.30625" y="302.4" font-size="6.1" text-anchor="end" fill="#222" transform="rotate(-90 121.30625 302.4)" stroke="none" letter-spacing="0.12">Egr1</text>
<text x="184" y="175.4" font-size="7.4" text-anchor="middle" fill="#111"  stroke="#1a1a1a" stroke-width="0.16">Adhesion</text>
<text x="138.78125" y="302.4" font-size="6.1" text-anchor="end" fill="#222" transform="rotate(-90 138.78125 302.4)" stroke="none" letter-spacing="0.12">Vcan</text>
<text x="152.94375" y="302.4" font-size="6.1" text-anchor="end" fill="#222" transform="rotate(-90 152.94375 302.4)" stroke="none" letter-spacing="0.12">Siglec1</text>
<text x="167.10625" y="302.4" font-size="6.1" text-anchor="end" fill="#222" transform="rotate(-90 167.10625 302.4)" stroke="none" letter-spacing="0.12">Itgam</text>
<text x="181.26875" y="302.4" font-size="6.1" text-anchor="end" fill="#222" transform="rotate(-90 181.26875 302.4)" stroke="none" letter-spacing="0.12">Itga4</text>
<text x="195.43124999999998" y="302.4" font-size="6.1" text-anchor="end" fill="#222" transform="rotate(-90 195.43124999999998 302.4)" stroke="none" letter-spacing="0.12">Vcam1</text>
<text x="209.59375" y="302.4" font-size="6.1" text-anchor="end" fill="#222" transform="rotate(-90 209.59375 302.4)" stroke="none" letter-spacing="0.12">Nectin1</text>
<text x="223.75625" y="302.4" font-size="6.1" text-anchor="end" fill="#222" transform="rotate(-90 223.75625 302.4)" stroke="none" letter-spacing="0.12">Icam1</text>
<text x="237.91875" y="302.4" font-size="6.1" text-anchor="end" fill="#222" transform="rotate(-90 237.91875 302.4)" stroke="none" letter-spacing="0.12">Mmp9</text>
<text x="297.5" y="175.4" font-size="7.4" text-anchor="middle" fill="#111"  stroke="#1a1a1a" stroke-width="0.16">Costimulatory</text>
<text x="254.97499999999997" y="302.4" font-size="6.1" text-anchor="end" fill="#222" transform="rotate(-90 254.97499999999997 302.4)" stroke="none" letter-spacing="0.12">Cd48</text>
<text x="269.125" y="302.4" font-size="6.1" text-anchor="end" fill="#222" transform="rotate(-90 269.125 302.4)" stroke="none" letter-spacing="0.12">Cd80</text>
<text x="283.275" y="302.4" font-size="6.1" text-anchor="end" fill="#222" transform="rotate(-90 283.275 302.4)" stroke="none" letter-spacing="0.12">Il18</text>
<text x="297.42499999999995" y="302.4" font-size="6.1" text-anchor="end" fill="#222" transform="rotate(-90 297.42499999999995 302.4)" stroke="none" letter-spacing="0.12">Spp1</text>
<text x="311.575" y="302.4" font-size="6.1" text-anchor="end" fill="#222" transform="rotate(-90 311.575 302.4)" stroke="none" letter-spacing="0.12">Tnfsf14</text>
<text x="325.72499999999997" y="302.4" font-size="6.1" text-anchor="end" fill="#222" transform="rotate(-90 325.72499999999997 302.4)" stroke="none" letter-spacing="0.12">Cd40</text>
<text x="339.87499999999994" y="302.4" font-size="6.1" text-anchor="end" fill="#222" transform="rotate(-90 339.87499999999994 302.4)" stroke="none" letter-spacing="0.12">Cd86</text>
<text x="354.025" y="302.4" font-size="6.1" text-anchor="end" fill="#222" transform="rotate(-90 354.025 302.4)" stroke="none" letter-spacing="0.12">Il2rb</text>
<text x="410" y="175.4" font-size="7.4" text-anchor="middle" fill="#111"  stroke="#1a1a1a" stroke-width="0.16">Cell proliferation</text>
<text x="372.56666666666666" y="302.4" font-size="6.1" text-anchor="end" fill="#222" transform="rotate(-90 372.56666666666666 302.4)" stroke="none" letter-spacing="0.12">Psmb5</text>
<text x="391.49999999999994" y="302.4" font-size="6.1" text-anchor="end" fill="#222" transform="rotate(-90 391.49999999999994 302.4)" stroke="none" letter-spacing="0.12">Blm</text>
<text x="410.43333333333334" y="302.4" font-size="6.1" text-anchor="end" fill="#222" transform="rotate(-90 410.43333333333334 302.4)" stroke="none" letter-spacing="0.12">Rrm2</text>
<text x="429.3666666666666" y="302.4" font-size="6.1" text-anchor="end" fill="#222" transform="rotate(-90 429.3666666666666 302.4)" stroke="none" letter-spacing="0.12">Ube2c</text>
<text x="448.3" y="302.4" font-size="6.1" text-anchor="end" fill="#222" transform="rotate(-90 448.3 302.4)" stroke="none" letter-spacing="0.12">Ccne1</text>
<text x="467.2333333333333" y="302.4" font-size="6.1" text-anchor="end" fill="#222" transform="rotate(-90 467.2333333333333 302.4)" stroke="none" letter-spacing="0.12">Cdc25c</text>
<text x="479.2" y="189.9" font-size="5.9" text-anchor="start" fill="#111"  stroke="#1a1a1a" stroke-width="0.16">Vh 1</text>
<text x="479.2" y="202.9" font-size="5.9" text-anchor="start" fill="#111"  stroke="#1a1a1a" stroke-width="0.16">Vh 2</text>
<text x="479.2" y="215.9" font-size="5.9" text-anchor="start" fill="#111"  stroke="#1a1a1a" stroke-width="0.16">Vh 3</text>
<text x="479.2" y="228.9" font-size="5.9" text-anchor="start" fill="#111"  stroke="#1a1a1a" stroke-width="0.16">Vh 4</text>
<text x="479.2" y="241.9" font-size="5.9" text-anchor="start" fill="#111"  stroke="#1a1a1a" stroke-width="0.16">Tolinapant 1</text>
<text x="479.2" y="254.9" font-size="5.9" text-anchor="start" fill="#111"  stroke="#1a1a1a" stroke-width="0.16">Tolinapant 2</text>
<text x="479.2" y="267.9" font-size="5.9" text-anchor="start" fill="#111"  stroke="#1a1a1a" stroke-width="0.16">Tolinapant 3</text>
<text x="479.2" y="280.9" font-size="5.9" text-anchor="start" fill="#111"  stroke="#1a1a1a" stroke-width="0.16">Tolinapant 4</text>
<text x="479.2" y="293.9" font-size="5.9" text-anchor="start" fill="#111"  stroke="#1a1a1a" stroke-width="0.16">Tolinapant 5</text>
<text x="120.5" y="350.6" font-size="8" text-anchor="middle" fill="#111"  stroke="#1a1a1a" stroke-width="0.16">BW5147</text>
<text x="120.8" y="360" font-size="7.35" text-anchor="middle" fill="#111"  stroke="#1a1a1a" stroke-width="0.16">Immunodeficient host</text>
<line x1="47.5" y1="374.502" x2="47.5" y2="489.1" stroke="#111" stroke-width="1.45" stroke-linecap="butt"/>
<line x1="46.9" y1="488.5" x2="48.2" y2="488.5" stroke="#111" stroke-width="1.45" stroke-linecap="butt"/>
<line x1="83.6" y1="488.5" x2="190.5" y2="488.5" stroke="#111" stroke-width="1.45" stroke-linecap="butt"/>
<line x1="44.1" y1="488.5" x2="47.5" y2="488.5" stroke="#111" stroke-width="1.15" stroke-linecap="butt"/>
<text x="41.8" y="490.6" font-size="6.2" text-anchor="end" fill="#111"  stroke="#1a1a1a" stroke-width="0.16">0</text>
<line x1="44.1" y1="472.286" x2="47.5" y2="472.286" stroke="#111" stroke-width="1.15" stroke-linecap="butt"/>
<text x="41.8" y="474.386" font-size="6.2" text-anchor="end" fill="#111"  stroke="#1a1a1a" stroke-width="0.16">200</text>
<line x1="44.1" y1="456.072" x2="47.5" y2="456.072" stroke="#111" stroke-width="1.15" stroke-linecap="butt"/>
<text x="41.8" y="458.172" font-size="6.2" text-anchor="end" fill="#111"  stroke="#1a1a1a" stroke-width="0.16">400</text>
<line x1="44.1" y1="439.858" x2="47.5" y2="439.858" stroke="#111" stroke-width="1.15" stroke-linecap="butt"/>
<text x="41.8" y="441.958" font-size="6.2" text-anchor="end" fill="#111"  stroke="#1a1a1a" stroke-width="0.16">600</text>
<line x1="44.1" y1="423.644" x2="47.5" y2="423.644" stroke="#111" stroke-width="1.15" stroke-linecap="butt"/>
<text x="41.8" y="425.744" font-size="6.2" text-anchor="end" fill="#111"  stroke="#1a1a1a" stroke-width="0.16">800</text>
<line x1="44.1" y1="407.43" x2="47.5" y2="407.43" stroke="#111" stroke-width="1.15" stroke-linecap="butt"/>
<text x="41.8" y="409.53000000000003" font-size="6.2" text-anchor="end" fill="#111"  stroke="#1a1a1a" stroke-width="0.16">1000</text>
<line x1="44.1" y1="391.216" x2="47.5" y2="391.216" stroke="#111" stroke-width="1.15" stroke-linecap="butt"/>
<text x="41.8" y="393.31600000000003" font-size="6.2" text-anchor="end" fill="#111"  stroke="#1a1a1a" stroke-width="0.16">1200</text>
<line x1="44.1" y1="375.002" x2="47.5" y2="375.002" stroke="#111" stroke-width="1.15" stroke-linecap="butt"/>
<text x="41.8" y="377.10200000000003" font-size="6.2" text-anchor="end" fill="#111"  stroke="#1a1a1a" stroke-width="0.16">1400</text>
<line x1="47.5" y1="488.5" x2="47.5" y2="491.9" stroke="#111" stroke-width="1.2" stroke-linecap="butt"/>
<text x="47.5" y="499.3" font-size="6.1" text-anchor="middle" fill="#111"  stroke="#1a1a1a" stroke-width="0.16">0</text>
<line x1="95.0" y1="488.5" x2="95.0" y2="491.9" stroke="#111" stroke-width="1.2" stroke-linecap="butt"/>
<text x="95.0" y="499.3" font-size="6.1" text-anchor="middle" fill="#111"  stroke="#1a1a1a" stroke-width="0.16">5</text>
<line x1="142.5" y1="488.5" x2="142.5" y2="491.9" stroke="#111" stroke-width="1.2" stroke-linecap="butt"/>
<text x="142.5" y="499.3" font-size="6.1" text-anchor="middle" fill="#111"  stroke="#1a1a1a" stroke-width="0.16">10</text>
<line x1="190.0" y1="488.5" x2="190.0" y2="491.9" stroke="#111" stroke-width="1.2" stroke-linecap="butt"/>
<text x="190.0" y="499.3" font-size="6.1" text-anchor="middle" fill="#111"  stroke="#1a1a1a" stroke-width="0.16">15</text>
<text x="19.3" y="432" font-size="8.6" text-anchor="middle" fill="#111" textLength="64" lengthAdjust="spacingAndGlyphs" transform="rotate(-90 19.3 432)" stroke="#111" stroke-width="0.4">Tumour volume (mm<tspan font-size="5.5" dy="-3">3</tspan><tspan dy="3">)</tspan></text>
<text x="118.5" y="511.5" font-size="9.0" text-anchor="middle" fill="#111" textLength="33" lengthAdjust="spacingAndGlyphs" stroke="#111" stroke-width="0.4">Time (days)</text>
<polyline points="47.5,488.5 85.5,488.3 104.5,485.0 123.5,477.0 152.0,455.0 171.0,428.0 190.0,390.0" fill="none" stroke="#cc1626" stroke-width="1.6" stroke-linejoin="round"/>
<line x1="152.0" y1="452.0" x2="152.0" y2="458.20000000000005" stroke="#cc1626" stroke-width="1" stroke-linecap="butt"/>
<line x1="150.2" y1="452.0" x2="153.8" y2="452.0" stroke="#cc1626" stroke-width="1" stroke-linecap="butt"/>
<line x1="150.2" y1="458.20000000000005" x2="153.8" y2="458.20000000000005" stroke="#cc1626" stroke-width="1" stroke-linecap="butt"/>
<line x1="171.0" y1="425.0" x2="171.0" y2="431.4" stroke="#cc1626" stroke-width="1" stroke-linecap="butt"/>
<line x1="169.2" y1="425.0" x2="172.8" y2="425.0" stroke="#cc1626" stroke-width="1" stroke-linecap="butt"/>
<line x1="169.2" y1="431.4" x2="172.8" y2="431.4" stroke="#cc1626" stroke-width="1" stroke-linecap="butt"/>
<line x1="190.0" y1="384.2" x2="190.0" y2="395.2" stroke="#cc1626" stroke-width="1" stroke-linecap="butt"/>
<line x1="188.2" y1="384.2" x2="191.8" y2="384.2" stroke="#cc1626" stroke-width="1" stroke-linecap="butt"/>
<line x1="188.2" y1="395.2" x2="191.8" y2="395.2" stroke="#cc1626" stroke-width="1" stroke-linecap="butt"/>
<polyline points="47.5,488.5 85.5,488.3 104.5,485.0 123.5,477.0 152.0,443.0 171.0,389.0" fill="none" stroke="#0d30b6" stroke-width="1.6" stroke-linejoin="round"/>
<line x1="48.2" y1="488.5" x2="85.5" y2="488.4" stroke="#0d30b6" stroke-width="1.9" stroke-linecap="butt"/>
<line x1="152.0" y1="439.59999999999997" x2="152.0" y2="445.8" stroke="#0d30b6" stroke-width="1" stroke-linecap="butt"/>
<line x1="150.2" y1="439.59999999999997" x2="153.8" y2="439.59999999999997" stroke="#0d30b6" stroke-width="1" stroke-linecap="butt"/>
<line x1="150.2" y1="445.8" x2="153.8" y2="445.8" stroke="#0d30b6" stroke-width="1" stroke-linecap="butt"/>
<line x1="171.0" y1="383.0" x2="171.0" y2="393.6" stroke="#0d30b6" stroke-width="1" stroke-linecap="butt"/>
<line x1="169.2" y1="383.0" x2="172.8" y2="383.0" stroke="#0d30b6" stroke-width="1" stroke-linecap="butt"/>
<line x1="169.2" y1="393.6" x2="172.8" y2="393.6" stroke="#0d30b6" stroke-width="1" stroke-linecap="butt"/>
<circle cx="47.50" cy="488.50" r="1.6" fill="#0d30b6"/>
<circle cx="85.50" cy="488.30" r="1.6" fill="#0d30b6"/>
<circle cx="104.50" cy="485.00" r="1.6" fill="#0d30b6"/>
<circle cx="123.50" cy="477.00" r="1.6" fill="#0d30b6"/>
<circle cx="152.00" cy="443.00" r="1.6" fill="#0d30b6"/>
<circle cx="171.00" cy="389.00" r="1.6" fill="#0d30b6"/>
<text x="171.6" y="412.48" font-size="5.8" text-anchor="middle" fill="#111" stroke="#111" stroke-width="0.22" letter-spacing="0.54">**</text>
<line x1="54" y1="380.2" x2="62.5" y2="380.2" stroke="#0d30b6" stroke-width="1.5" stroke-linecap="butt"/>
<circle cx="58.20" cy="380.20" r="1.4" fill="#0d30b6"/>
<line x1="54" y1="390" x2="62.5" y2="390" stroke="#cc1626" stroke-width="1.5" stroke-linecap="butt"/>
<text x="67.1" y="382.0" font-size="6.05" text-anchor="start" fill="#111"  stroke="#1a1a1a" stroke-width="0.16">Vehicle</text>
<text x="67.1" y="391.9" font-size="6.05" text-anchor="start" fill="#111"  stroke="#1a1a1a" stroke-width="0.16">Tolinapant (16 mg/kg, po, qd)</text>
<text x="362.5" y="362" font-size="8" text-anchor="middle" fill="#111"  stroke="#1a1a1a" stroke-width="0.16">BW5147</text>
<text x="362.5" y="371.4" font-size="7.35" text-anchor="middle" fill="#111"  stroke="#1a1a1a" stroke-width="0.16">Tumour re-challenge</text>
<line x1="287.5" y1="381" x2="287.5" y2="481.6" stroke="#111" stroke-width="1.45" stroke-linecap="butt"/>
<line x1="286.9" y1="481" x2="439.02" y2="481" stroke="#111" stroke-width="1.45" stroke-linecap="butt"/>
<line x1="284.1" y1="481.0" x2="287.5" y2="481.0" stroke="#111" stroke-width="1.15" stroke-linecap="butt"/>
<text x="281.3" y="483.1" font-size="6.2" text-anchor="end" fill="#111"  stroke="#1a1a1a" stroke-width="0.16">0</text>
<line x1="284.1" y1="462.0" x2="287.5" y2="462.0" stroke="#111" stroke-width="1.15" stroke-linecap="butt"/>
<text x="281.3" y="464.1" font-size="6.2" text-anchor="end" fill="#111"  stroke="#1a1a1a" stroke-width="0.16">20</text>
<line x1="284.1" y1="443.0" x2="287.5" y2="443.0" stroke="#111" stroke-width="1.15" stroke-linecap="butt"/>
<text x="281.3" y="445.1" font-size="6.2" text-anchor="end" fill="#111"  stroke="#1a1a1a" stroke-width="0.16">40</text>
<line x1="284.1" y1="424.0" x2="287.5" y2="424.0" stroke="#111" stroke-width="1.15" stroke-linecap="butt"/>
<text x="281.3" y="426.1" font-size="6.2" text-anchor="end" fill="#111"  stroke="#1a1a1a" stroke-width="0.16">60</text>
<line x1="284.1" y1="405.0" x2="287.5" y2="405.0" stroke="#111" stroke-width="1.15" stroke-linecap="butt"/>
<text x="281.3" y="407.1" font-size="6.2" text-anchor="end" fill="#111"  stroke="#1a1a1a" stroke-width="0.16">80</text>
<line x1="284.1" y1="386.0" x2="287.5" y2="386.0" stroke="#111" stroke-width="1.15" stroke-linecap="butt"/>
<text x="281.3" y="388.1" font-size="6.2" text-anchor="end" fill="#111"  stroke="#1a1a1a" stroke-width="0.16">100</text>
<line x1="300.085" y1="481" x2="300.085" y2="483.3" stroke="#111" stroke-width="1.0" stroke-linecap="butt"/>
<line x1="325.255" y1="481" x2="325.255" y2="483.3" stroke="#111" stroke-width="1.0" stroke-linecap="butt"/>
<line x1="350.425" y1="481" x2="350.425" y2="483.3" stroke="#111" stroke-width="1.0" stroke-linecap="butt"/>
<line x1="375.595" y1="481" x2="375.595" y2="483.3" stroke="#111" stroke-width="1.0" stroke-linecap="butt"/>
<line x1="400.765" y1="481" x2="400.765" y2="483.3" stroke="#111" stroke-width="1.0" stroke-linecap="butt"/>
<line x1="425.935" y1="481" x2="425.935" y2="483.3" stroke="#111" stroke-width="1.0" stroke-linecap="butt"/>
<line x1="287.5" y1="481" x2="287.5" y2="484.4" stroke="#111" stroke-width="1.2" stroke-linecap="butt"/>
<text x="287.5" y="491.6" font-size="6.1" text-anchor="middle" fill="#111"  stroke="#1a1a1a" stroke-width="0.16">0</text>
<line x1="312.67" y1="481" x2="312.67" y2="484.4" stroke="#111" stroke-width="1.2" stroke-linecap="butt"/>
<text x="312.67" y="491.6" font-size="6.1" text-anchor="middle" fill="#111"  stroke="#1a1a1a" stroke-width="0.16">10</text>
<line x1="337.84" y1="481" x2="337.84" y2="484.4" stroke="#111" stroke-width="1.2" stroke-linecap="butt"/>
<text x="337.84" y="491.6" font-size="6.1" text-anchor="middle" fill="#111"  stroke="#1a1a1a" stroke-width="0.16">20</text>
<line x1="363.01" y1="481" x2="363.01" y2="484.4" stroke="#111" stroke-width="1.2" stroke-linecap="butt"/>
<text x="363.01" y="491.6" font-size="6.1" text-anchor="middle" fill="#111"  stroke="#1a1a1a" stroke-width="0.16">30</text>
<line x1="388.18" y1="481" x2="388.18" y2="484.4" stroke="#111" stroke-width="1.2" stroke-linecap="butt"/>
<text x="388.18" y="491.6" font-size="6.1" text-anchor="middle" fill="#111"  stroke="#1a1a1a" stroke-width="0.16">40</text>
<line x1="413.35" y1="481" x2="413.35" y2="484.4" stroke="#111" stroke-width="1.2" stroke-linecap="butt"/>
<text x="413.35" y="491.6" font-size="6.1" text-anchor="middle" fill="#111"  stroke="#1a1a1a" stroke-width="0.16">50</text>
<line x1="438.52" y1="481" x2="438.52" y2="484.4" stroke="#111" stroke-width="1.2" stroke-linecap="butt"/>
<text x="438.52" y="491.6" font-size="6.1" text-anchor="middle" fill="#111"  stroke="#1a1a1a" stroke-width="0.16">60</text>
<text x="264.9" y="431.2" font-size="8.6" text-anchor="middle" fill="#111" textLength="66" lengthAdjust="spacingAndGlyphs" transform="rotate(-90 264.9 431.2)" stroke="#111" stroke-width="0.4">% tumour-free animals</text>
<text x="363" y="504.5" font-size="9.0" text-anchor="middle" fill="#111" textLength="64.6" lengthAdjust="spacingAndGlyphs" stroke="#111" stroke-width="0.4">Days post re-challenge</text>
<line x1="305.119" y1="386.0" x2="438.52" y2="386.0" stroke="#cc1626" stroke-width="1.6" stroke-linecap="butt"/>
<rect x="436.37" y="383.85" width="4.30" height="4.30" fill="#cc1626" stroke="none" stroke-width="1"/>
<polyline points="287.5,386.0 305.119,386.0 305.119,471.5 317.704,471.5 317.704,481.0" fill="none" stroke="#0d30b6" stroke-width="1.6"/>
<circle cx="305.12" cy="471.50" r="2.2" fill="#0d30b6"/>
<circle cx="317.70" cy="481.00" r="2.2" fill="#0d30b6"/>
<line x1="389" y1="457" x2="412.8" y2="457" stroke="#0d30b6" stroke-width="1.5" stroke-linecap="butt"/>
<circle cx="400.90" cy="457.00" r="2.2" fill="#0d30b6"/>
<line x1="389" y1="470.7" x2="412.8" y2="470.7" stroke="#cc1626" stroke-width="1.5" stroke-linecap="butt"/>
<rect x="398.75" y="468.55" width="4.30" height="4.30" fill="#cc1626" stroke="none" stroke-width="1"/>
<text x="420.5" y="459" font-size="6.1" text-anchor="start" fill="#111"  stroke="#1a1a1a" stroke-width="0.16">Naïve (1=10)</text>
<text x="420.5" y="472.5" font-size="6.1" text-anchor="start" fill="#111"  stroke="#1a1a1a" stroke-width="0.16">BW5147 Tolinapant cured (n=10)</text>
<path d="M0 0H520V520H0Z M1.35 1.3V518.75H518.7V1.3Z" fill="#000" fill-rule="evenodd"/>
</svg>
</body></html>
